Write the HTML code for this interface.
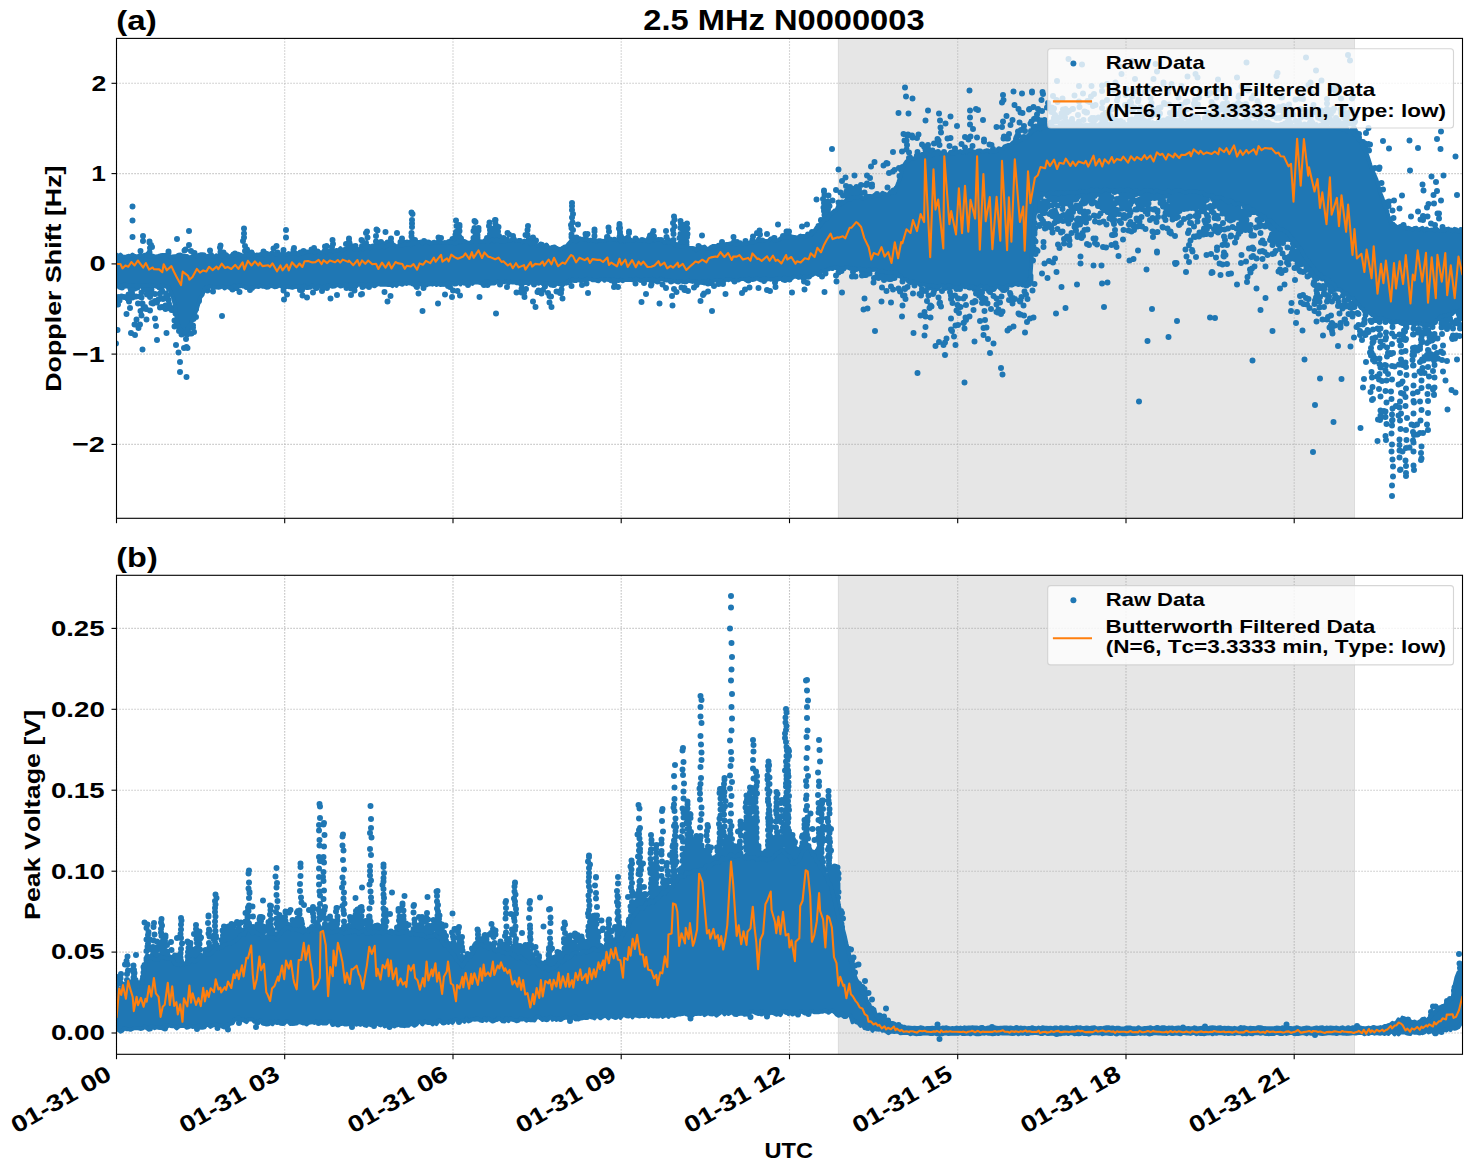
<!DOCTYPE html><html><head><meta charset="utf-8"><title>2.5 MHz N0000003</title><style>html,body{margin:0;padding:0;background:#fff;overflow:hidden}svg{display:block}text{font-family:"Liberation Sans",sans-serif;font-weight:bold;font-kerning:none}</style></head><body>
<svg width="1471" height="1172" viewBox="0 0 1471 1172">
<rect width="1471" height="1172" fill="#fff"/>
<rect x="838" y="38.4" width="516.9" height="479.9" fill="#e6e6e6"/>
<path d="M838.4 38.4V518.3M1354.5 38.4V518.3" stroke="#dadada" stroke-width="0.9" fill="none"/>
<rect x="838" y="575.3" width="516.9" height="479" fill="#e6e6e6"/>
<path d="M838.4 575.3V1054.3M1354.5 575.3V1054.3" stroke="#dadada" stroke-width="0.9" fill="none"/>
<g stroke="#b0b0b0" stroke-width="1.1" stroke-dasharray="1.1 1.9" fill="none"><path d="M116.5 38.4V518.3"/><path d="M284.7 38.4V518.3"/><path d="M453 38.4V518.3"/><path d="M621.2 38.4V518.3"/><path d="M789.5 38.4V518.3"/><path d="M957.7 38.4V518.3"/><path d="M1126 38.4V518.3"/><path d="M1294.2 38.4V518.3"/><path d="M116.5 83.3H1462.5"/><path d="M116.5 173.6H1462.5"/><path d="M116.5 263.9H1462.5"/><path d="M116.5 354.1H1462.5"/><path d="M116.5 444.4H1462.5"/></g>
<g stroke="#b0b0b0" stroke-width="1.1" stroke-dasharray="1.1 1.9" fill="none"><path d="M116.5 575.3V1054.3"/><path d="M284.7 575.3V1054.3"/><path d="M453 575.3V1054.3"/><path d="M621.2 575.3V1054.3"/><path d="M789.5 575.3V1054.3"/><path d="M957.7 575.3V1054.3"/><path d="M1126 575.3V1054.3"/><path d="M1294.2 575.3V1054.3"/><path d="M116.5 628.4H1462.5"/><path d="M116.5 709.3H1462.5"/><path d="M116.5 790.2H1462.5"/><path d="M116.5 871.2H1462.5"/><path d="M116.5 952.1H1462.5"/><path d="M116.5 1033H1462.5"/></g>
<defs><clipPath id="ct"><rect x="116.5" y="38.4" width="1346" height="479.9"/></clipPath><clipPath id="cb"><rect x="116.5" y="575.3" width="1346" height="479"/></clipPath></defs>
<g clip-path="url(#ct)">
<path d="M116 343.5h0M116 286h0M117.5 256.5h0M118 304.5h0M117.5 330h0M118.5 297.5h0M118.5 297h0M119.5 300.5h0M120.5 287h0M121 285.5h0M121.5 296.5h0M122 287.5h0M124 286h0M124 297h0M126.5 314h0M127 285.5h0M127.5 298.5h0M128.5 294.5h0M129.5 257h0M129 301.5h0M131 290.5h0M130.5 288.5h0M130.5 297h0M131 333h0M130 308h0M131.5 285h0M132 293h0M132.5 297.5h0M134.5 287h0M134.5 324.5h0M135 257h0M136 296.5h0M135 288.5h0M135 335h0M136 288h0M136.5 285.5h0M136.5 319.5h0M137.5 287.5h0M138 303.5h0M139 285.5h0M138.5 328h0M140 296.5h0M140.5 251h0M140 324.5h0M140.5 311h0M141.5 292.5h0M141.5 315.5h0M141.5 297.5h0M142.5 303.5h0M142.5 349.5h0M143.5 287.5h0M143.5 306.5h0M146 309h0M145 307h0M146.5 319.5h0M147 294.5h0M147 290.5h0M147.5 285h0M148.5 289.5h0M150.5 295h0M150 310.5h0M150 297h0M151 294h0M150.5 287.5h0M152 247h0M151.5 289.5h0M151.5 303h0M152.5 285h0M153 303.5h0M153.5 285h0M155 301h0M155 294h0M155 318.5h0M155 284h0M156.5 285.5h0M156 326h0M157 340h0M157 284h0M157 302.5h0M158.5 284h0M158.5 299.5h0M158.5 284.5h0M159.5 287.5h0M160 307.5h0M160 298.5h0M160 293.5h0M160.5 287.5h0M161.5 285.5h0M163 299h0M162 290.5h0M162 307h0M163.5 298.5h0M163.5 284.5h0M165.5 305.5h0M165.5 309h0M166 293.5h0M166.5 333h0M168 295.5h0M168.5 300h0M169 288.5h0M169.5 306.5h0M170 308.5h0M169 304h0M171.5 310h0M171.5 308h0M172.5 308.5h0M173.5 309h0M175 308.5h0M174.5 320.5h0M174.5 326.5h0M175.5 313.5h0M177 239h0M177 325.5h0M178.5 352.5h0M179 331h0M181.5 334.5h0M184.5 250.5h0M185.5 249.5h0M185.5 331.5h0M187 334.5h0M186 339h0M186.5 347h0M186.5 330.5h0M186.5 377h0M188 332h0M188 331h0M187.5 348h0M188 327.5h0M189 333.5h0M190.5 324h0M191 251h0M191.5 333.5h0M193 325.5h0M193 327.5h0M193.5 316.5h0M193.5 315.5h0M193 317h0M193.5 319h0M194 332h0M194.5 253h0M196 317h0M196 309h0M199 301h0M199 300.5h0M205 285h0M207.5 290.5h0M209 256.5h0M211 255h0M210 250.5h0M213 291.5h0M215 286h0M222 316h0M221 285.5h0M223.5 252.5h0M224 257h0M230.5 287h0M232.5 289.5h0M234 257h0M235 253.5h0M236.5 288h0M239.5 292h0M239.5 285.5h0M243.5 285.5h0M246.5 287h0M250 290h0M251.5 252.5h0M252 288h0M263.5 251.5h0M266 286h0M273.5 248.5h0M276.5 246h0M277.5 252.5h0M277.5 285h0M283.5 250h0M284 299.5h0M283.5 290.5h0M285 286.5h0M286 230h0M286 255.5h0M286 237.5h0M287 294.5h0M287.5 285h0M290 285.5h0M291.5 286.5h0M293.5 286h0M295.5 285.5h0M298.5 286h0M298.5 286.5h0M300.5 252.5h0M300 290h0M302.5 295.5h0M302 290h0M303.5 251h0M307 297.5h0M307 287h0M311.5 249.5h0M311.5 285h0M313 292.5h0M315 254h0M314 248h0M316.5 288h0M317.5 251.5h0M322 291h0M325 286.5h0M326.5 246h0M327 288h0M330.5 298.5h0M333 284.5h0M336 251.5h0M337 295h0M346 244h0M346.5 288h0M349 284h0M349.5 287h0M351 288.5h0M351 295h0M354.5 290.5h0M355.5 246h0M355 286h0M361 294.5h0M362 294h0M362 284.5h0M362.5 287h0M365.5 284.5h0M366 285.5h0M369 287h0M370 285h0M374.5 284h0M374 285h0M384.5 292h0M385.5 232h0M387.5 242.5h0M388 283.5h0M387.5 301.5h0M390.5 296h0M390.5 284h0M394.5 283h0M397 233h0M407 242.5h0M410 282.5h0M412 242h0M413 283.5h0M415 240h0M417 287h0M416.5 286.5h0M418.5 293.5h0M419.5 283h0M422.5 311h0M423.5 288h0M425 244.5h0M426 284.5h0M427.5 283h0M429 283.5h0M432.5 283h0M432 282.5h0M438 303.5h0M441 238h0M442 281.5h0M443.5 283.5h0M443.5 283.5h0M445 294.5h0M449 243h0M449 283.5h0M448 286h0M450 287h0M452 297h0M453 290.5h0M457.5 291h0M458 230h0M460 295.5h0M461 238.5h0M463.5 281h0M466.5 282.5h0M468 285h0M477.5 235h0M478.5 228h0M478.5 230.5h0M479.5 297h0M484 285h0M487 238h0M487.5 285h0M488.5 280.5h0M489 281h0M496 313.5h0M500 284.5h0M503.5 238h0M507 240h0M507.5 233h0M507 287h0M509 234.5h0M511.5 281h0M516.5 292.5h0M521.5 284.5h0M521.5 292.5h0M521.5 289h0M524 293h0M524.5 297h0M525.5 235h0M526 289h0M526 242h0M529 281h0M531.5 240h0M533 237.5h0M534 284.5h0M533 301.5h0M536 240.5h0M535.5 307h0M537.5 292h0M538.5 290.5h0M539 292h0M541.5 293.5h0M543 290h0M543.5 247h0M544.5 284.5h0M545 286.5h0M546.5 246.5h0M548 293h0M549.5 296h0M549.5 302.5h0M551 296.5h0M551.5 307h0M554 285h0M556.5 291.5h0M560 293h0M561 293h0M561 283.5h0M561.5 289.5h0M562.5 298.5h0M565 247.5h0M566.5 282.5h0M569.5 279.5h0M571.5 286h0M573 279h0M572.5 279.5h0M574.5 278h0M578 224.5h0M579 239h0M580 279.5h0M582 285h0M586.5 283.5h0M587.5 234h0M588 293h0M590.5 278h0M594 240.5h0M608.5 279h0M614 287h0M614 281.5h0M614.5 282.5h0M618 287h0M622.5 241h0M635.5 238.5h0M635.5 283.5h0M639.5 242h0M641.5 302h0M642 240h0M644 279h0M644 283h0M646 279.5h0M646 294h0M649 238.5h0M649.5 279h0M651 285.5h0M651.5 284h0M652 281.5h0M651.5 281.5h0M652.5 280h0M657.5 281.5h0M659.5 303.5h0M660.5 278.5h0M662.5 284.5h0M666 288h0M666 231h0M666.5 237h0M668 240h0M671 281.5h0M672 296h0M672.5 305.5h0M674 289h0M673 279h0M676 245h0M676.5 292h0M676.5 279.5h0M679 279.5h0M680.5 243h0M682 244.5h0M681.5 287.5h0M682 242.5h0M683 280.5h0M684.5 290h0M684.5 288h0M688 291h0M694 287.5h0M695 280.5h0M696.5 285h0M697 280.5h0M700.5 301h0M702 235.5h0M702.5 282h0M704 293.5h0M703 295h0M704.5 282.5h0M704.5 282.5h0M707.5 283h0M708 283.5h0M708 291.5h0M710.5 283h0M712 311h0M714 286h0M718.5 284h0M722 242h0M723 284h0M725.5 294h0M732.5 278.5h0M734.5 245h0M734.5 281.5h0M736 279.5h0M737 242h0M742 293h0M745 289.5h0M748.5 280.5h0M749.5 287.5h0M757 233h0M758.5 288h0M764 281h0M765.5 279h0M767 234h0M767 290h0M770 291h0M775 282.5h0M775 280h0M775.5 287h0M776 279.5h0M778 278.5h0M778 224.5h0M783 236h0M784 279h0M783.5 279.5h0M785 280h0M789.5 279.5h0M792 292.5h0M798.5 276.5h0M799.5 238h0M802 226.5h0M802.5 276.5h0M804.5 289.5h0M804 281.5h0M807 224.5h0M808 234.5h0M807.5 283h0M809 276.5h0M812 232h0M816.5 199.5h0M818.5 226h0M819 274h0M819.5 226.5h0M822 276.5h0M824 207h0M825 269h0M824.5 292h0M826 216.5h0M825.5 273.5h0M826.5 219h0M827.5 216h0M828.5 195.5h0M829 218.5h0M829.5 206h0M830 214h0M829 266.5h0M832 149h0M832.5 200.5h0M833.5 213h0M836 190h0M836 275.5h0M836.5 281.5h0M837 267.5h0M838.5 202.5h0M838.5 169.5h0M838.5 272.5h0M839.5 206h0M840.5 192.5h0M842 181h0M842 202.5h0M841.5 271h0M842 292.5h0M843 195.5h0M843.5 267.5h0M843.5 268.5h0M845.5 177.5h0M846 186h0M847 196h0M846.5 191.5h0M848 199.5h0M847.5 200.5h0M849 201h0M850.5 196.5h0M850.5 200h0M850 187h0M851 193h0M851.5 191.5h0M851.5 188.5h0M852.5 193.5h0M852 276.5h0M854 190h0M853 272h0M854.5 175.5h0M854.5 268.5h0M855.5 276.5h0M856 194.5h0M856.5 187h0M858 193h0M859 189h0M859 267.5h0M860.5 198h0M861.5 193h0M861 185h0M862 271.5h0M861 267.5h0M862 275.5h0M863.5 274h0M863.5 309.5h0M863 270h0M864.5 192.5h0M865 274h0M864.5 298.5h0M866 185h0M865 275h0M866 275h0M867 183.5h0M866.5 196.5h0M867 175.5h0M867.5 308.5h0M870 178h0M869.5 273.5h0M871 166.5h0M872 186.5h0M871.5 186.5h0M872 184.5h0M873.5 268.5h0M873.5 282.5h0M874.5 162h0M874 278h0M875 331h0M877 194h0M877.5 274h0M878.5 278h0M880.5 275h0M881.5 301.5h0M882 287.5h0M883.5 165.5h0M884 274.5h0M883 273h0M884 280h0M886.5 163h0M886.5 291h0M886.5 275.5h0M887.5 163.5h0M887.5 187.5h0M889 173h0M889 279h0M891 286.5h0M891 279h0M891 302.5h0M893 289.5h0M893 271h0M892 275.5h0M893 152h0M893 171.5h0M893.5 190.5h0M893 276.5h0M894.5 170h0M894.5 278h0M894.5 275h0M896.5 188.5h0M897 273.5h0M898.5 113h0M898.5 288.5h0M899 168h0M899.5 176h0M900 291.5h0M901 169.5h0M900.5 177h0M902 151.5h0M902.5 167h0M902 316.5h0M902.5 305.5h0M903 295.5h0M902.5 281.5h0M902.5 277.5h0M903.5 134h0M904.5 140.5h0M904.5 295.5h0M904.5 288.5h0M905 87.5h0M905 289h0M905.5 299h0M906.5 149.5h0M906.5 140.5h0M906 96.5h0M907.5 135.5h0M907 145h0M907.5 287h0M908.5 113.5h0M909 158h0M908 134.5h0M910 157.5h0M909 152.5h0M912 135.5h0M912.5 137.5h0M912.5 98.5h0M913.5 333h0M913 293.5h0M913.5 281.5h0M914.5 283.5h0M914.5 285.5h0M917.5 152h0M917 155.5h0M917 138h0M917.5 373h0M918.5 134.5h0M919.5 294h0M920.5 294.5h0M921 295.5h0M920.5 315.5h0M922 144.5h0M922 289h0M921.5 292.5h0M924 146.5h0M924.5 147h0M924.5 312h0M924.5 335.5h0M925.5 150h0M925.5 120.5h0M925.5 327h0M925.5 316.5h0M926 291h0M928 145h0M928 110.5h0M927 301h0M928 148.5h0M928.5 295.5h0M928 288h0M929 153h0M929.5 308h0M930.5 317.5h0M930.5 286h0M930.5 305.5h0M932 154.5h0M931.5 306.5h0M932.5 150.5h0M932 287.5h0M933.5 154h0M934 143.5h0M933 294h0M933.5 293h0M934 291h0M935.5 346h0M935.5 286.5h0M935 284h0M937.5 139h0M938 152h0M937.5 288h0M938.5 140.5h0M938.5 297.5h0M939.5 145h0M940 120.5h0M939 113.5h0M939 342h0M939.5 303.5h0M940.5 127.5h0M940 302.5h0M941 306.5h0M941 132.5h0M942 291h0M944 152h0M943.5 345h0M944.5 155h0M945 288h0M945 355h0M945.5 123.5h0M945 342.5h0M946.5 338.5h0M947.5 138.5h0M949.5 146h0M949.5 146h0M949.5 287.5h0M950 292h0M950.5 138h0M950.5 116.5h0M951 295.5h0M951 299h0M952 331h0M951 318.5h0M951 329.5h0M952.5 303h0M953.5 152h0M954 336.5h0M955 148.5h0M955.5 345h0M955.5 325.5h0M955 295.5h0M957 126h0M956.5 284.5h0M956.5 289h0M956.5 310.5h0M958 325h0M957.5 305h0M958 298.5h0M958.5 298.5h0M959 313h0M960 289h0M960.5 307h0M961.5 144h0M964 152.5h0M963.5 298.5h0M963.5 323h0M965 147.5h0M964.5 382.5h0M964.5 328.5h0M964 322.5h0M965 296.5h0M965 137h0M966 305h0M965.5 317.5h0M966 320h0M968.5 139.5h0M968 285h0M969.5 90.5h0M970 110.5h0M969.5 316.5h0M969.5 287.5h0M970 117.5h0M970.5 150.5h0M970 124.5h0M970.5 136.5h0M970 287.5h0M972.5 146h0M972.5 302.5h0M973 129h0M973.5 302.5h0M973.5 310h0M974.5 341.5h0M975 286.5h0M974.5 289h0M975 301h0M975.5 301.5h0M977 137.5h0M976 109h0M976 293.5h0M977.5 294h0M978.5 151.5h0M978 110h0M979 295.5h0M980 321h0M979.5 291.5h0M980 293h0M981.5 298h0M982 292.5h0M982 303h0M983 120h0M982.5 297.5h0M984 141.5h0M983.5 328h0M983.5 335h0M984 299h0M984 139.5h0M985 320h0M984.5 311h0M984.5 288.5h0M985.5 299h0M986.5 303h0M986.5 327.5h0M987.5 303.5h0M989 291h0M988 339h0M989.5 144.5h0M989.5 290.5h0M990 353h0M990 292h0M991.5 145h0M992 286h0M991 309h0M993 149h0M993.5 289h0M993.5 287h0M993.5 296h0M993.5 343.5h0M996.5 127h0M996.5 304.5h0M996.5 312h0M996.5 298.5h0M997.5 312.5h0M999 149.5h0M998.5 309.5h0M1000 302.5h0M1001 368h0M1002 102.5h0M1002 127h0M1001.5 296.5h0M1002 286.5h0M1001 313h0M1001 314h0M1003 121.5h0M1003 290h0M1002.5 311.5h0M1002.5 374.5h0M1003.5 138.5h0M1003.5 100h0M1003 95h0M1004 137.5h0M1004 136.5h0M1004 285.5h0M1004.5 290h0M1005 286.5h0M1006.5 116h0M1006.5 288h0M1007 138.5h0M1007.5 330.5h0M1008 138.5h0M1008.5 146.5h0M1009 300h0M1009 134h0M1010 293h0M1009.5 328.5h0M1010.5 125h0M1010.5 294.5h0M1011.5 284.5h0M1012.5 120h0M1012.5 303.5h0M1013 298h0M1013.5 91.5h0M1013.5 326.5h0M1014.5 105h0M1016 139h0M1015 299h0M1016.5 137.5h0M1017.5 135.5h0M1018.5 135.5h0M1018.5 109h0M1018 131.5h0M1018.5 313.5h0M1018.5 284h0M1019.5 122.5h0M1020 301.5h0M1019.5 314.5h0M1020.5 112.5h0M1020.5 300h0M1020.5 314.5h0M1021 130h0M1021.5 297h0M1022.5 113h0M1022 93.5h0M1024 126h0M1023.5 140h0M1024 137h0M1023.5 305.5h0M1024 315.5h0M1024.5 291.5h0M1025 131h0M1026 294.5h0M1025 332.5h0M1026.5 285.5h0M1027 322h0M1027.5 299h0M1029 284h0M1029 109.5h0M1029.5 109h0M1030 318.5h0M1030.5 123.5h0M1030.5 278h0M1030.5 276h0M1030.5 280h0M1031.5 121.5h0M1031 131h0M1032 91.5h0M1032 92.5h0M1032.5 290.5h0M1032 245.5h0M1033.5 127h0M1034 119h0M1033.5 107h0M1033.5 250.5h0M1033 260.5h0M1033.5 317.5h0M1033.5 247h0M1034.5 127h0M1034.5 230.5h0M1034.5 223h0M1034.5 234h0M1034.5 229h0M1034.5 232.5h0M1034.5 284h0M1035 228.5h0M1034.5 240.5h0M1034 239.5h0M1036 126.5h0M1035 118.5h0M1035 129.5h0M1035.5 254h0M1035.5 241.5h0M1035.5 206.5h0M1035.5 207.5h0M1035 212h0M1037 129h0M1036.5 200.5h0M1036.5 250h0M1037.5 119h0M1037 114.5h0M1038 109h0M1037 194h0M1038 210.5h0M1037 207h0M1037.5 251h0M1038 127h0M1038.5 202.5h0M1038.5 206h0M1040 123h0M1039.5 225h0M1039.5 226h0M1039.5 203h0M1040.5 197h0M1040.5 204.5h0M1040 197h0M1040.5 194h0M1040 216.5h0M1040.5 195h0M1041.5 125h0M1042 121h0M1041.5 100h0M1042 111h0M1042 125.5h0M1041 120.5h0M1041 208.5h0M1041.5 207.5h0M1042 273.5h0M1041.5 203h0M1041.5 219h0M1041.5 194.5h0M1042.5 92h0M1042.5 128.5h0M1042.5 125.5h0M1042.5 203.5h0M1043 213h0M1043 94h0M1043.5 242h0M1044 201.5h0M1043 221h0M1044 203h0M1043.5 247h0M1045 125.5h0M1044.5 125h0M1044 124.5h0M1044.5 128.5h0M1044.5 120h0M1044.5 121.5h0M1044.5 263.5h0M1044.5 213h0M1044.5 208.5h0M1045 228.5h0M1044.5 223.5h0M1044 202.5h0M1045.5 209h0M1047 128h0M1046 193h0M1046.5 207.5h0M1046 228h0M1047 107.5h0M1048 226h0M1047.5 201h0M1047.5 195.5h0M1047.5 201h0M1047.5 204.5h0M1047.5 278h0M1048 206.5h0M1048 103h0M1048.5 224h0M1049 261h0M1050 125.5h0M1049.5 199h0M1049.5 214h0M1050.5 109h0M1051 122.5h0M1050.5 196h0M1050.5 226h0M1051.5 112h0M1051.5 107.5h0M1051 124h0M1051.5 212h0M1051.5 228h0M1052 199.5h0M1052.5 127h0M1053 262.5h0M1052 205.5h0M1052.5 232.5h0M1052.5 216h0M1054 128h0M1053 111h0M1053 96h0M1053.5 214h0M1054 108.5h0M1054 118h0M1054.5 203.5h0M1054 216.5h0M1054.5 223h0M1055 258.5h0M1054.5 197h0M1054.5 211h0M1055.5 121.5h0M1055 115h0M1056 213.5h0M1056 313.5h0M1056 217h0M1055.5 218h0M1055.5 196.5h0M1055 211h0M1056.5 100h0M1057 120h0M1056.5 118.5h0M1056.5 193h0M1056.5 218h0M1056 215.5h0M1056.5 272h0M1057.5 102h0M1057 81h0M1057 196.5h0M1058 198h0M1057.5 192.5h0M1057.5 229h0M1058 221h0M1057.5 205.5h0M1057.5 199h0M1058 244.5h0M1060 128h0M1059.5 117.5h0M1060 220h0M1059.5 217h0M1059.5 248h0M1060.5 124h0M1060.5 217.5h0M1061 232.5h0M1060.5 216.5h0M1061.5 113.5h0M1061.5 287h0M1062 195.5h0M1062 193.5h0M1061.5 201h0M1062 192h0M1062.5 98.5h0M1062.5 123h0M1062 126.5h0M1062.5 192.5h0M1062.5 209h0M1063 193h0M1063 204.5h0M1062.5 231.5h0M1063 195.5h0M1062.5 198h0M1062 198.5h0M1064 126.5h0M1063 109.5h0M1063.5 117h0M1063.5 215h0M1064 239h0M1063 221h0M1064 243.5h0M1064 203.5h0M1064.5 197.5h0M1065.5 109h0M1065 117.5h0M1065.5 308h0M1066 121.5h0M1067 112.5h0M1066.5 125h0M1066.5 219h0M1066.5 198h0M1068 213h0M1067.5 191.5h0M1067.5 192.5h0M1067.5 221h0M1067 236.5h0M1067 202h0M1067.5 193.5h0M1068.5 123h0M1068.5 59h0M1069 111h0M1068 201h0M1068 217h0M1068.5 195.5h0M1068.5 223.5h0M1069 211.5h0M1068 200h0M1068 203.5h0M1069.5 123.5h0M1070 125h0M1070 213h0M1069 238h0M1069.5 245h0M1069.5 240.5h0M1069.5 196.5h0M1070.5 126h0M1071 121.5h0M1070 199.5h0M1070.5 203.5h0M1070.5 214h0M1070.5 219.5h0M1070.5 205.5h0M1071 126h0M1072 120h0M1071 197.5h0M1071.5 216.5h0M1071 195.5h0M1071.5 233h0M1071.5 218h0M1071.5 207.5h0M1071.5 197h0M1073 109h0M1072 119h0M1072.5 109h0M1072.5 127.5h0M1072.5 191h0M1072 191h0M1073 212h0M1073.5 196.5h0M1073 199.5h0M1073.5 191h0M1074.5 95.5h0M1074.5 124h0M1074.5 126h0M1074.5 199.5h0M1074 193.5h0M1074.5 195.5h0M1074.5 208h0M1075 225h0M1074.5 227h0M1076 206.5h0M1076 226.5h0M1075.5 190h0M1076 196h0M1076.5 199h0M1077 193.5h0M1077 207.5h0M1076.5 208h0M1077 220h0M1076 230.5h0M1076.5 205.5h0M1078 115h0M1077.5 235h0M1077.5 197h0M1077.5 237h0M1077 284.5h0M1078 218.5h0M1078 195.5h0M1079 101.5h0M1078 222h0M1079 86h0M1079.5 107h0M1079 121.5h0M1080 224.5h0M1080 208h0M1080.5 256.5h0M1080 211.5h0M1080.5 219h0M1080.5 263.5h0M1082 64.5h0M1081.5 238h0M1081.5 194.5h0M1081.5 203.5h0M1082 194h0M1082 126h0M1083 201h0M1083 236h0M1083 193.5h0M1082.5 196h0M1082.5 193h0M1082.5 233h0M1082 191h0M1082 221h0M1083.5 120h0M1083 93.5h0M1083.5 203.5h0M1083 194h0M1084 214.5h0M1084.5 111.5h0M1085 219h0M1085 203h0M1085 215h0M1084.5 230h0M1084 192h0M1084.5 211.5h0M1086 222.5h0M1086 199.5h0M1085.5 202h0M1086 112.5h0M1087 112.5h0M1086 189h0M1086.5 200.5h0M1087.5 101h0M1087.5 195.5h0M1087 244h0M1087.5 190.5h0M1087.5 196.5h0M1087.5 229.5h0M1087 193.5h0M1088.5 198h0M1088 212h0M1089 245h0M1089.5 126h0M1089.5 102h0M1089 218h0M1089 196.5h0M1090 193.5h0M1089.5 191.5h0M1090.5 119.5h0M1090 201h0M1090.5 195h0M1091.5 86h0M1092 118h0M1091 96.5h0M1091.5 203h0M1091.5 192.5h0M1092 195.5h0M1092 203.5h0M1092.5 200h0M1093 106h0M1093.5 123.5h0M1093.5 238.5h0M1093.5 265.5h0M1094 94h0M1094 118h0M1094.5 196h0M1094.5 202.5h0M1094 215.5h0M1096 126h0M1095 120h0M1095.5 105h0M1095.5 216h0M1095.5 238.5h0M1095 188.5h0M1095 221.5h0M1095 243h0M1096 190h0M1097 244.5h0M1097 190h0M1096 188.5h0M1097 194h0M1097.5 191.5h0M1097 190h0M1098.5 117.5h0M1098 126h0M1098 206h0M1098.5 188.5h0M1098.5 203.5h0M1098.5 216h0M1099.5 193.5h0M1099.5 189.5h0M1099.5 222.5h0M1101 206.5h0M1101 189.5h0M1100.5 213.5h0M1100.5 200.5h0M1100.5 191.5h0M1101 118h0M1101 124h0M1102 91h0M1101.5 126h0M1102 108h0M1102 85.5h0M1101.5 195.5h0M1102 195h0M1101.5 265.5h0M1102 283.5h0M1101 193.5h0M1101.5 200h0M1102 200h0M1101.5 197.5h0M1102.5 125.5h0M1102.5 118h0M1102.5 102.5h0M1103 123h0M1102.5 102.5h0M1102 119h0M1102 207.5h0M1103.5 115h0M1103 115h0M1103.5 120h0M1103 195h0M1104 307h0M1103 203h0M1103.5 204h0M1103 247h0M1104 192h0M1104 210h0M1104 199.5h0M1103.5 221.5h0M1104 203h0M1104.5 124.5h0M1104.5 189.5h0M1104.5 203h0M1105 198h0M1105.5 117h0M1105.5 123h0M1105.5 113h0M1105.5 116.5h0M1105.5 209.5h0M1105 198.5h0M1106 247.5h0M1105.5 207h0M1107 116h0M1107 100h0M1107 84h0M1106.5 224.5h0M1108 112.5h0M1107.5 118h0M1108 206.5h0M1107 201.5h0M1107.5 282.5h0M1107.5 202.5h0M1107.5 212h0M1108.5 111.5h0M1109 109h0M1108.5 194h0M1108.5 211.5h0M1110 124.5h0M1109.5 124.5h0M1109 197h0M1109.5 206.5h0M1109 204.5h0M1109.5 196.5h0M1109.5 218.5h0M1109 205.5h0M1110.5 125h0M1110.5 116h0M1110 118h0M1110 199h0M1110 190.5h0M1111 213h0M1111 188.5h0M1111.5 109.5h0M1111.5 197.5h0M1111 215.5h0M1111.5 245h0M1111 202h0M1112 118.5h0M1113 121h0M1112 235h0M1112.5 220h0M1113 211h0M1113 211h0M1113.5 222h0M1113.5 207.5h0M1113.5 235h0M1114 219.5h0M1114 224h0M1113.5 214h0M1113.5 205h0M1113.5 204h0M1114 90h0M1115 120h0M1114.5 212.5h0M1115 203h0M1115 203.5h0M1114.5 192h0M1115 230h0M1116 123.5h0M1115.5 82.5h0M1116 108.5h0M1116 89.5h0M1116 120.5h0M1115.5 189.5h0M1115.5 243.5h0M1115.5 189.5h0M1116 213.5h0M1115 234.5h0M1115 214.5h0M1116.5 121h0M1116.5 247h0M1117 199h0M1117 210h0M1117 100.5h0M1117 190h0M1118 189.5h0M1118 96.5h0M1118 202.5h0M1118.5 256h0M1119.5 66.5h0M1119 199.5h0M1119.5 221h0M1119 214h0M1119.5 191.5h0M1120.5 121h0M1121 201h0M1120.5 198h0M1120 189h0M1120.5 190h0M1121 192.5h0M1121.5 74h0M1121 223h0M1121.5 201.5h0M1122 205.5h0M1122 196h0M1122.5 191h0M1122 208.5h0M1123 122.5h0M1124 193h0M1124 215h0M1123.5 217h0M1123 239.5h0M1124 196.5h0M1123.5 230h0M1125 113.5h0M1125 216h0M1125 193.5h0M1125 105h0M1125.5 95h0M1125.5 199.5h0M1125 198.5h0M1125.5 201.5h0M1125 218h0M1125.5 195h0M1126.5 89h0M1126.5 105h0M1127 209h0M1126.5 216.5h0M1126.5 205.5h0M1128.5 230.5h0M1129 224.5h0M1129 193h0M1129 194h0M1129 189h0M1129 203.5h0M1128.5 192h0M1130 124h0M1130 101.5h0M1129.5 215.5h0M1129.5 215h0M1130 197h0M1129.5 210h0M1129.5 189.5h0M1130 191.5h0M1130 197h0M1129.5 205.5h0M1129.5 210.5h0M1129.5 260.5h0M1130 120h0M1131 102.5h0M1130.5 192.5h0M1130.5 222h0M1130.5 212.5h0M1130.5 204h0M1131.5 106.5h0M1131.5 111.5h0M1131.5 95.5h0M1131.5 231.5h0M1132 201.5h0M1132 192h0M1131 191.5h0M1131 202h0M1132.5 96.5h0M1132.5 61h0M1133 109h0M1132.5 123.5h0M1132 119.5h0M1132.5 121.5h0M1133 225.5h0M1132.5 190h0M1132.5 190.5h0M1132.5 197.5h0M1134 230h0M1133.5 259h0M1133 190.5h0M1133.5 191h0M1134.5 107.5h0M1134.5 91.5h0M1134 225h0M1135 79h0M1135.5 226.5h0M1135.5 209.5h0M1136.5 119h0M1137 91h0M1136 123h0M1136 194h0M1136.5 218.5h0M1137 192.5h0M1137 209.5h0M1137 117h0M1137.5 115h0M1137.5 121h0M1137.5 117.5h0M1138 101.5h0M1137 190h0M1138 250.5h0M1138 201h0M1137 220h0M1137.5 200.5h0M1137.5 226.5h0M1137.5 202.5h0M1138.5 99.5h0M1138.5 118.5h0M1138.5 204h0M1139 401.5h0M1138.5 189.5h0M1138 208.5h0M1138 192h0M1139 121.5h0M1139.5 125h0M1139.5 221.5h0M1139.5 201.5h0M1140.5 121h0M1140.5 107.5h0M1140 110h0M1140 199.5h0M1140.5 193.5h0M1141 120.5h0M1141.5 125.5h0M1141.5 209h0M1141.5 217h0M1141.5 217h0M1142 207h0M1142.5 115h0M1142 193h0M1142.5 201.5h0M1142 226.5h0M1142.5 199h0M1144 120.5h0M1143.5 204.5h0M1143 201h0M1143 194.5h0M1143.5 195h0M1145 92h0M1145 196.5h0M1144 194h0M1145.5 121.5h0M1146 112h0M1145.5 203h0M1145.5 229h0M1145.5 211.5h0M1146 123.5h0M1146.5 269.5h0M1146.5 204h0M1146 198h0M1147.5 114h0M1147.5 214h0M1147.5 189.5h0M1147.5 341h0M1147.5 209.5h0M1147.5 212.5h0M1148.5 121.5h0M1149 124h0M1148 125h0M1148 190.5h0M1148 201.5h0M1148.5 195.5h0M1148.5 203.5h0M1148.5 196h0M1149.5 124h0M1150 124.5h0M1149.5 190h0M1150 198.5h0M1149.5 192.5h0M1149.5 209h0M1149.5 196.5h0M1150.5 98h0M1151 104h0M1151 116.5h0M1150 194h0M1150.5 196.5h0M1150 220h0M1150 191h0M1150.5 195h0M1151.5 103h0M1152 89h0M1151 190.5h0M1152 197h0M1151 195h0M1153 110h0M1152 309h0M1152.5 231.5h0M1152 192h0M1152.5 218h0M1153.5 79h0M1153 237h0M1154 232.5h0M1153.5 209.5h0M1154.5 124h0M1154.5 198h0M1155.5 114h0M1155.5 64h0M1155 195.5h0M1155 209h0M1155 190h0M1156.5 110.5h0M1157 252.5h0M1156 220h0M1156.5 222h0M1156 192h0M1156.5 196.5h0M1157 191.5h0M1157.5 123.5h0M1157 71.5h0M1157.5 212h0M1157.5 193h0M1157 251.5h0M1157.5 210.5h0M1157 195.5h0M1157.5 232h0M1159 121.5h0M1158.5 116h0M1158.5 108h0M1159 190.5h0M1158 196h0M1158.5 190.5h0M1158 197.5h0M1158 217h0M1160 113.5h0M1160 122.5h0M1159 108.5h0M1160 191h0M1160 190h0M1160.5 107.5h0M1160.5 203h0M1160.5 199h0M1160.5 191.5h0M1161 191.5h0M1162.5 203h0M1162.5 227h0M1163 227.5h0M1162 194.5h0M1163 206.5h0M1162.5 198h0M1163.5 82.5h0M1163.5 120.5h0M1163.5 84h0M1163 197.5h0M1164 217h0M1163.5 201.5h0M1163 195.5h0M1163 189.5h0M1164 103h0M1164 122h0M1164 189.5h0M1164.5 192h0M1165 104h0M1165.5 121h0M1166 207.5h0M1165.5 220h0M1165.5 213h0M1166.5 124h0M1166.5 195.5h0M1167 195h0M1166.5 210h0M1166 204.5h0M1167.5 121.5h0M1168 119h0M1168 93h0M1167.5 228.5h0M1167.5 194.5h0M1168 208h0M1168 196h0M1168.5 89h0M1168.5 190.5h0M1168.5 337h0M1169 189.5h0M1168.5 190.5h0M1169 214h0M1169 104.5h0M1169.5 214.5h0M1169.5 194.5h0M1169.5 232.5h0M1169.5 200h0M1170 199.5h0M1170 208.5h0M1170 113h0M1171 233.5h0M1171 211.5h0M1170.5 231.5h0M1170.5 195h0M1170.5 206h0M1172 118.5h0M1171.5 84h0M1173 121h0M1172.5 117h0M1173 213.5h0M1172 213.5h0M1172.5 203.5h0M1172.5 202h0M1173 197.5h0M1172.5 219.5h0M1174 110h0M1174 193.5h0M1174 123h0M1174.5 209h0M1175 122.5h0M1175 121.5h0M1176 120.5h0M1176 213h0M1175 263h0M1175.5 195h0M1175.5 218h0M1175.5 264h0M1175 236h0M1176 218h0M1176.5 124h0M1176.5 121h0M1177 189.5h0M1177 200.5h0M1177 198.5h0M1176.5 207.5h0M1176.5 208.5h0M1176 190.5h0M1176.5 208h0M1176.5 263h0M1176.5 205.5h0M1177.5 205h0M1177 201h0M1177 212.5h0M1177 321h0M1177 191h0M1178 217h0M1178 114h0M1178.5 97.5h0M1178.5 191h0M1178.5 202h0M1178.5 197.5h0M1178 200.5h0M1179 208.5h0M1179.5 113.5h0M1179.5 193.5h0M1179.5 211h0M1179.5 224.5h0M1179 225h0M1179 201.5h0M1179 206.5h0M1180.5 120.5h0M1180.5 110h0M1181 105h0M1180.5 194h0M1180 196.5h0M1180.5 199.5h0M1182 123h0M1181.5 86h0M1181.5 116.5h0M1181.5 89h0M1181 205.5h0M1181 223h0M1181.5 194h0M1181 195h0M1183 193h0M1182.5 196.5h0M1182.5 205h0M1182 200.5h0M1183 193h0M1184 209h0M1184.5 117.5h0M1184 219h0M1185 195.5h0M1185.5 102.5h0M1185 206.5h0M1186 204h0M1185.5 249.5h0M1186 272h0M1186 102h0M1186.5 204.5h0M1186.5 256.5h0M1186 202.5h0M1186.5 201h0M1186.5 208h0M1187 109.5h0M1187.5 101.5h0M1187.5 76.5h0M1187 191h0M1187 202.5h0M1188 233h0M1187.5 208.5h0M1187.5 206.5h0M1187.5 199.5h0M1189 121h0M1188.5 199.5h0M1188.5 196h0M1188.5 217.5h0M1188.5 201.5h0M1189 230.5h0M1189 245h0M1188.5 196.5h0M1188.5 198h0M1188.5 197.5h0M1190 122h0M1189 262h0M1189 206h0M1190 223h0M1190 216.5h0M1190.5 240.5h0M1191 223h0M1190 195h0M1191.5 119.5h0M1191.5 208h0M1192 195h0M1192 201.5h0M1191 190.5h0M1191 195h0M1193 116.5h0M1192.5 196.5h0M1192 250h0M1193 193.5h0M1192.5 196h0M1192.5 200h0M1192.5 251.5h0M1192.5 191.5h0M1192 198.5h0M1193 120.5h0M1194 103.5h0M1193 192h0M1194 236.5h0M1193.5 200.5h0M1193 202.5h0M1194.5 106h0M1195 100h0M1194 198h0M1195 237h0M1195 200.5h0M1194.5 196.5h0M1194 226.5h0M1195.5 74h0M1195 116.5h0M1195.5 200.5h0M1195.5 196.5h0M1195.5 208.5h0M1195.5 207h0M1195.5 216h0M1195.5 195h0M1196 191h0M1195 203h0M1196.5 106h0M1197 106h0M1196 194.5h0M1196 257h0M1197.5 117.5h0M1198 120h0M1198 120.5h0M1197.5 77.5h0M1197.5 221.5h0M1197 236h0M1198 203h0M1197 192h0M1197.5 212.5h0M1197.5 217h0M1198 119h0M1198 104.5h0M1199 97.5h0M1198.5 216h0M1199 236.5h0M1199.5 123h0M1200 198h0M1199.5 232.5h0M1199.5 212h0M1199 194h0M1199.5 193.5h0M1200 91h0M1200 123h0M1200.5 192.5h0M1200.5 206.5h0M1200.5 191.5h0M1201 192h0M1201.5 195.5h0M1202 196.5h0M1201 202.5h0M1202 234.5h0M1203 192.5h0M1203 197.5h0M1203 231.5h0M1202.5 206.5h0M1203.5 234.5h0M1203.5 203.5h0M1203.5 198.5h0M1204 228.5h0M1204 211.5h0M1204 230.5h0M1204.5 196.5h0M1204.5 220.5h0M1205 118h0M1206 196h0M1205 221h0M1205.5 223h0M1206 197.5h0M1206.5 112.5h0M1206 121.5h0M1206.5 192.5h0M1207 199.5h0M1206.5 255h0M1206.5 234h0M1207 215h0M1206.5 200h0M1207 229h0M1208 95h0M1208 220.5h0M1207.5 193.5h0M1207 207.5h0M1207.5 195.5h0M1209 113.5h0M1208.5 114.5h0M1208.5 207h0M1208 196h0M1208 217h0M1209 226.5h0M1210 118.5h0M1210 317.5h0M1210.5 93h0M1211 209h0M1210.5 206h0M1211.5 102h0M1211.5 121h0M1211.5 116h0M1212 211.5h0M1211.5 273h0M1212 272h0M1211 254h0M1211 234.5h0M1212.5 120h0M1213 105h0M1212 196h0M1212.5 272.5h0M1213.5 107.5h0M1213.5 213h0M1213.5 206.5h0M1214 229h0M1213 199h0M1215 115.5h0M1215 203h0M1214.5 218h0M1215.5 215.5h0M1215 198h0M1215.5 231h0M1215.5 205h0M1215.5 226h0M1215.5 197.5h0M1215.5 199h0M1215 318h0M1215.5 195.5h0M1216.5 97.5h0M1216 257.5h0M1217 198h0M1217 250h0M1216.5 217.5h0M1217.5 89.5h0M1217 107.5h0M1218 79.5h0M1217.5 112h0M1217.5 115.5h0M1217 247.5h0M1217.5 216h0M1217.5 218.5h0M1217.5 198.5h0M1217.5 196.5h0M1217.5 203.5h0M1218.5 119.5h0M1219 119h0M1218 232.5h0M1219 207h0M1218 218.5h0M1219 201h0M1219 205h0M1219.5 227h0M1219.5 230.5h0M1220 208.5h0M1219.5 263.5h0M1221 109.5h0M1220.5 197.5h0M1220.5 275h0M1220.5 197h0M1220 208.5h0M1221.5 107h0M1223 104h0M1222.5 123.5h0M1222.5 245h0M1223 205h0M1222.5 264.5h0M1222 204h0M1222.5 202.5h0M1222.5 213.5h0M1223.5 107h0M1224 105.5h0M1223.5 94h0M1223.5 256h0M1224 256.5h0M1223.5 199.5h0M1223 202.5h0M1224 200h0M1223 223h0M1223.5 199.5h0M1224 252.5h0M1225 201h0M1224 236.5h0M1224.5 229.5h0M1224.5 210.5h0M1225.5 119h0M1225.5 114h0M1225.5 97.5h0M1225.5 255h0M1226 201h0M1225 208h0M1225.5 200.5h0M1225 240h0M1226 202h0M1226 202.5h0M1226.5 107h0M1227 103h0M1226 109.5h0M1226.5 203h0M1227 207h0M1227 205.5h0M1226.5 205.5h0M1227 207h0M1228 112.5h0M1227.5 121h0M1227 245h0M1227.5 201h0M1227.5 205.5h0M1227.5 218.5h0M1227 215h0M1227.5 204h0M1227 264h0M1227.5 209.5h0M1229 120.5h0M1228 228.5h0M1228 199.5h0M1228.5 274h0M1229 214h0M1229.5 201.5h0M1229.5 220h0M1229 204h0M1230.5 236.5h0M1230.5 210.5h0M1230.5 220.5h0M1231 219.5h0M1231 207.5h0M1232 110h0M1231 121.5h0M1231 273.5h0M1231.5 204.5h0M1231 235.5h0M1233 121h0M1232.5 122.5h0M1232.5 123.5h0M1232 202h0M1233 219.5h0M1232.5 227h0M1233.5 105.5h0M1233 123.5h0M1234 217.5h0M1234 206h0M1234.5 216h0M1234 213h0M1235 208.5h0M1235.5 118.5h0M1235 242.5h0M1235 216.5h0M1236 207.5h0M1235.5 206h0M1235.5 212.5h0M1236.5 106h0M1236 121h0M1237 108.5h0M1237 284.5h0M1236.5 237.5h0M1236.5 210h0M1236.5 228.5h0M1236.5 217.5h0M1237 77.5h0M1238 212h0M1238 103.5h0M1238.5 103h0M1238.5 113.5h0M1238 122h0M1238.5 97h0M1238.5 112h0M1238.5 208h0M1238.5 209h0M1238.5 234h0M1239 95.5h0M1239 224.5h0M1240 218h0M1240 214h0M1241 107.5h0M1240 230h0M1240.5 231.5h0M1240 216.5h0M1240.5 228.5h0M1241 263h0M1241.5 86.5h0M1241.5 105h0M1241.5 122.5h0M1241.5 255h0M1241.5 220.5h0M1242 222h0M1242.5 222h0M1242.5 216.5h0M1243 228.5h0M1244 204h0M1243.5 211.5h0M1244 122h0M1244 225h0M1245 228.5h0M1244 221.5h0M1245 113h0M1245.5 106.5h0M1246 210.5h0M1245.5 230h0M1245 227.5h0M1246 261.5h0M1246 223h0M1245.5 208.5h0M1246 104h0M1246.5 114h0M1246.5 62.5h0M1246.5 117h0M1246 213.5h0M1247 282h0M1246 229.5h0M1246.5 220h0M1246.5 229h0M1246.5 214.5h0M1248 87.5h0M1248 120.5h0M1248 115h0M1247.5 115h0M1247.5 226.5h0M1247.5 277h0M1248 207.5h0M1247.5 206h0M1248 90.5h0M1248.5 121h0M1248.5 122h0M1249 214.5h0M1248 227h0M1249 208.5h0M1249 248.5h0M1250 230.5h0M1250 269.5h0M1251 115h0M1250 229h0M1250.5 272.5h0M1250.5 225h0M1252 111.5h0M1251.5 98.5h0M1252 268.5h0M1252 210h0M1251.5 208.5h0M1251.5 235.5h0M1251.5 257h0M1252 113h0M1252.5 247.5h0M1253 212h0M1252 235h0M1252.5 360.5h0M1253.5 95.5h0M1253 256h0M1253.5 249h0M1254.5 115.5h0M1254 111h0M1254.5 212h0M1254 235.5h0M1254.5 266.5h0M1255.5 123h0M1255.5 123h0M1256.5 211h0M1256.5 288.5h0M1256.5 258.5h0M1256 227.5h0M1257.5 116.5h0M1257.5 101h0M1257.5 220h0M1259 113h0M1259 104h0M1259.5 226.5h0M1259.5 223.5h0M1261 115h0M1261 121h0M1261 242.5h0M1260 251.5h0M1261 225.5h0M1260.5 310h0M1260.5 233h0M1261.5 123.5h0M1261 216h0M1261 218h0M1262.5 113h0M1262.5 121h0M1262.5 259h0M1262.5 241h0M1262 219.5h0M1262.5 240.5h0M1262.5 251h0M1263.5 111.5h0M1263.5 114.5h0M1264.5 115h0M1265 226.5h0M1264.5 252h0M1264 226h0M1264.5 243.5h0M1265.5 115h0M1265.5 266.5h0M1265.5 298h0M1266.5 111.5h0M1267.5 122.5h0M1267.5 125.5h0M1268 122.5h0M1267.5 124h0M1267.5 223h0M1267.5 255h0M1269 225h0M1269 221h0M1269 115.5h0M1269.5 222h0M1270 226.5h0M1270.5 220h0M1270 240h0M1270 227h0M1271 228h0M1271.5 125h0M1272 228.5h0M1272 220.5h0M1272 234.5h0M1272 223h0M1271 237.5h0M1272.5 116h0M1272.5 245h0M1272 234.5h0M1272.5 331h0M1272.5 254h0M1273.5 109h0M1274 241.5h0M1273.5 227.5h0M1273.5 226h0M1274 253.5h0M1275 228h0M1274.5 224.5h0M1275.5 110.5h0M1275 236h0M1275.5 251h0M1275 230.5h0M1275.5 238.5h0M1276.5 118h0M1276.5 76h0M1276.5 93.5h0M1276.5 237h0M1276 240.5h0M1277.5 73h0M1277 240h0M1277.5 233h0M1279 107h0M1278.5 271.5h0M1279 229h0M1278 240.5h0M1278.5 244.5h0M1280 110h0M1279.5 118h0M1279.5 242h0M1279.5 240.5h0M1280 126h0M1280 288.5h0M1280 249h0M1280.5 263h0M1280.5 232.5h0M1280 269.5h0M1281.5 97.5h0M1281.5 125h0M1281.5 231.5h0M1281.5 273h0M1281.5 236.5h0M1281.5 228.5h0M1282 97.5h0M1282.5 233.5h0M1282 238.5h0M1282.5 253.5h0M1282 239.5h0M1283 240h0M1283.5 112h0M1283 116h0M1283.5 106h0M1283 243h0M1285 116h0M1285 123.5h0M1284.5 284.5h0M1285 257.5h0M1286 125h0M1286 232h0M1285.5 230h0M1285.5 270h0M1287 122.5h0M1286 239h0M1287 262.5h0M1287 235h0M1287 117h0M1288 117.5h0M1287.5 237h0M1287.5 247.5h0M1289 115.5h0M1289 121h0M1288.5 109h0M1288.5 114h0M1289 104.5h0M1288.5 124h0M1288.5 113h0M1288.5 264.5h0M1288.5 235h0M1289.5 239h0M1289.5 256.5h0M1290 126.5h0M1290.5 116h0M1291 113h0M1290 122.5h0M1290 259h0M1291 127h0M1291.5 254h0M1291.5 303h0M1291 311h0M1291.5 239h0M1291.5 255h0M1291 236.5h0M1291 258.5h0M1292.5 114h0M1293 243.5h0M1292 252.5h0M1292.5 249h0M1293.5 115h0M1293.5 246h0M1294.5 268h0M1294.5 243h0M1295.5 99.5h0M1295.5 121h0M1295 259h0M1296 323h0M1295 253.5h0M1295 268h0M1295 280h0M1297 126h0M1296.5 251.5h0M1297 312h0M1297 267.5h0M1297.5 259h0M1297 244.5h0M1297.5 263.5h0M1298.5 257.5h0M1298.5 254.5h0M1299 247.5h0M1300 98.5h0M1299 122.5h0M1299.5 270.5h0M1299 247.5h0M1299.5 250h0M1300.5 109h0M1301 117.5h0M1300.5 271.5h0M1300 296h0M1300.5 255h0M1301 249.5h0M1300.5 264.5h0M1301 302.5h0M1302 115.5h0M1302 252h0M1301.5 260h0M1302 89.5h0M1302 264h0M1302.5 330.5h0M1303 255h0M1303 272h0M1303 295h0M1304 109.5h0M1303 99h0M1304 116h0M1303.5 304h0M1303 255h0M1304.5 124.5h0M1304.5 126.5h0M1304.5 254.5h0M1304.5 359.5h0M1304.5 260h0M1304 271.5h0M1305.5 259.5h0M1306.5 115h0M1306.5 117h0M1306 57.5h0M1307 265.5h0M1306.5 266h0M1306.5 267.5h0M1306 298h0M1307 304.5h0M1307.5 276.5h0M1308.5 85h0M1308.5 299h0M1308 261h0M1309 267h0M1309 111.5h0M1309.5 265h0M1309 270h0M1309.5 308h0M1310.5 82.5h0M1310 122.5h0M1310 275h0M1311.5 121.5h0M1311 121.5h0M1311 116.5h0M1311 109h0M1311.5 266.5h0M1312 93h0M1312.5 123h0M1312 123h0M1312.5 266h0M1313 452h0M1313.5 105h0M1313.5 284h0M1314.5 304h0M1314.5 285h0M1314 282h0M1314 272h0M1314.5 311h0M1315 300.5h0M1316 70.5h0M1315.5 111.5h0M1315 405h0M1315 277.5h0M1316 112.5h0M1316 297.5h0M1316.5 300h0M1317 293.5h0M1316 272.5h0M1316.5 286h0M1316.5 290.5h0M1316.5 321.5h0M1317.5 127h0M1318 299.5h0M1317 271.5h0M1317 278.5h0M1319 118h0M1318 117.5h0M1318.5 272h0M1318.5 274.5h0M1318 296h0M1318.5 285.5h0M1318.5 313.5h0M1320 378.5h0M1320 272.5h0M1319.5 307.5h0M1319.5 302h0M1320 297h0M1320.5 288h0M1321.5 110.5h0M1321.5 125.5h0M1321.5 119h0M1321.5 80.5h0M1322.5 319.5h0M1322.5 278.5h0M1323.5 120.5h0M1324 114.5h0M1323.5 275h0M1323 335.5h0M1323 286h0M1324 294h0M1324 293h0M1324 307h0M1324.5 288.5h0M1326 126.5h0M1326.5 124h0M1326.5 118.5h0M1327 99h0M1326.5 295h0M1327 319.5h0M1327 281.5h0M1327 301.5h0M1326.5 277.5h0M1327 103.5h0M1327 109h0M1327.5 113.5h0M1327.5 282.5h0M1328.5 122.5h0M1328.5 116h0M1328 317h0M1329 282.5h0M1328.5 284.5h0M1329 296.5h0M1328 299.5h0M1330 114.5h0M1330 119h0M1329.5 327.5h0M1329.5 280.5h0M1331 114h0M1331 129h0M1330.5 89.5h0M1331 291h0M1330.5 290h0M1330 283.5h0M1330.5 286h0M1332 331h0M1331 315.5h0M1331 325h0M1332 301.5h0M1332.5 126h0M1332 110h0M1332.5 122h0M1332.5 122h0M1332 323h0M1332.5 333.5h0M1332 327.5h0M1333 111h0M1333.5 422h0M1334 108.5h0M1335 88.5h0M1335 86h0M1335 298h0M1335 295h0M1335.5 91h0M1336 122.5h0M1335.5 124h0M1335.5 128.5h0M1335 325.5h0M1335 289h0M1336 118h0M1336.5 288.5h0M1336 287.5h0M1337.5 128.5h0M1337 123.5h0M1338 306h0M1338 298h0M1338 346h0M1338.5 121h0M1338.5 302h0M1339.5 125.5h0M1339.5 126.5h0M1339.5 313.5h0M1340.5 129.5h0M1340.5 109.5h0M1341 98.5h0M1340.5 327.5h0M1340.5 323h0M1340.5 326h0M1341 113h0M1341 123.5h0M1341.5 112.5h0M1341.5 379h0M1342.5 123.5h0M1342 125h0M1342.5 126.5h0M1343 295.5h0M1343 305.5h0M1342.5 308.5h0M1343.5 131.5h0M1344 129.5h0M1344 123.5h0M1344 117.5h0M1344.5 107h0M1344.5 319.5h0M1344.5 300.5h0M1345.5 126.5h0M1345.5 113h0M1346 120h0M1345.5 125h0M1345 126h0M1345 319.5h0M1345.5 306.5h0M1345.5 304.5h0M1346.5 123.5h0M1346.5 129h0M1346.5 323.5h0M1347.5 115.5h0M1348 55h0M1349 132h0M1348.5 314h0M1348.5 299h0M1350 121h0M1350 307.5h0M1349.5 296h0M1350 60.5h0M1350.5 123.5h0M1350.5 110.5h0M1351 303.5h0M1350 306h0M1350.5 346.5h0M1351 308h0M1352 313.5h0M1353 96.5h0M1353 130h0M1352 110.5h0M1352 98.5h0M1352.5 130h0M1352 297h0M1352 305.5h0M1352.5 313.5h0M1352.5 316.5h0M1354 128.5h0M1354 121h0M1354 123h0M1354 337.5h0M1354.5 114.5h0M1355 121.5h0M1354.5 307h0M1354.5 302.5h0M1355.5 116h0M1355 131h0M1357 136h0M1356.5 327h0M1357.5 133.5h0M1357.5 313h0M1359 137.5h0M1359 134h0M1358.5 314h0M1358.5 325h0M1360 331h0M1360 335h0M1360 141h0M1360.5 428h0M1362 340h0M1363 142h0M1363 387.5h0M1363 324.5h0M1364.5 323h0M1364 379h0M1364.5 319.5h0M1364 323h0M1365 333h0M1365 143.5h0M1365 146.5h0M1365.5 335h0M1365.5 315h0M1366.5 150h0M1366 133h0M1366 362h0M1367.5 150h0M1367.5 330h0M1368.5 128h0M1368.5 144h0M1369 150.5h0M1368.5 332h0M1368 331h0M1370 144.5h0M1370 352.5h0M1370.5 392h0M1371 355.5h0M1371 348h0M1370.5 320.5h0M1372 321h0M1371.5 352.5h0M1372.5 338.5h0M1373.5 341.5h0M1374 168.5h0M1374.5 361.5h0M1374.5 358h0M1374 359h0M1375 168h0M1375.5 320h0M1375 319.5h0M1375.5 337.5h0M1377.5 441h0M1377.5 328.5h0M1377 376.5h0M1379 329.5h0M1378 419.5h0M1379.5 167.5h0M1379 169h0M1379.5 364h0M1380 335h0M1381.5 183h0M1382 381h0M1383 141h0M1383 345.5h0M1383 189.5h0M1384 411h0M1385 417h0M1385 365h0M1385.5 371h0M1385.5 411.5h0M1385.5 319.5h0M1385.5 320h0M1386.5 206h0M1386.5 202.5h0M1386 337.5h0M1386 365.5h0M1388 353h0M1389 201.5h0M1388.5 206h0M1388 374h0M1389 148.5h0M1391 354h0M1390 353h0M1392.5 224.5h0M1392.5 210.5h0M1392.5 327h0M1392.5 420h0M1394 200.5h0M1393.5 218h0M1395 321.5h0M1394.5 366.5h0M1394.5 336.5h0M1396 406h0M1397 321h0M1398.5 384.5h0M1399 364.5h0M1398.5 415.5h0M1399.5 208.5h0M1400.5 345.5h0M1402 195.5h0M1401.5 352h0M1402 334.5h0M1403 335.5h0M1402.5 365h0M1402.5 451.5h0M1402.5 381.5h0M1403.5 225h0M1403.5 339.5h0M1403.5 394h0M1404 330.5h0M1405 331.5h0M1406 326.5h0M1406 367h0M1406 339h0M1409.5 140.5h0M1409.5 447.5h0M1410 170.5h0M1411 216.5h0M1411.5 424.5h0M1413 351.5h0M1412.5 355h0M1412.5 360h0M1413 432h0M1414 402.5h0M1413 440.5h0M1413 334.5h0M1413.5 328.5h0M1413.5 365.5h0M1415 347.5h0M1418 148h0M1418 211.5h0M1417.5 350.5h0M1418 330h0M1417 424.5h0M1417.5 434.5h0M1417.5 392h0M1418 322.5h0M1418 332.5h0M1419.5 371.5h0M1419 329h0M1420.5 219.5h0M1420 362h0M1420 349h0M1422 341h0M1421.5 342.5h0M1421.5 337h0M1421 333h0M1422.5 184.5h0M1423 433h0M1422.5 368h0M1423.5 190.5h0M1423 216h0M1423 220h0M1423.5 360.5h0M1424.5 373h0M1424.5 357h0M1425 328.5h0M1425 333.5h0M1427 207.5h0M1427.5 216.5h0M1428 330.5h0M1427 355h0M1427 343h0M1428.5 204h0M1428.5 350.5h0M1428.5 324.5h0M1429.5 337h0M1429.5 358.5h0M1430.5 354h0M1431.5 176.5h0M1431 223.5h0M1431.5 357h0M1433 388.5h0M1432.5 327h0M1432 340.5h0M1434 203.5h0M1433.5 195h0M1433 339.5h0M1433 355h0M1434.5 365h0M1434.5 387.5h0M1434.5 334h0M1435.5 229.5h0M1436 182h0M1435 225h0M1435.5 358h0M1437 191h0M1437.5 213.5h0M1437 139h0M1437 353h0M1437.5 338.5h0M1439 213.5h0M1438 358.5h0M1439 218.5h0M1440.5 149h0M1441 131.5h0M1441 200.5h0M1441.5 323.5h0M1442.5 227h0M1443 353h0M1442 321h0M1442.5 315.5h0M1443.5 229.5h0M1443.5 175.5h0M1443 320.5h0M1443 371.5h0M1444 319.5h0M1444.5 322.5h0M1446 321h0M1445.5 380.5h0M1446.5 313h0M1446.5 321.5h0M1447 326h0M1447.5 409.5h0M1447 329h0M1447.5 320.5h0M1447.5 316.5h0M1447 361h0M1448 314h0M1449.5 325.5h0M1450.5 311.5h0M1450 318.5h0M1451 230.5h0M1451.5 390h0M1452 338h0M1452.5 339h0M1453 335.5h0M1453 328.5h0M1453 322.5h0M1455 323.5h0M1455.5 156.5h0M1455.5 392.5h0M1455 338.5h0M1456.5 335.5h0M1456.5 320.5h0M1457 195h0M1457 359.5h0M1458.5 232h0M1459 314.5h0M1458.5 310h0M1458.5 313h0M1459.5 310h0M1459.5 324.5h0M1460 328.5h0M1460 317h0M1460 312h0M1459 312.5h0M1459.5 336h0M1459.5 319h0M1459 310.5h0M1460 316.5h0M1463 312.5h0M132.5 206.5h0M132.5 220.5h0M132.5 237h0M143 236h0M143 241h0M151 245h0M189 231h0M189 245h0M180 362h0M180 372h0M176 345h0M184 348h0M572.5 240h0M571.5 237h0M571.5 234.5h0M573 230h0M571.5 228h0M571 225h0M572.5 222.5h0M572 217.5h0M573 214h0M572 210h0M572 206h0M572 203h0M140 258h0M140.5 256h0M147.5 258h0M148 254.5h0M149.5 258h0M149.5 252.5h0M150 248h0M149.5 242.5h0M149.5 241.5h0M168.5 258h0M168.5 252.5h0M168.5 251.5h0M220 257.5h0M220.5 252h0M220 247.5h0M220.5 245.5h0M233 257h0M233.5 254.5h0M243.5 257h0M245 251h0M245 246h0M243 241h0M244 237.5h0M244 233.5h0M244 228.5h0M247 256.5h0M246.5 253h0M247 249.5h0M294.5 255h0M293.5 250h0M294 248h0M315.5 254h0M314.5 252h0M326 253h0M325.5 248.5h0M325 246.5h0M325.5 253h0M326 252h0M333 252.5h0M332 247h0M333 244h0M332.5 240h0M341.5 251.5h0M341.5 251.5h0M349 251h0M349.5 246.5h0M349.5 243h0M349 239.5h0M349 238.5h0M353.5 250.5h0M353.5 247.5h0M353 246.5h0M360.5 250h0M362 246h0M362 240.5h0M361.5 240h0M366 249.5h0M365.5 246.5h0M366.5 249.5h0M367.5 246.5h0M366 243h0M367.5 237.5h0M366 233h0M367 231.5h0M370 249h0M369.5 247h0M377 248.5h0M376 245h0M376 241.5h0M376 236h0M377.5 230.5h0M376.5 229.5h0M378.5 248.5h0M378.5 245h0M380.5 248h0M381.5 244h0M381 242h0M384 248h0M385 244h0M386 247.5h0M387 244.5h0M392 247.5h0M391 242h0M391 238.5h0M399.5 246.5h0M400.5 243h0M400.5 242h0M403 246.5h0M402 241h0M402 238.5h0M412 245.5h0M412 241h0M411.5 236.5h0M411.5 233h0M412 227h0M412 223.5h0M412 220h0M412.5 214h0M411.5 212.5h0M412 245.5h0M412.5 243h0M424.5 245h0M424 241h0M428 244.5h0M428.5 242.5h0M439 244.5h0M439.5 240.5h0M438.5 237.5h0M447.5 244h0M447 243h0M449 244h0M449 242h0M450 244h0M450.5 241.5h0M452 244h0M452 241h0M452.5 239h0M456.5 244h0M457 239.5h0M455.5 235h0M456 232h0M456.5 226h0M456 220.5h0M458.5 244h0M459.5 240.5h0M459.5 237h0M458.5 234h0M459.5 231h0M459.5 226.5h0M459.5 225h0M473 243.5h0M474 238h0M473.5 238h0M473.5 243.5h0M474 239.5h0M475 236.5h0M473.5 231h0M474.5 228h0M475.5 222h0M474.5 221h0M478 243h0M477.5 238h0M477.5 237.5h0M490 243h0M488.5 238h0M490 234h0M490 230h0M489 226h0M489.5 222.5h0M490 243h0M490.5 239.5h0M491 238.5h0M494.5 242.5h0M494.5 236.5h0M495 233h0M494 228.5h0M495.5 224h0M495.5 220h0M495 220h0M498 242.5h0M498 239h0M499 236h0M498 231.5h0M498.5 227h0M513 242h0M513.5 238.5h0M513 236h0M525.5 244h0M526 243.5h0M528 244.5h0M528.5 240h0M527.5 235h0M527.5 230h0M528 226h0M543 247.5h0M542.5 246.5h0M543.5 247.5h0M543.5 247h0M576 242h0M576.5 238h0M576.5 237.5h0M585 242h0M586 236h0M585.5 234h0M588 242h0M587.5 241.5h0M594.5 242h0M594.5 236h0M594.5 231.5h0M594.5 229.5h0M606.5 242h0M607 237h0M608 242h0M607.5 237h0M609 231.5h0M608.5 227.5h0M619 242h0M619.5 237h0M620 234h0M619 228.5h0M619.5 225h0M619.5 224h0M620.5 242h0M621 236.5h0M620 232h0M620 228h0M626 242h0M625 239h0M629 242h0M628 237.5h0M629 233h0M629 231.5h0M650 242h0M649.5 238.5h0M650 235.5h0M654 242h0M654 236.5h0M652.5 233.5h0M653.5 231h0M661 243h0M661 240h0M674 246h0M673.5 240h0M673.5 234h0M673 230h0M674.5 226.5h0M673 223h0M674.5 219.5h0M674 216.5h0M680 247.5h0M680.5 243.5h0M679.5 238h0M680.5 234h0M680.5 228h0M681 224h0M680.5 221h0M683.5 248.5h0M683 242.5h0M683 237h0M684.5 234h0M684 230.5h0M683.5 225h0M686.5 249h0M686 246.5h0M688 249h0M686.5 245h0M686.5 242h0M687 237h0M687.5 234h0M687.5 228.5h0M687 223.5h0M691 250h0M692 250h0M698.5 250.5h0M699 246.5h0M698.5 246h0M722.5 247.5h0M723 245.5h0M733 246.5h0M734 242h0M733.5 237h0M746 245h0M745.5 241h0M753 244h0M752.5 240h0M753 236.5h0M760 243h0M759 239.5h0M760 234.5h0M759.5 230.5h0M761 243h0M761.5 242.5h0M774.5 241.5h0M774.5 238h0M774 238h0M786.5 240h0M786.5 236h0M787.5 231.5h0M786.5 231.5h0M789 239.5h0M788.5 234h0M789 231.5h0M800.5 238h0M800.5 237h0M822 225.5h0M821 220.5h0M821 220h0M824.5 223.5h0M825 219.5h0M824.5 215h0M824 211h0M823.5 207.5h0M824 203h0M823 199h0M824.5 195h0M824 191.5h0M824 190.5h0M826.5 221.5h0M826 219h0M827 219.5h0M827 213.5h0M828 209.5h0M828 204h0M827.5 201.5h0M1371.5 322h0M1373 329.5h0M1372.5 343h0M1373 355h0M1373 360h0M1371.5 372h0M1372 377.5h0M1372.5 387h0M1373 399h0M1372 400h0M1379.5 322h0M1380.5 328.5h0M1380.5 341.5h0M1380 347.5h0M1379.5 358.5h0M1380.5 367.5h0M1379.5 374h0M1379 379.5h0M1379 389h0M1380.5 396.5h0M1380.5 410.5h0M1380.5 415.5h0M1380 420h0M1385.5 322h0M1386 332.5h0M1385.5 339.5h0M1387 347.5h0M1387 356.5h0M1385.5 370.5h0M1386.5 380.5h0M1385.5 391h0M1386.5 402.5h0M1385 411.5h0M1385.5 417h0M1386.5 424h0M1385.5 436h0M1386 440h0M1392 322h0M1392 333.5h0M1392 344h0M1393 353h0M1392 366h0M1392 379.5h0M1391 391.5h0M1391.5 399h0M1392.5 408.5h0M1392 414.5h0M1392 420.5h0M1392 425.5h0M1391.5 433.5h0M1392 444.5h0M1391.5 451.5h0M1392.5 459.5h0M1393 466.5h0M1393 476.5h0M1392 485.5h0M1392 496h0M1401 322h0M1399.5 334.5h0M1399.5 340.5h0M1401 345.5h0M1401 359.5h0M1400 373h0M1401 383.5h0M1401 393h0M1400 401.5h0M1399.5 407.5h0M1401 413.5h0M1400 420.5h0M1400.5 429h0M1399.5 439.5h0M1399.5 445h0M1399.5 450.5h0M1399.5 457.5h0M1400.5 469.5h0M1400 470h0M1406 322h0M1406.5 327.5h0M1405.5 340h0M1405.5 351h0M1405.5 362.5h0M1406.5 375h0M1406 388.5h0M1405.5 397h0M1405.5 406h0M1407 418h0M1406 430h0M1406.5 440h0M1406 448h0M1405.5 460.5h0M1406 466h0M1406 473h0M1406 476h0M1413 322h0M1413.5 334.5h0M1413 348h0M1414 355h0M1413 365.5h0M1414.5 375.5h0M1413.5 385.5h0M1413 393.5h0M1413.5 401h0M1413.5 413.5h0M1414 425.5h0M1414 435h0M1413.5 442.5h0M1413.5 451.5h0M1413.5 465.5h0M1414 470h0M1421.5 322h0M1421.5 332.5h0M1421 339.5h0M1420 346.5h0M1422 359.5h0M1421 373h0M1421.5 380.5h0M1421.5 388h0M1420 401.5h0M1421.5 410h0M1420.5 420.5h0M1420 433h0M1421.5 446.5h0M1421 453h0M1421.5 458.5h0M1421 460h0M1428.5 322h0M1429 333h0M1429 341.5h0M1428 350h0M1427.5 358.5h0M1428 367h0M1429 376.5h0M1428.5 386.5h0M1427.5 394h0M1428 401h0M1428 413h0M1427 424.5h0M1428 430h0M1435 322h0M1433.5 334.5h0M1434.5 347h0M1434 360.5h0M1433 371h0M1434.5 377.5h0M1433 389.5h0M1434 394.5h0M1434 395h0M1442.5 322h0M1441.5 327.5h0M1442 334h0M1443 345.5h0M1441 351.5h0M1442 360h0" stroke="#1f77b4" stroke-width="6" stroke-linecap="round" fill="none"/>
<path d="M116.5 254.5L118.5 256.7L120.5 254.6L122.5 256.7L124.5 256.8L126.5 256.4L128.5 255.8L130.5 256.3L132.5 254.6L134.5 256L136.5 257.4L138.5 256L140.5 255.5L142.5 256.1L144.5 254.8L146.5 255.1L148.5 256.2L150.5 256.5L152.5 255.5L154.5 256.4L156.5 256.5L158.5 256L160.5 255.3L162.5 255.1L164.5 254.9L166.5 254.9L168.5 255.3L170.5 257.2L172.5 256.4L174.5 256.2L176.5 256L178.5 254.7L180.5 254.5L182.5 255.5L184.5 256L186.5 255.9L188.5 256.9L190.5 257.5L192.5 255.8L194.5 255.1L196.5 256.4L198.5 255L200.5 254.3L202.5 254.3L204.5 254.6L206.5 256.8L208.5 256.8L210.5 256.9L212.5 255.9L214.5 256.6L216.5 255.3L218.5 256.1L220.5 255.2L222.5 256.8L224.5 254.3L226.5 254.2L228.5 256.3L230.5 256.1L232.5 254.8L234.5 255.5L236.5 254.2L238.5 253.8L240.5 254.6L242.5 255.5L244.5 255.7L246.5 253.7L248.5 256.1L250.5 253.5L252.5 253.1L254.5 255.4L256.5 254.6L258.5 254.8L260.5 254.3L262.5 253.2L264.5 255.4L266.5 252.8L268.5 254L270.5 253.3L272.5 252.4L274.5 253.5L276.5 254.8L278.5 255L280.5 254.9L282.5 252.9L284.5 254.1L286.5 254.8L288.5 253.1L290.5 253.7L292.5 253L294.5 253.2L296.5 252.7L298.5 254.4L300.5 252.7L302.5 253.3L304.5 252.9L306.5 251.4L308.5 251.7L310.5 251.8L312.5 251.1L314.5 252.6L316.5 251.6L318.5 251.9L320.5 252.5L322.5 252.3L324.5 249.7L326.5 252.3L328.5 250.5L330.5 250.1L332.5 251.2L334.5 251L336.5 250.1L338.5 250.4L340.5 248.2L342.5 250.5L344.5 248.9L346.5 248.6L348.5 247.7L350.5 248.1L352.5 247.8L354.5 249.5L356.5 249.1L358.5 249.4L360.5 248.3L362.5 249.3L364.5 248.5L366.5 246.5L368.5 246.5L370.5 248.1L372.5 245.6L374.5 247.2L376.5 246.4L378.5 247.4L380.5 247.3L382.5 245.1L384.5 247.4L386.5 246.2L388.5 244.8L390.5 244.7L392.5 244L394.5 245.1L396.5 246.4L398.5 246.2L400.5 245.5L402.5 245.7L404.5 243.6L406.5 244.7L408.5 243.7L410.5 245.1L412.5 242.2L414.5 243.6L416.5 242.1L418.5 242.1L420.5 241.6L422.5 243.3L424.5 241.9L426.5 241.6L428.5 242.7L430.5 243.8L432.5 242.3L434.5 241.8L436.5 242.6L438.5 241L440.5 242.8L442.5 242.7L444.5 242.1L446.5 242.7L448.5 242.3L450.5 242.9L452.5 242.6L454.5 243.3L456.5 243L458.5 240.9L460.5 242.3L462.5 241L464.5 240.9L466.5 242L468.5 242.8L470.5 242.6L472.5 240.7L474.5 241.9L476.5 242L478.5 242L480.5 241.2L482.5 242L484.5 240.3L486.5 241.9L488.5 242.1L490.5 240.3L492.5 239.4L494.5 241.3L496.5 239.3L498.5 240.5L500.5 241.7L502.5 241.2L504.5 241.8L506.5 239.1L508.5 240.3L510.5 240.8L512.5 239L514.5 239.1L516.5 241L518.5 240.1L520.5 240L522.5 242.1L524.5 240.6L526.5 241.1L528.5 241.2L530.5 244.3L532.5 242.7L534.5 242.7L536.5 245L538.5 245.3L540.5 243.5L542.5 243.9L544.5 246.8L546.5 244.5L548.5 247.7L550.5 247.9L552.5 246.9L554.5 246.4L556.5 247.8L558.5 248.7L560.5 249.5L562.5 247.7L564.5 247.9L566.5 246.4L568.5 243.8L570.5 241.5L572.5 239.8L574.5 241L576.5 241.2L578.5 239.3L580.5 238.9L582.5 238.8L584.5 239.6L586.5 239.6L588.5 240.3L590.5 239.7L592.5 240.4L594.5 239.3L596.5 241.3L598.5 240.2L600.5 240.3L602.5 241L604.5 240.6L606.5 239.6L608.5 239.1L610.5 238.7L612.5 239.5L614.5 238.7L616.5 240.2L618.5 238.8L620.5 241.2L622.5 238.7L624.5 241.3L626.5 239.3L628.5 240.7L630.5 239.5L632.5 240.6L634.5 240.3L636.5 238.6L638.5 240.7L640.5 240.6L642.5 240.4L644.5 239.8L646.5 240.7L648.5 241.2L650.5 240.9L652.5 239.2L654.5 240.4L656.5 239.7L658.5 239L660.5 240.1L662.5 240.1L664.5 242.4L666.5 241.3L668.5 243.1L670.5 242.3L672.5 243.5L674.5 245.3L676.5 246L678.5 246L680.5 246.6L682.5 245.8L684.5 246.5L686.5 247.9L688.5 248.1L690.5 247.9L692.5 248L694.5 248.5L696.5 250.2L698.5 249.3L700.5 247.2L702.5 247.2L704.5 246.6L706.5 248.8L708.5 248.8L710.5 247.3L712.5 246.1L714.5 246L716.5 246.2L718.5 244.7L720.5 245.5L722.5 246.7L724.5 244.7L726.5 244L728.5 243.9L730.5 243.3L732.5 243.7L734.5 244L736.5 244.6L738.5 243.5L740.5 242.2L742.5 244.2L744.5 244.1L746.5 243.2L748.5 243L750.5 242L752.5 243L754.5 241.5L756.5 241.1L758.5 240.2L760.5 240.4L762.5 239.5L764.5 240.7L766.5 240.9L768.5 240.9L770.5 238.6L772.5 238.8L774.5 240.4L776.5 240.3L778.5 239.9L780.5 238.2L782.5 238L784.5 237.6L786.5 237.4L788.5 237.3L790.5 236.1L792.5 236.8L794.5 236.9L796.5 237.6L798.5 237.1L800.5 235.6L802.5 236.1L804.5 236.1L806.5 236.8L808.5 235L810.5 234.9L812.5 233.1L814.5 230.9L816.5 227.6L818.5 226.9L820.5 225.2L822.5 222.4L824.5 219.7L826.5 219.7L828.5 216.5L830.5 213.8L832.5 213.2L834.5 210.4L836.5 210L838.5 205.4L840.5 204.3L842.5 203.2L844.5 202L846.5 200L848.5 199.5L850.5 199.7L852.5 197.5L854.5 197L856.5 197.7L858.5 197.3L860.5 196.4L862.5 198.2L864.5 198L866.5 196.3L868.5 195.9L870.5 195.9L872.5 196.5L874.5 194.8L876.5 195.2L878.5 195.5L880.5 195L882.5 192.7L884.5 193.7L886.5 194.5L888.5 194.1L890.5 191.4L892.5 192.6L894.5 193L896.5 187.2L898.5 181.9L900.5 175.9L902.5 168.2L904.5 164.3L906.5 161.5L908.5 160.2L910.5 158.6L912.5 158.7L914.5 158.8L916.5 155.2L918.5 156.1L920.5 154.9L922.5 153.9L924.5 154L926.5 153.2L928.5 155L930.5 155.1L932.5 155.2L934.5 153.6L936.5 154.1L938.5 154.1L940.5 153L942.5 154.1L944.5 153.6L946.5 154.5L948.5 154.5L950.5 151.8L952.5 153.3L954.5 153.9L956.5 151.5L958.5 151.9L960.5 151.1L962.5 152.4L964.5 151L966.5 152.3L968.5 150.5L970.5 150.9L972.5 151.3L974.5 151.7L976.5 151.5L978.5 151.3L980.5 150.4L982.5 152L984.5 150.9L986.5 150.3L988.5 150.4L990.5 152.1L992.5 151.3L994.5 151.4L996.5 151.2L998.5 148.6L1000.5 148.9L1002.5 149.1L1004.5 146.3L1006.5 145.6L1008.5 145L1010.5 144.9L1012.5 142.9L1014.5 141.5L1016.5 142.2L1018.5 141L1020.5 140.1L1022.5 137.7L1024.5 137.6L1026.5 137.2L1028.5 135L1030.5 133.4L1032.5 130.7L1034.5 129.9L1036.5 128.2L1038.5 127.7L1040.5 129.2L1042.5 126.6L1044.5 127.8L1046.5 126.9L1048.5 127.9L1050.5 126.2L1052.5 127.1L1054.5 128.5L1056.5 126.9L1058.5 127.5L1060.5 128L1062.5 126.3L1064.5 127.8L1066.5 127.4L1068.5 127.1L1070.5 125.5L1072.5 126.4L1074.5 127L1076.5 124.9L1078.5 125.3L1080.5 126.5L1082.5 126.4L1084.5 125.1L1086.5 124.7L1088.5 126L1090.5 124.3L1092.5 126.5L1094.5 126.1L1096.5 126.1L1098.5 126L1100.5 125.5L1102.5 124.4L1104.5 123.6L1106.5 125.3L1108.5 126L1110.5 123.4L1112.5 126.1L1114.5 124.9L1116.5 123L1118.5 123.2L1120.5 123.3L1122.5 124.2L1124.5 124.8L1126.5 124.4L1128.5 123.2L1130.5 123.5L1132.5 125.3L1134.5 123.1L1136.5 124L1138.5 122.8L1140.5 123.4L1142.5 122.4L1144.5 125.1L1146.5 122.4L1148.5 122.7L1150.5 124.4L1152.5 122.1L1154.5 123.8L1156.5 123.8L1158.5 121.9L1160.5 124.2L1162.5 123.6L1164.5 122.3L1166.5 124.4L1168.5 122.9L1170.5 121.8L1172.5 122.8L1174.5 121.6L1176.5 122.9L1178.5 122.9L1180.5 123.3L1182.5 122.6L1184.5 123.2L1186.5 122.1L1188.5 120.9L1190.5 121.7L1192.5 122.1L1194.5 120.8L1196.5 121.6L1198.5 122.7L1200.5 123L1202.5 122.1L1204.5 121.9L1206.5 122.9L1208.5 120.9L1210.5 121.9L1212.5 122.8L1214.5 121.7L1216.5 122.5L1218.5 121.8L1220.5 123.4L1222.5 122.3L1224.5 121L1226.5 123L1228.5 121L1230.5 121.9L1232.5 122.6L1234.5 121.6L1236.5 123.1L1238.5 121.2L1240.5 122.1L1242.5 123.2L1244.5 123.2L1246.5 120.8L1248.5 122.5L1250.5 122.2L1252.5 122.6L1254.5 122.7L1256.5 123.4L1258.5 122.7L1260.5 121.6L1262.5 122.3L1264.5 124.4L1266.5 122L1268.5 122L1270.5 123.2L1272.5 124L1274.5 124.5L1276.5 124.8L1278.5 124.9L1280.5 125.7L1282.5 125.5L1284.5 124.2L1286.5 123.7L1288.5 124.4L1290.5 123.7L1292.5 125.4L1294.5 125.7L1296.5 125.6L1298.5 125.3L1300.5 124.6L1302.5 125.8L1304.5 125.9L1306.5 124.8L1308.5 123.6L1310.5 124.9L1312.5 125.2L1314.5 126.6L1316.5 124L1318.5 126.3L1320.5 124.8L1322.5 125.9L1324.5 125.6L1326.5 125.5L1328.5 128.1L1330.5 127.8L1332.5 128.1L1334.5 126.5L1336.5 128.2L1338.5 128.3L1340.5 128.6L1342.5 129.8L1344.5 128.9L1346.5 130.8L1348.5 132L1350.5 131.7L1352.5 132.1L1354.5 134.3L1356.5 135.7L1358.5 139.8L1360.5 141.2L1362.5 145.6L1364.5 148.9L1366.5 153.1L1368.5 159L1370.5 165.3L1372.5 170.9L1374.5 174.9L1376.5 179.8L1378.5 186.1L1380.5 193.5L1382.5 198.3L1384.5 205.2L1386.5 208.9L1388.5 216.7L1390.5 220.6L1392.5 226.9L1394.5 225L1396.5 227L1398.5 226.7L1400.5 225.7L1402.5 227.6L1404.5 226.3L1406.5 228.4L1408.5 227.7L1410.5 228.6L1412.5 229.4L1414.5 228L1416.5 227.8L1418.5 229.9L1420.5 228.7L1422.5 227.7L1424.5 230.2L1426.5 228.5L1428.5 229.9L1430.5 229.8L1432.5 229.4L1434.5 230.7L1436.5 228.8L1438.5 230.2L1440.5 231.1L1442.5 230.7L1444.5 230.6L1446.5 229L1448.5 228.6L1450.5 230.6L1452.5 231.2L1454.5 228.8L1456.5 229.4L1458.5 231.5L1460.5 229L1462.5 229.3L1462.5 310.7L1460.5 309.7L1458.5 311.5L1456.5 311.7L1454.5 311.2L1452.5 313.8L1450.5 314.6L1448.5 314.8L1446.5 315.3L1444.5 315.1L1442.5 316.3L1440.5 316.6L1438.5 319.3L1436.5 320.3L1434.5 323.3L1432.5 324.7L1430.5 325.2L1428.5 324.9L1426.5 324.5L1424.5 324L1422.5 324.9L1420.5 323.6L1418.5 324L1416.5 323.2L1414.5 324.9L1412.5 323.9L1410.5 322.4L1408.5 323.6L1406.5 324.3L1404.5 322.5L1402.5 324.1L1400.5 323.4L1398.5 321.4L1396.5 321.8L1394.5 321L1392.5 320.9L1390.5 321.8L1388.5 320.3L1386.5 321.4L1384.5 319.7L1382.5 318.5L1380.5 317.9L1378.5 319.5L1376.5 318.3L1374.5 315.5L1372.5 315.4L1370.5 313.8L1368.5 312.2L1366.5 312.7L1364.5 312.2L1362.5 308.9L1360.5 307.8L1358.5 304.5L1356.5 303.3L1354.5 300.7L1352.5 297.9L1350.5 298.4L1348.5 296.7L1346.5 293.2L1344.5 293.2L1342.5 291.9L1340.5 289.8L1338.5 289.7L1336.5 289L1334.5 284.8L1332.5 282.9L1330.5 282.7L1328.5 279.7L1326.5 278.4L1324.5 277.3L1322.5 277.4L1320.5 274.5L1318.5 274.1L1316.5 272L1314.5 268.9L1312.5 266.2L1310.5 264.3L1308.5 260.5L1306.5 259L1304.5 256.2L1302.5 252.4L1300.5 248.6L1298.5 246.9L1296.5 243.2L1294.5 241.8L1292.5 238.9L1290.5 236.6L1288.5 233.7L1286.5 232.1L1284.5 231.2L1282.5 229.4L1280.5 229.7L1278.5 228.7L1276.5 225.8L1274.5 225L1272.5 221.8L1270.5 220.4L1268.5 221.3L1266.5 220.1L1264.5 216.4L1262.5 216.9L1260.5 214.3L1258.5 214.8L1256.5 212.8L1254.5 210.6L1252.5 209.1L1250.5 209.8L1248.5 206.2L1246.5 207.6L1244.5 207.7L1242.5 204.3L1240.5 204.3L1238.5 203.5L1236.5 204.2L1234.5 204L1232.5 201.4L1230.5 200.5L1228.5 202.6L1226.5 201.5L1224.5 199.5L1222.5 198.4L1220.5 197.2L1218.5 198.3L1216.5 197.1L1214.5 197.8L1212.5 195.6L1210.5 195.8L1208.5 195.8L1206.5 195L1204.5 194.4L1202.5 192.4L1200.5 193.2L1198.5 192.6L1196.5 191.5L1194.5 191.2L1192.5 191.2L1190.5 192.1L1188.5 191.5L1186.5 192.5L1184.5 192.5L1182.5 191.6L1180.5 190.4L1178.5 190.7L1176.5 191L1174.5 190.7L1172.5 192.9L1170.5 192.1L1168.5 190.2L1166.5 192.1L1164.5 192.2L1162.5 192.7L1160.5 191.9L1158.5 191.3L1156.5 190.2L1154.5 192.4L1152.5 191.9L1150.5 190.1L1148.5 190.7L1146.5 191.1L1144.5 190L1142.5 192.2L1140.5 192.2L1138.5 192.3L1136.5 190.4L1134.5 191.2L1132.5 191.4L1130.5 190.5L1128.5 189.7L1126.5 190L1124.5 190.8L1122.5 191.1L1120.5 189.4L1118.5 191.6L1116.5 190.5L1114.5 190.5L1112.5 190L1110.5 190.7L1108.5 190.6L1106.5 188.9L1104.5 189L1102.5 191.3L1100.5 191.2L1098.5 190.4L1096.5 189.4L1094.5 191L1092.5 189.8L1090.5 190.1L1088.5 191.2L1086.5 192.2L1084.5 191L1082.5 191.8L1080.5 190.6L1078.5 192.4L1076.5 192.3L1074.5 193.3L1072.5 192.4L1070.5 192.8L1068.5 192.2L1066.5 192.4L1064.5 194L1062.5 192.5L1060.5 192L1058.5 194.5L1056.5 192.6L1054.5 193.7L1052.5 193.7L1050.5 192.4L1048.5 193.4L1046.5 194.6L1044.5 194.5L1042.5 193.3L1040.5 193.2L1038.5 195.3L1036.5 193.5L1034.5 218.3L1032.5 245L1030.5 276L1028.5 282.4L1026.5 283.5L1024.5 285.4L1022.5 285.5L1020.5 283.9L1018.5 283.8L1016.5 284L1014.5 284.2L1012.5 285.3L1010.5 285.1L1008.5 285.2L1006.5 286.6L1004.5 287.6L1002.5 287.4L1000.5 288.9L998.5 286.6L996.5 286.4L994.5 288.9L992.5 288.5L990.5 289L988.5 288.4L986.5 286.4L984.5 288.5L982.5 286.9L980.5 285.8L978.5 288.5L976.5 288.3L974.5 287.3L972.5 286.1L970.5 286.5L968.5 287.6L966.5 287.1L964.5 287.2L962.5 285.1L960.5 287.6L958.5 287.2L956.5 287L954.5 287.2L952.5 287.4L950.5 285.8L948.5 285.2L946.5 286.2L944.5 287.1L942.5 285.5L940.5 286.1L938.5 286.1L936.5 286.7L934.5 286.8L932.5 285.4L930.5 285.6L928.5 286.1L926.5 285.2L924.5 284.8L922.5 283.7L920.5 285.5L918.5 283.6L916.5 283.3L914.5 282.2L912.5 281.5L910.5 283.2L908.5 282L906.5 279.5L904.5 279.2L902.5 279.1L900.5 275.5L898.5 276.2L896.5 272.5L894.5 271.9L892.5 272.8L890.5 272.5L888.5 271.9L886.5 272.8L884.5 271.8L882.5 270.6L880.5 271.6L878.5 270.8L876.5 269.9L874.5 269.6L872.5 269.8L870.5 270.7L868.5 269.1L866.5 271L864.5 269.2L862.5 269.6L860.5 268.8L858.5 268.9L856.5 270L854.5 268L852.5 268L850.5 268.8L848.5 268L846.5 267L844.5 268.4L842.5 268.5L840.5 269.5L838.5 267.8L836.5 267.1L834.5 267.5L832.5 269.1L830.5 268.3L828.5 269.4L826.5 270.1L824.5 271L822.5 271L820.5 272.4L818.5 274.4L816.5 273.8L814.5 273.6L812.5 275L810.5 276.1L808.5 277.4L806.5 277.7L804.5 276.5L802.5 278.6L800.5 276.4L798.5 277.8L796.5 276.8L794.5 276.6L792.5 277.7L790.5 279L788.5 278.6L786.5 279.5L784.5 277.1L782.5 279.4L780.5 278.8L778.5 278.1L776.5 278.6L774.5 279.3L772.5 279.2L770.5 279.7L768.5 278.9L766.5 279.2L764.5 277.9L762.5 278.8L760.5 280.4L758.5 279.2L756.5 278.4L754.5 279.6L752.5 280.1L750.5 279.5L748.5 278.7L746.5 280.7L744.5 279.3L742.5 278.9L740.5 279.4L738.5 280.6L736.5 280L734.5 281L732.5 280.2L730.5 279.3L728.5 280.2L726.5 279.5L724.5 281L722.5 282.1L720.5 280.4L718.5 281L716.5 280.6L714.5 280.3L712.5 281.9L710.5 281.9L708.5 280.6L706.5 282.6L704.5 281.3L702.5 281.3L700.5 282.5L698.5 283.2L696.5 281.8L694.5 281.3L692.5 281.9L690.5 281.3L688.5 280.5L686.5 282.3L684.5 282.4L682.5 281.8L680.5 281.2L678.5 282.6L676.5 282L674.5 281L672.5 281.6L670.5 280.3L668.5 280.4L666.5 280.6L664.5 280.2L662.5 279.2L660.5 278.7L658.5 280L656.5 280.4L654.5 279.8L652.5 278.8L650.5 279.4L648.5 279.4L646.5 278.9L644.5 279.4L642.5 280.5L640.5 280.9L638.5 279.8L636.5 278.8L634.5 279.2L632.5 280.3L630.5 279.7L628.5 280L626.5 280.1L624.5 280L622.5 281.3L620.5 279.7L618.5 281.1L616.5 280.3L614.5 280L612.5 279.7L610.5 281.1L608.5 279L606.5 279L604.5 280.7L602.5 278.9L600.5 279.3L598.5 281.2L596.5 280.7L594.5 279.9L592.5 280.2L590.5 278.9L588.5 279.2L586.5 278.7L584.5 279.8L582.5 280.6L580.5 280.9L578.5 279.7L576.5 280.9L574.5 281.1L572.5 279.6L570.5 282L568.5 280.8L566.5 283.3L564.5 283.6L562.5 285.4L560.5 284.7L558.5 284.1L556.5 283.8L554.5 283.4L552.5 285.7L550.5 285.5L548.5 283.2L546.5 283.8L544.5 284.1L542.5 283.7L540.5 282.4L538.5 283.7L536.5 282.4L534.5 284L532.5 282.8L530.5 282.1L528.5 284L526.5 282.8L524.5 283.1L522.5 281.6L520.5 281.2L518.5 283.2L516.5 283.3L514.5 282.3L512.5 282.6L510.5 281.8L508.5 283.4L506.5 281.3L504.5 282.3L502.5 282.3L500.5 282.4L498.5 281.2L496.5 281.9L494.5 283.6L492.5 283.4L490.5 283.8L488.5 281.5L486.5 281.5L484.5 282L482.5 284.2L480.5 283.1L478.5 282.5L476.5 282.5L474.5 282L472.5 283.9L470.5 283.2L468.5 282.2L466.5 282.9L464.5 283.7L462.5 281.9L460.5 284.4L458.5 282.5L456.5 284.2L454.5 284.6L452.5 283L450.5 284.5L448.5 282.5L446.5 283.9L444.5 284.8L442.5 284.8L440.5 285L438.5 283.9L436.5 284.9L434.5 283.1L432.5 284.7L430.5 284.1L428.5 283.8L426.5 283.8L424.5 284.4L422.5 284.7L420.5 284.4L418.5 283.2L416.5 285.6L414.5 285.2L412.5 283L410.5 283.1L408.5 282.9L406.5 283.9L404.5 283.1L402.5 284.8L400.5 284.2L398.5 283.1L396.5 285.9L394.5 283.5L392.5 286.1L390.5 284.7L388.5 284.9L386.5 284.7L384.5 284.6L382.5 284.8L380.5 284.8L378.5 283.8L376.5 284.9L374.5 286.3L372.5 284.6L370.5 285.2L368.5 284.7L366.5 285.2L364.5 285.2L362.5 284.4L360.5 285L358.5 284.1L356.5 286L354.5 284.2L352.5 285.9L350.5 284.4L348.5 285.4L346.5 285.3L344.5 284.8L342.5 286L340.5 286.5L338.5 285.2L336.5 285.3L334.5 286.6L332.5 286.8L330.5 286.2L328.5 285L326.5 287.8L324.5 286.6L322.5 287.7L320.5 287.2L318.5 285.8L316.5 287.6L314.5 287.7L312.5 285.2L310.5 287.7L308.5 287.7L306.5 287.9L304.5 285.7L302.5 287.6L300.5 286.2L298.5 287.3L296.5 286.1L294.5 287.2L292.5 287.8L290.5 286.9L288.5 287.2L286.5 286.5L284.5 286.9L282.5 287.5L280.5 285.6L278.5 285.9L276.5 287L274.5 287.2L272.5 286.3L270.5 285.6L268.5 287.5L266.5 287.8L264.5 286.8L262.5 286.8L260.5 285.8L258.5 287.1L256.5 286.3L254.5 287.1L252.5 287.5L250.5 287.4L248.5 288.3L246.5 287.6L244.5 286.1L242.5 286.3L240.5 285.7L238.5 285.6L236.5 288L234.5 285.7L232.5 287.3L230.5 288.5L228.5 287.1L226.5 287.3L224.5 288.4L222.5 286.1L220.5 287.2L218.5 287.7L216.5 287.3L214.5 287.7L212.5 287.7L210.5 286.1L208.5 287.4L206.5 286.9L204.5 288.3L202.5 295L200.5 297.2L198.5 303.5L196.5 310.1L194.5 314.9L192.5 319.8L190.5 324.4L188.5 326.6L186.5 331.6L184.5 332.6L182.5 331.9L180.5 329.2L178.5 326.9L176.5 317L174.5 303.5L172.5 295.8L170.5 291.4L168.5 286.9L166.5 286.8L164.5 286.2L162.5 284.9L160.5 286.2L158.5 286L156.5 286.7L154.5 285.3L152.5 285.8L150.5 284.6L148.5 285.3L146.5 285.9L144.5 285.2L142.5 285.3L140.5 286L138.5 285.6L136.5 286.3L134.5 285.6L132.5 285.3L130.5 284.9L128.5 286.3L126.5 284.9L124.5 284.2L122.5 285.4L120.5 286.2L118.5 284.6L116.5 284.4Z" fill="#1f77b4" stroke="#1f77b4" stroke-width="4" stroke-linejoin="round"/>
<path d="M116.5 264L120.4 264L122.4 268.4L125.4 265.5L128.3 266.7L131.3 262L134.6 265.5L137.8 260.5L143.2 267.6L145.8 263L149 269.6L152.6 267.5L154 269.3L159.2 269.4L162.3 272.2L163.7 264.2L166.8 270.3L171.4 266.1L174.1 272L176.6 276.9L181 285.1L182.7 271.6L188.1 275.8L189.4 279.6L192.5 277L196.8 268.9L200 272.6L203.2 270.4L206.4 271.4L209.1 266.8L212.5 270.1L216.6 266.6L218.3 269.1L221.7 263.7L225.1 268L227.6 266.9L231.3 269L235.2 264.9L238.4 268.9L242.6 262.3L244.3 269.6L247.9 260.8L251.5 265.5L254.9 261.3L258.4 265.5L259.8 262.6L262.5 266.1L268.1 265.2L269.9 266.8L272.4 263.3L277 271.3L280.4 265.4L282.5 270.4L286.9 264.5L288.8 270.3L291.9 262.3L296.5 267.3L299.5 263.5L302.4 267L304.6 261.2L308.1 261L312.3 262.4L315.4 262.2L318.6 259.9L321.6 264.1L323.6 260.2L327.2 263.1L329.8 260.5L335.1 262.3L337.8 260L340.2 262.6L342.7 259.6L348.1 261.9L349 260.6L353.3 265.2L357.5 260L359.4 265.6L362 260.4L365.3 263.8L368.2 260.5L372.3 264.2L376 263.8L378.4 269L382 262.6L385.5 267.7L388.8 262.4L391.5 268.5L395.5 262L397.5 263.1L402.3 264L404.8 268.8L406.8 265.7L410.7 266.5L413.5 264.1L417.1 269.7L419.6 263.4L423.1 264.7L425.9 260.9L430.3 263.1L433.9 257.7L435.7 261.7L441 254.8L442.4 261.6L447 258.3L448.7 261.4L451.3 254.7L454.6 257.1L457.8 258.8L463.2 256.5L465.4 253.4L469.3 259L471.9 252.2L473.6 257.8L478.5 250.4L482 258L484.4 252.4L488.3 256.7L490.2 257.1L495.2 259.3L498.5 257.7L501.6 262L503.4 261.3L507.8 265.5L510.4 263.7L512.8 268.2L516 263.2L518.6 267.4L524 265.1L525.4 269.6L530.6 262.2L532.1 266.6L535.2 263.9L539.8 264.5L542.7 261.5L544.2 265.7L548.6 259.5L551.4 264.3L554 257.8L558.1 266.2L562.5 262.5L565.1 263.7L568.4 258.5L570.9 255L573 256.1L576.1 262.4L579.4 257.8L584.7 260.1L587.7 258.1L589.9 263L592.5 259.1L597.4 259.9L599.8 259.7L603 262L607.4 257.5L608.9 264.9L611.3 262.6L617 266.3L619.5 258.8L621.2 264.8L625.3 259.6L627.7 267L632.1 260.1L635.8 267.2L638.7 261.6L640.9 264.6L643.3 261.6L647.5 267L651.3 266.7L654.5 265.5L658.5 261.2L660.4 265.5L664.4 262.7L667.2 268.4L670.7 265.9L673.1 267.6L677.7 262.7L678.7 267L682.8 263.9L686.3 270L690.2 266.3L693 263.9L695.4 261.5L698.3 262.6L702.3 259.7L706.4 262.4L708.8 258.3L711 257.4L715.7 256.5L717.4 256.9L720.5 252.2L724.4 257L728.1 253L731.8 259.9L733.2 256.5L736.8 256.6L739.4 255.1L742.9 259.5L748.1 257.9L750.4 260.7L752.4 253.4L757.4 259L758.5 258.5L761.7 260.9L767 256.3L769.6 260.7L773 255.6L775.6 260.8L777.7 259.7L781.4 263.4L786.1 255L787.2 259.6L791.3 257L795.5 263.6L797 261.3L800.7 262.5L804.8 258.3L808.7 259.2L810.7 253.3L814.6 257L817.4 247.8L821 252.3L823.7 245.6L826.9 239.5L830.6 233.6L832.6 239.1L837.8 237.2L838.5 237.8L842.8 236.2L845.2 238.3L849.6 227.8L851.6 227.7L856.2 222.2L857.8 223.2L861.1 227L864.3 238.1L868.7 247.2L871.3 259.5L873.7 253L878.1 254.9L881.5 247.1L884.6 256.6L888.2 252.1L891.5 263L894.8 242.3L898.1 258.2L901.2 242L902.4 243.2L906.5 229.3L910.5 233L913 220L917 231.1L920.6 214L924.1 222.1L925.1 159.4L930.2 257.1L933.5 169.3L935.5 209.6L938.2 199.5L943.3 248.4L944.3 156.3L949.4 224.1L951.2 211L956 234.4L958.9 188.3L962 233.2L965 185.8L968.3 231.7L970.5 199.7L975.1 218.6L977.1 156.4L979.8 249.8L983.4 174L985.7 221.2L989.8 197.1L992.4 249.2L996.6 196.9L1000.3 240.7L1002 160.9L1007.1 250.2L1008.9 197.3L1011.4 241.8L1014.8 159.2L1019.9 222L1023.2 206.6L1024.7 250.7L1028 171.4L1030.4 203.1L1034.9 177.8L1037.8 175.3L1040.5 167L1045.1 168.2L1046.9 160.6L1050 165.9L1054.1 159.6L1057 169L1059.5 162.7L1063.6 163.8L1065.8 158.6L1070.4 165.9L1072.8 161.6L1075.5 165.8L1078.5 161.6L1084.1 163.4L1085.8 160.8L1088.2 166.6L1093.5 155.6L1095.7 165.4L1099.4 159.1L1102.2 166.4L1104.6 159.3L1108.7 163.4L1111.8 157L1113.9 162.7L1116.9 158.9L1120.8 160.3L1123.3 156.7L1128 162.7L1130.9 156.3L1134.5 160.3L1136.8 157L1141.3 159.9L1144.6 155.2L1146.8 159.1L1150.4 155.5L1153.6 161.5L1156.9 152.4L1160 155L1162.4 153.8L1165.9 159.5L1168.3 154L1173.3 157.4L1174.8 153.5L1179.2 158.1L1181.3 154.9L1185.1 155L1189.7 152.1L1190.9 156.3L1193.7 149.4L1198.7 153.8L1200.4 150.8L1203.6 154.2L1206.8 152.4L1211.7 154L1214.8 151.5L1218.3 154.3L1219.5 148.4L1224.1 152L1226.5 148.2L1229.3 154.1L1234 145.4L1237.1 156.6L1240.2 150.4L1242.8 154.9L1246.5 150L1248.5 153.3L1253.7 149.2L1256.4 154.5L1258.6 146L1261.5 150.2L1264.8 148L1269.5 148.6L1271.5 148.4L1275.9 153.4L1278.4 152.6L1280.6 156.3L1283.9 156.5L1288.5 166.4L1291 163.8L1293.5 201.6L1297.1 138.7L1300.7 185.6L1303.9 139L1308.2 175.7L1309 167.2L1314.5 191.4L1317.5 179.1L1320 207.9L1322.3 192.4L1326.5 224.1L1329.9 177.3L1331.6 214.8L1336.9 197.9L1339 226.1L1341.5 195.2L1346.1 231.8L1348.1 204.6L1352.5 254.9L1354.5 229.1L1356.9 258.4L1361.4 253.8L1364.4 272L1366.6 249.6L1371.6 278.3L1373.7 246.2L1377.5 293.7L1381 263.7L1383.4 283.1L1385.9 260.6L1390.9 301.5L1394 263.1L1396 288.5L1399.6 261.3L1403.1 284L1405.8 255L1410.5 303.5L1412.8 274.5L1414.7 280.3L1417.7 250.3L1422.2 281.6L1426 252.7L1428 302.7L1431.7 257.3L1435.8 298.1L1437.4 254.7L1441.8 281.6L1445.3 253L1447.2 295.2L1450.8 265.3L1454.7 298.1L1458.5 256.5L1462.5 275" fill="none" stroke="#ff7f0e" stroke-width="2.1" stroke-linejoin="round"/>
</g>
<g clip-path="url(#cb)">
<path d="M120 1029h0M122.5 990.5h0M124.5 987h0M125 964.5h0M126 990h0M125 985h0M130.5 983.5h0M130 983.5h0M130.5 1027.5h0M135.5 980h0M136 955h0M136.5 993h0M137.5 990.5h0M140.5 989h0M140 989h0M144.5 922.5h0M145.5 1026.5h0M145.5 1026.5h0M148 1026.5h0M148.5 1026.5h0M150 1028.5h0M150 939.5h0M151 1026h0M151.5 949.5h0M151 960h0M153 1026h0M156 956.5h0M156.5 947.5h0M157 941.5h0M160 945h0M160.5 1027h0M161.5 956h0M161.5 1026h0M163.5 946h0M163.5 954h0M165 1028.5h0M167 953.5h0M167.5 955h0M167.5 957h0M167 945h0M171.5 959h0M171.5 950h0M171 942h0M174 1025h0M175 955.5h0M175 1025h0M175 963h0M176.5 1026h0M177 938h0M177 964.5h0M177.5 956h0M178 962.5h0M181 961h0M181 1025h0M189.5 961h0M194 934h0M195 952.5h0M197 1029h0M198.5 959.5h0M199.5 960h0M200.5 959.5h0M201 937.5h0M206 954h0M207 952.5h0M209.5 954.5h0M209.5 930.5h0M213.5 948.5h0M213.5 938.5h0M214 935.5h0M216 937.5h0M217.5 1028h0M219 1024.5h0M223 947.5h0M227.5 1025h0M228.5 926.5h0M228 1029.5h0M230 939.5h0M231 935h0M231.5 936h0M232 940h0M232.5 1021h0M233.5 926.5h0M236 939h0M235.5 931.5h0M237 922h0M237 1018h0M238.5 1017.5h0M239 1023h0M240 930h0M241 922.5h0M241 1019.5h0M245.5 913h0M245.5 921.5h0M246 1020h0M247.5 917h0M247.5 928.5h0M248 930h0M249.5 893h0M251 927h0M252.5 906.5h0M253 927h0M253 933.5h0M253 916.5h0M256 933.5h0M255 1020h0M256 1027h0M256.5 933h0M257.5 924.5h0M257.5 1022.5h0M257.5 1021.5h0M258.5 927h0M258.5 1020h0M260.5 934.5h0M261 930h0M260.5 932h0M261.5 930.5h0M261 918.5h0M263 900.5h0M262.5 935h0M263 926.5h0M263 932.5h0M263.5 1020.5h0M264.5 1023h0M266 930.5h0M265 938.5h0M265.5 1021h0M267.5 930h0M268.5 1022h0M269.5 922.5h0M269.5 1022.5h0M270.5 940h0M270.5 931h0M271.5 1021.5h0M272.5 930.5h0M274.5 935h0M277.5 1022h0M279 1021h0M280 923h0M280 935h0M281.5 920.5h0M284 924h0M283 1023h0M284.5 928.5h0M289 912.5h0M288.5 925h0M289.5 925.5h0M290.5 910h0M292.5 1022h0M292.5 1023h0M294 928h0M294 1022h0M299 928.5h0M301 924.5h0M300.5 920.5h0M301 919.5h0M302 924h0M301.5 921.5h0M304 905h0M304 1022.5h0M305.5 931.5h0M307 1022.5h0M309 910h0M314.5 930h0M314.5 932h0M315.5 929h0M316 926.5h0M317 1021.5h0M317.5 932h0M318.5 929.5h0M318.5 1023h0M318.5 1022h0M320 918.5h0M322.5 932h0M322.5 1021.5h0M328.5 927.5h0M331 925.5h0M331 924h0M332 932.5h0M333.5 1022h0M335.5 930h0M336.5 928h0M337 1021.5h0M338 1024.5h0M338 1023.5h0M341 930h0M341.5 1022.5h0M341.5 1023h0M343.5 933.5h0M344.5 933.5h0M344.5 903.5h0M347 930h0M346 1023h0M346.5 1022h0M347.5 927h0M347.5 1022h0M348.5 926h0M348.5 1022h0M350 917h0M350.5 920.5h0M351 920h0M352 1027h0M352.5 933h0M355.5 929h0M355.5 898h0M356 927.5h0M360 916h0M360 1023.5h0M363 922.5h0M362 887.5h0M365.5 931.5h0M366.5 930.5h0M366.5 931.5h0M367.5 928h0M372 1022.5h0M373.5 1022.5h0M374 1026h0M377.5 925.5h0M380 1024h0M381 929h0M388 1025h0M389.5 1027h0M390 914h0M392 892.5h0M391.5 1023h0M393.5 1023.5h0M393 1024.5h0M397 927.5h0M396.5 1024.5h0M399.5 919.5h0M401.5 923.5h0M402 924.5h0M402.5 933.5h0M402.5 1024.5h0M404.5 896h0M404.5 924h0M406 931.5h0M407.5 933.5h0M407.5 1024h0M408.5 925h0M408.5 1023.5h0M410.5 1023h0M411.5 933h0M416.5 935h0M417.5 931h0M419 917h0M419.5 935h0M419 933.5h0M420.5 931h0M421 919.5h0M423.5 937h0M423 932h0M424.5 931.5h0M425.5 928.5h0M427.5 897h0M428 919.5h0M429 1022h0M430 935h0M430.5 935h0M431 931.5h0M431.5 934h0M432.5 925.5h0M432 929.5h0M432.5 1021h0M436 937.5h0M437 1020h0M437 937h0M438.5 916h0M439 1020h0M439.5 1020h0M441 930.5h0M441 1020.5h0M443.5 1022.5h0M444 1022h0M444 932.5h0M445.5 925.5h0M449 944h0M448.5 946h0M450 1019.5h0M451.5 949h0M452 948.5h0M452 932.5h0M452.5 913.5h0M453.5 943h0M454.5 929h0M455 954h0M456 952h0M455.5 929h0M457 959h0M457 951.5h0M459 1022h0M459.5 1020h0M463 961h0M466 1018.5h0M469 955h0M470 955h0M472 948.5h0M473.5 951.5h0M475 1018.5h0M475.5 1018.5h0M478.5 940h0M478 1018.5h0M479 946h0M482 939h0M482 943.5h0M484 939.5h0M484.5 936.5h0M486.5 939.5h0M489 944h0M489.5 934.5h0M491 933h0M491.5 924h0M492 948h0M493 929h0M493.5 937h0M493.5 945h0M494.5 943h0M495.5 934.5h0M495.5 930.5h0M496.5 1019h0M498 950.5h0M499 1018h0M499.5 948.5h0M500.5 941.5h0M500.5 949h0M500.5 948.5h0M500 952h0M505 936h0M505.5 951h0M511 914h0M510 950h0M511 952.5h0M512.5 951.5h0M512 934h0M512 929.5h0M514.5 1018.5h0M515.5 941.5h0M516 939h0M518.5 1017h0M520.5 957.5h0M521 953.5h0M522 953.5h0M522 933h0M521.5 1018.5h0M522.5 955.5h0M523 955.5h0M523.5 959h0M525.5 954.5h0M529 1017h0M530 937h0M530.5 1017h0M530.5 1018h0M531 1018h0M532 1017.5h0M534 947.5h0M535 1017.5h0M535.5 947h0M536.5 953h0M538.5 960h0M540 897.5h0M541.5 963.5h0M542.5 1016.5h0M543.5 926.5h0M546 968.5h0M546.5 970.5h0M547 1019h0M546 1019h0M547.5 966.5h0M552 948.5h0M553 965.5h0M553 967h0M554 966.5h0M553.5 958h0M554.5 967.5h0M555.5 959.5h0M557.5 952h0M558.5 963h0M558 963.5h0M558.5 965.5h0M560 956.5h0M560.5 963h0M560.5 1019h0M565.5 955h0M566 944.5h0M566.5 1016.5h0M568.5 956h0M569.5 1017h0M569.5 1016h0M570.5 1016.5h0M570 1021h0M574.5 948h0M577 954h0M577 1016h0M576 1018.5h0M577.5 935h0M578.5 946h0M578 940h0M579 948.5h0M580.5 1017h0M582.5 953h0M585 1017h0M587 1017h0M589.5 950h0M590.5 945h0M592 935h0M591.5 925.5h0M592 1016.5h0M593.5 945.5h0M595 915.5h0M601.5 920.5h0M602.5 930h0M603 928.5h0M607 934h0M607.5 1015.5h0M608.5 939h0M610.5 937h0M612 931h0M615 927h0M615.5 1015.5h0M615.5 1017h0M616.5 941h0M618 930.5h0M622.5 936.5h0M623 933.5h0M623 928.5h0M628 897h0M628.5 922h0M629 919.5h0M630.5 1014.5h0M635 914.5h0M635 917.5h0M634.5 906.5h0M635.5 908h0M636.5 896h0M638 911h0M640 903h0M639.5 902h0M639.5 1015.5h0M641.5 902.5h0M642 905h0M642 900h0M642 904.5h0M644 887h0M643 863.5h0M644.5 1014h0M647.5 901h0M648 1013.5h0M649.5 900h0M651.5 899h0M653 900h0M653.5 1015.5h0M662.5 1013.5h0M663.5 880h0M663 894.5h0M664.5 1014h0M667.5 891.5h0M669.5 881h0M669 881h0M670 855h0M671.5 1014.5h0M671 1013.5h0M672.5 1014.5h0M673.5 807.5h0M674 875h0M676.5 862h0M677 879h0M676.5 1013.5h0M679 1013.5h0M681 837h0M682.5 861h0M683.5 858.5h0M683.5 872h0M684.5 857.5h0M685.5 850.5h0M687 1013.5h0M690 1012.5h0M690 1015.5h0M690.5 1018.5h0M691.5 843.5h0M691 1013h0M692 865h0M694.5 871.5h0M695.5 840.5h0M697.5 867.5h0M697.5 871.5h0M698 870.5h0M698.5 868h0M700.5 871.5h0M700.5 1013h0M702.5 860.5h0M703.5 851h0M704.5 868.5h0M704.5 857h0M708 857.5h0M708.5 867h0M708.5 1012.5h0M709.5 851h0M709.5 862.5h0M709 856h0M710.5 859.5h0M710 864.5h0M711 847.5h0M712 861.5h0M714.5 858h0M716.5 859.5h0M717 862.5h0M718 859.5h0M721.5 850h0M722.5 843h0M723.5 857h0M723.5 858.5h0M728.5 837.5h0M731 846h0M731.5 826h0M735 855.5h0M735.5 847h0M737 856.5h0M736 1013h0M738 831.5h0M738 854h0M738 1013h0M743 857h0M744 857.5h0M746.5 850h0M746.5 1012.5h0M747 843h0M749 844.5h0M750 843h0M750.5 1017h0M751.5 851h0M752.5 843h0M754.5 853.5h0M755 841.5h0M754.5 856h0M758.5 848.5h0M758.5 846h0M758.5 852h0M758.5 848.5h0M759.5 857h0M761.5 853.5h0M761.5 1013.5h0M763.5 859.5h0M763.5 857.5h0M764 854.5h0M766 855.5h0M767 1016.5h0M769 852h0M770.5 858h0M772.5 851.5h0M772.5 1011.5h0M773 1012h0M773.5 853h0M773.5 1012h0M775.5 1012h0M776.5 856h0M777 1011.5h0M779.5 819.5h0M781 842h0M785 831h0M785.5 830.5h0M786.5 854h0M786.5 1012h0M788.5 845.5h0M788 853h0M791 850h0M795 1011.5h0M797 849.5h0M797 1012h0M798 1014.5h0M798.5 854.5h0M798.5 1011h0M799 856h0M800 859h0M806 837h0M806.5 828.5h0M807 829h0M807 835h0M808.5 1014h0M810.5 813.5h0M810.5 1010.5h0M812.5 852.5h0M812.5 829h0M814.5 840h0M814.5 840h0M814.5 857h0M816 856.5h0M817 853.5h0M818.5 858h0M819.5 851h0M820 845.5h0M819.5 861.5h0M819 1009.5h0M820 1010h0M821.5 859.5h0M823.5 873.5h0M824 871h0M826 829.5h0M826 1010.5h0M826 840h0M826 1009.5h0M827.5 1009h0M828.5 880h0M828.5 857h0M829 881h0M830 877.5h0M830.5 1009.5h0M832 879.5h0M832 882.5h0M833.5 890.5h0M835 1011h0M836 909.5h0M838.5 911.5h0M838 913.5h0M839.5 915h0M841.5 919.5h0M842 913h0M842 927h0M841.5 924h0M841 911h0M843 918.5h0M844 1015.5h0M844 1013.5h0M845.5 1016h0M849 949h0M851 949.5h0M852 960.5h0M853.5 957.5h0M854 972.5h0M855 972.5h0M855 965.5h0M858.5 964.5h0M859 984h0M859.5 985.5h0M860.5 1023h0M862.5 991h0M862.5 987h0M864 990.5h0M863 992h0M864.5 997h0M864.5 989h0M865 981h0M868 1026.5h0M868.5 1005h0M868.5 993h0M873 1011h0M872 999.5h0M873.5 1010h0M879.5 1015.5h0M879 1028.5h0M884 1016.5h0M886 1008.5h0M886.5 1030h0M888 1020.5h0M896.5 1030h0M898.5 1025h0M906.5 1029.5h0M932.5 1029.5h0M937.5 1024.5h0M939.5 1039h0M963.5 1032h0M982 1028h0M992 1027h0M994.5 1028.5h0M1005.5 1029.5h0M1016.5 1028h0M1032 1028.5h0M1048 1033h0M1056.5 1034h0M1061 1029.5h0M1065 1029h0M1080.5 1029.5h0M1089 1033.5h0M1116.5 1033.5h0M1119.5 1032.5h0M1149.5 1033.5h0M1157.5 1028h0M1167 1032h0M1172.5 1033h0M1180 1032h0M1183 1027.5h0M1192 1029.5h0M1205 1026.5h0M1211 1029.5h0M1232.5 1032.5h0M1253 1029h0M1258 1028.5h0M1266 1033h0M1273.5 1033h0M1286.5 1024.5h0M1288 1029.5h0M1288 1028.5h0M1294.5 1029.5h0M1297.5 1032h0M1315 1035h0M1344 1032.5h0M1346 1032.5h0M1349 1029h0M1357 1026h0M1358.5 1031.5h0M1360 1028.5h0M1359.5 1032h0M1373.5 1028h0M1396 1024h0M1403.5 1019h0M1404.5 1019.5h0M1407 1021.5h0M1407 1021h0M1408 1019.5h0M1408.5 1022.5h0M1409 1031h0M1412.5 1024h0M1419.5 1032.5h0M1423.5 1022h0M1431 1015.5h0M1431 1012h0M1433 1006.5h0M1434 1013.5h0M1435.5 1006.5h0M1439 1008.5h0M1439 1009h0M1441.5 1032h0M1447 1001h0M1447 1002.5h0M1448.5 1003.5h0M1450 999h0M1454 990.5h0M1454.5 987.5h0M1456 1026.5h0M1459 954h0M1459.5 963.5h0M1460 968h0M154 958h0M154 951h0M153 947h0M153.5 940.5h0M154.5 934.5h0M153.5 927h0M154 923h0M208.5 953.5h0M209.5 947.5h0M209 943h0M209.5 936.5h0M208.5 933.5h0M209 929.5h0M208 923h0M208.5 916.5h0M208.5 915.5h0M249 930h0M248.5 923.5h0M248.5 916.5h0M248.5 911h0M249 905.5h0M249 898h0M249.5 892h0M248.5 888.5h0M249 882.5h0M248.5 873.5h0M249 870.5h0M276 939.5h0M277.5 934h0M277.5 928h0M276.5 923.5h0M276.5 918.5h0M276 912h0M277 907.5h0M277.5 901h0M276.5 895h0M276.5 887.5h0M277 883h0M275.5 876.5h0M276.5 868h0M300 930h0M300 924.5h0M301 920h0M299.5 914h0M299.5 910.5h0M301.5 902.5h0M301 897.5h0M300 891h0M300 884h0M300.5 876h0M300.5 867h0M300.5 863.5h0M320.5 931h0M318.5 926.5h0M319.5 919.5h0M320 914h0M319 910.5h0M320 904h0M320 895.5h0M319.5 891.5h0M319 884.5h0M319 877h0M319 868.5h0M320 861h0M319 857h0M319.5 845.5h0M319.5 840h0M319 830.5h0M319 825h0M320 818h0M320 806.5h0M319.5 804h0M324 931h0M324.5 928h0M325 925h0M324.5 918h0M323.5 913h0M324.5 910h0M325 907h0M323.5 899h0M324 890.5h0M323.5 881h0M323 877h0M323.5 872h0M324 862.5h0M323.5 857h0M324 846.5h0M324.5 835h0M323.5 824.5h0M324 823h0M344 932h0M344 926.5h0M344 921.5h0M344 914h0M343.5 910.5h0M342.5 906h0M343.5 898.5h0M344 892.5h0M342 887.5h0M343.5 883h0M342.5 877.5h0M344 869.5h0M343 860h0M343.5 850.5h0M342.5 845.5h0M342.5 836.5h0M343 834.5h0M370.5 932h0M370 925h0M370.5 921.5h0M369.5 916.5h0M369.5 908.5h0M371.5 902h0M371 897.5h0M370.5 891.5h0M369.5 884.5h0M371 880.5h0M370 875.5h0M370 871h0M370 866h0M371 855h0M370 849h0M371.5 837.5h0M370 833h0M371 828h0M371 819h0M370.5 806h0M414 934h0M413.5 929h0M414.5 923.5h0M414.5 919.5h0M413.5 912.5h0M413.5 906h0M414 905h0M505.5 952h0M505.5 949.5h0M506 945.5h0M507 940h0M506 932.5h0M506.5 926.5h0M505.5 918.5h0M506 913.5h0M506 908h0M505.5 902.5h0M506 901h0M529.5 962h0M529.5 958.5h0M531 954.5h0M530 951h0M531 945h0M530.5 939.5h0M530.5 933h0M530 928.5h0M530 925.5h0M529 918h0M530 909h0M529.5 903h0M530 901h0M549.5 970h0M551 966.5h0M549.5 962h0M549.5 959.5h0M549 954h0M550.5 950h0M550.5 943.5h0M550 938.5h0M550 932h0M550.5 923h0M550.5 917.5h0M549 909.5h0M550 909h0M597 950h0M597 946.5h0M596 942h0M595.5 936.5h0M595.5 930h0M596.5 924h0M597 915.5h0M597 907h0M596 898.5h0M596 893h0M595 885.5h0M596 877.5h0M596 877h0M618 942h0M617.5 937h0M618 932h0M619 925.5h0M617.5 919.5h0M617.5 912.5h0M618 903.5h0M617.5 896h0M617 891h0M618 883.5h0M618 877h0M638 909.5h0M639.5 904.5h0M638 900h0M639.5 896h0M639 890h0M639.5 881.5h0M638.5 874h0M639 870h0M639 862.5h0M638 856.5h0M639 850.5h0M639 845h0M637.5 834.5h0M639 830h0M639 818.5h0M639.5 808.5h0M638.5 805h0M662 894.5h0M662 891h0M662 888h0M663 882.5h0M661.5 876h0M661.5 869h0M662 861.5h0M661.5 854.5h0M661.5 851h0M661.5 843.5h0M661.5 839.5h0M663 831.5h0M662 821h0M662 811h0M662.5 809h0M674.5 882.5h0M674 877.5h0M674.5 872.5h0M674 866h0M676 861h0M674 853h0M674 848h0M674 840.5h0M675 835.5h0M676 827h0M675.5 818.5h0M674.5 811h0M674 804.5h0M674.5 799h0M674.5 787.5h0M674 776h0M675 765h0M683.5 875h0M683.5 871h0M683.5 866.5h0M683 860h0M682.5 855h0M682.5 848.5h0M683 841.5h0M682 838h0M682.5 831h0M682.5 825h0M683.5 817.5h0M683.5 812.5h0M682.5 808.5h0M683.5 798.5h0M683.5 791.5h0M684 783.5h0M683 775h0M682.5 769.5h0M683.5 762h0M682.5 750.5h0M683 748h0M700.5 869.5h0M700.5 867h0M701.5 862h0M701.5 855h0M700 851h0M701.5 846h0M700 840.5h0M700.5 836h0M700 827.5h0M700.5 820h0M701.5 814h0M701.5 807.5h0M700 799.5h0M700 793.5h0M699.5 788.5h0M700.5 784h0M701 778h0M700.5 767h0M701.5 760h0M701.5 752.5h0M701 744.5h0M700.5 736h0M701.5 723h0M700.5 716.5h0M700.5 707h0M701.5 700h0M700.5 696h0M731.5 855h0M731 849h0M730.5 846h0M732 839h0M730.5 834h0M730 830h0M730 821.5h0M731 813.5h0M730.5 805h0M731.5 796h0M730 788.5h0M732 782h0M730 775.5h0M730.5 766h0M731.5 759.5h0M731 752h0M730 740.5h0M731.5 730.5h0M732 718.5h0M731.5 707h0M732 694h0M731 680.5h0M731.5 669.5h0M732 657h0M731.5 643h0M730 628.5h0M731 607.5h0M731 596h0M753 858h0M753 852h0M752.5 846h0M754 842.5h0M753 839h0M753 834.5h0M753 827.5h0M753.5 822.5h0M753 818.5h0M753 811.5h0M753.5 807h0M752 802.5h0M753.5 798.5h0M753 792.5h0M752 788h0M753.5 778.5h0M753 768.5h0M753 760h0M753.5 751.5h0M753.5 745h0M753 740h0M769 860h0M768.5 853.5h0M768.5 848.5h0M769 842.5h0M769.5 837h0M769 830.5h0M768.5 824.5h0M769.5 815.5h0M769.5 811h0M768 801.5h0M769.5 791.5h0M769.5 784h0M769.5 777.5h0M768 766h0M769 765h0M782.5 850.5h0M781 847h0M782 843h0M781.5 837h0M782 831h0M783 827.5h0M781 822h0M782 816h0M781.5 810h0M781 803h0M782 800h0M806.5 845h0M808 838.5h0M806.5 831.5h0M807 824.5h0M807.5 821h0M807.5 817.5h0M806 810h0M807 806h0M806 799h0M806.5 795.5h0M806.5 786h0M806 781h0M808 776h0M806.5 768.5h0M806.5 758h0M807.5 748h0M806.5 737h0M807.5 730.5h0M807 718h0M807 707h0M808 700.5h0M807 690.5h0M806 680.5h0M807 680h0M819 865h0M818.5 858.5h0M819.5 854.5h0M819 848.5h0M819.5 843h0M818.5 837.5h0M819 833h0M818.5 829h0M818.5 820h0M818.5 812.5h0M819 808.5h0M818.5 803h0M818 795h0M819 786h0M819 781.5h0M818 772.5h0M820 761.5h0M819.5 750h0M819 740h0M117 992h0M116.5 986.5h0M116.5 982h0M117 977h0M118.5 992h0M119.5 991h0M121.5 992.5h0M122 989h0M121 983.5h0M120.5 978.5h0M121 974h0M124.5 992.5h0M124 989h0M124 985h0M125.5 992.5h0M125 988h0M126 993h0M127 987.5h0M127 987.5h0M126.5 993h0M126.5 988.5h0M127.5 985h0M127 980h0M127 974h0M128 970.5h0M127.5 964.5h0M126.5 961h0M127.5 956.5h0M130 993h0M129.5 992.5h0M132.5 993.5h0M133.5 990h0M131.5 985h0M133 981h0M133.5 977.5h0M133.5 972.5h0M132.5 970h0M134 993.5h0M134 990.5h0M134.5 986h0M133 982h0M134 976.5h0M134.5 973h0M134 970h0M133.5 965.5h0M136 993.5h0M135 993h0M139 994h0M137.5 990.5h0M137.5 985h0M138 983h0M139 994h0M140.5 991h0M140 989.5h0M142.5 984h0M142.5 980h0M143 977h0M143.5 972.5h0M144 969h0M145 970h0M143.5 967h0M144.5 965h0M147 960h0M146.5 958.5h0M146.5 960h0M147.5 956.5h0M146.5 951h0M147.5 946.5h0M148 943.5h0M146.5 939.5h0M148 935h0M148.5 932h0M146.5 928h0M147.5 924.5h0M148 960h0M148.5 958h0M149.5 960h0M150 958h0M150.5 960h0M151 957.5h0M153 960h0M154 955.5h0M153 954.5h0M154 960h0M154.5 958h0M155.5 960h0M156 955.5h0M155.5 960h0M156.5 957h0M155.5 952.5h0M156.5 950h0M158.5 960h0M159 956h0M159 955.5h0M162.5 960h0M162 956.5h0M162 950.5h0M161.5 947h0M162.5 941.5h0M161.5 936h0M161 932.5h0M161 929h0M162 925.5h0M161 922.5h0M161.5 919h0M162 960h0M163.5 955.5h0M163.5 949.5h0M162.5 946h0M162.5 945.5h0M165 960h0M166 954.5h0M166.5 951.5h0M166 945.5h0M165 941h0M165.5 937h0M165.5 935.5h0M167.5 960h0M166 954h0M166.5 953.5h0M168.5 961h0M169 958.5h0M171 962h0M170 958h0M170 957.5h0M174 963h0M174 960h0M173.5 957.5h0M177.5 966h0M177.5 962.5h0M178.5 957.5h0M181.5 967h0M181 962.5h0M180.5 957.5h0M180.5 953.5h0M181 949h0M182 943.5h0M181 938h0M180.5 934h0M181 929.5h0M181 924.5h0M181.5 920.5h0M181 918h0M188.5 964.5h0M188 960.5h0M187.5 956.5h0M188 952h0M188.5 948h0M188.5 943h0M187.5 941.5h0M189.5 964h0M189.5 960.5h0M190 956h0M189.5 950.5h0M190 948.5h0M191.5 963.5h0M191.5 959h0M191 954h0M190.5 949.5h0M190 945.5h0M190.5 943h0M193 963h0M193 957.5h0M193.5 952.5h0M192.5 949.5h0M195 962h0M194.5 958h0M194 956h0M197 961.5h0M196.5 958h0M196.5 953.5h0M196.5 948.5h0M197 943h0M196.5 939h0M196.5 933.5h0M196 929h0M196 925h0M199.5 960.5h0M198.5 955.5h0M198.5 950.5h0M198.5 948h0M199 960h0M199.5 955h0M200 949.5h0M199.5 944h0M200 939h0M199 934.5h0M199.5 931.5h0M205.5 957h0M205.5 953h0M205.5 950h0M207 957h0M206 954h0M209.5 955h0M210 951.5h0M209.5 949.5h0M212 954h0M212.5 952h0M213 953h0M213.5 949h0M214 946.5h0M215.5 952h0M216 949h0M215 945h0M215 942h0M216 936h0M215.5 931h0M215 926h0M215 921.5h0M215.5 916.5h0M215 912h0M215 908h0M215.5 904.5h0M215 901h0M216.5 898h0M215.5 894.5h0M215.5 952h0M217 948.5h0M216.5 945h0M222.5 949h0M222.5 943h0M221.5 940h0M223 935.5h0M223.5 930.5h0M222.5 930.5h0M224.5 948h0M225 943h0M224 938h0M224.5 934.5h0M224.5 930h0M224 926.5h0M227.5 946h0M227.5 940h0M228 934h0M226 930.5h0M227 929h0M229.5 944.5h0M229 940h0M229 939h0M231 944h0M229.5 938.5h0M231 933.5h0M230.5 929h0M231.5 943.5h0M231 939h0M231.5 935h0M231 931h0M231 927h0M231.5 924h0M233.5 942h0M234 938h0M233.5 935h0M233.5 931h0M236.5 941h0M236 938h0M238.5 939h0M239 935h0M238 932h0M239 928.5h0M239 924.5h0M238.5 923.5h0M239.5 937.5h0M240.5 936h0M242 937h0M241 932h0M241.5 930.5h0M243 936h0M243 933h0M243 931.5h0M245 935h0M244.5 932h0M246.5 934.5h0M245.5 931h0M246.5 928h0M246 926.5h0M247 933h0M247.5 930h0M247 926h0M247.5 932.5h0M248.5 928h0M249 923.5h0M247.5 920.5h0M248 916h0M247.5 911.5h0M248 907.5h0M256 935h0M256.5 930.5h0M255.5 930h0M256.5 935.5h0M256.5 933.5h0M260.5 937h0M260.5 932.5h0M259.5 929h0M260 926.5h0M259.5 937h0M259 932h0M259 927h0M260 923.5h0M259.5 919h0M260 917h0M261.5 937.5h0M261 934h0M261 930h0M261 925h0M261 921h0M262.5 917.5h0M261.5 917h0M269.5 939.5h0M269.5 934h0M269 930h0M268 926h0M268.5 922.5h0M268.5 922h0M270.5 940h0M270.5 935.5h0M269 930.5h0M270 927.5h0M270.5 940.5h0M269.5 935.5h0M269 931h0M271 928h0M270.5 924.5h0M271 919.5h0M270 914.5h0M270.5 910h0M271 906h0M270 905.5h0M275 942h0M275.5 939.5h0M280 938h0M280 932h0M279 926h0M279.5 920h0M279.5 917h0M279.5 915h0M279.5 936.5h0M280 935h0M281.5 935.5h0M282 930.5h0M281.5 927.5h0M281.5 926.5h0M283 933h0M283.5 927.5h0M283.5 923.5h0M283.5 920.5h0M285 932h0M284.5 928h0M285.5 930.5h0M286 926.5h0M285.5 921h0M285 917h0M285.5 912h0M285.5 911.5h0M287.5 930h0M287 926.5h0M288 930.5h0M288 926h0M288.5 925.5h0M293.5 931h0M292.5 925.5h0M293 921h0M292.5 920h0M295.5 931.5h0M296 928h0M296.5 931.5h0M296 927h0M296.5 924.5h0M297.5 931.5h0M297 926h0M297 922.5h0M297.5 918.5h0M297 912.5h0M298 911h0M300 932h0M300 927.5h0M302 932h0M301 926h0M301 925h0M303.5 932h0M303 928.5h0M306.5 932.5h0M306.5 931h0M309.5 932.5h0M309 929.5h0M313.5 932.5h0M312 927h0M313.5 921h0M313.5 917h0M313 913.5h0M313 909.5h0M313 907h0M313 932.5h0M312.5 928.5h0M313 927h0M319.5 933h0M319 927.5h0M317.5 923h0M319.5 918h0M319.5 913h0M318.5 909h0M318.5 909h0M326 933h0M325.5 927.5h0M325 924h0M326 919h0M326 933h0M326.5 930h0M328 933.5h0M328 931.5h0M330.5 933.5h0M329.5 929h0M330 925h0M330 919h0M330 916.5h0M330.5 933.5h0M331.5 929h0M331.5 926h0M334.5 933.5h0M334.5 929h0M333 923.5h0M334 923h0M334.5 933.5h0M333.5 929h0M335 924h0M334 921.5h0M335 933.5h0M336.5 930h0M336 928h0M338 933.5h0M337 929.5h0M337 924h0M337.5 920.5h0M337.5 916.5h0M336 911.5h0M336.5 908h0M337 908h0M338.5 934h0M339 932h0M340 934h0M340 933h0M345.5 934h0M345 934h0M346 934h0M346.5 931h0M350.5 934h0M349.5 930.5h0M349.5 930.5h0M350.5 934h0M350 930h0M350 926.5h0M352 934h0M351.5 933.5h0M353 934h0M352.5 930.5h0M353.5 925h0M352.5 920h0M352.5 918.5h0M356.5 934h0M356 928.5h0M356.5 925h0M356.5 920h0M355.5 915h0M356 911h0M358 934h0M357.5 929h0M357 924.5h0M357 919h0M357.5 914.5h0M357.5 909.5h0M359 934h0M358 929h0M358.5 925h0M358 920h0M359 919.5h0M361 934h0M360.5 929.5h0M361.5 926h0M361 922.5h0M360.5 919h0M360.5 917h0M361 934h0M360.5 929.5h0M361.5 924h0M360.5 920h0M361.5 916h0M362 910.5h0M360.5 907.5h0M361.5 907h0M364 934h0M363.5 933.5h0M365.5 934h0M365.5 929h0M365 923h0M365.5 921h0M367 934h0M368 933.5h0M369 934h0M369.5 930h0M369 926h0M369.5 923h0M369.5 918h0M369 916.5h0M370.5 934h0M370.5 929.5h0M370 926h0M371.5 934h0M372.5 930h0M371.5 928.5h0M373 934h0M373 930.5h0M374.5 934h0M374 931h0M376 934h0M376 929.5h0M375.5 926h0M380 934h0M379.5 930h0M382.5 934h0M382 930h0M382.5 927h0M381.5 926.5h0M383 934h0M383 929.5h0M383.5 926h0M383.5 920.5h0M384 915h0M384.5 912h0M383.5 908.5h0M383.5 902.5h0M384 898h0M383.5 894.5h0M383.5 889h0M382.5 885h0M383.5 881.5h0M383.5 878h0M384 873h0M383.5 867h0M383.5 864.5h0M383 934h0M384.5 931h0M385 927h0M384.5 923.5h0M384 923h0M385 934h0M385 931h0M385.5 926.5h0M386.5 921.5h0M385.5 917h0M385.5 911.5h0M385.5 910h0M391 934h0M391 931.5h0M396.5 934h0M395.5 932.5h0M398.5 934.5h0M398 930.5h0M397.5 929h0M398.5 934.5h0M398 928.5h0M399.5 925.5h0M399 920.5h0M399.5 916.5h0M398.5 911h0M398.5 909h0M402.5 935h0M402.5 931.5h0M402 927.5h0M403.5 923.5h0M403.5 919.5h0M403.5 916h0M403.5 910.5h0M402.5 905h0M402.5 903.5h0M404 935h0M404 933.5h0M405.5 935h0M406.5 931h0M406 926.5h0M406 923.5h0M415 936.5h0M414 932.5h0M415 936.5h0M416.5 932.5h0M415.5 929h0M417.5 936.5h0M419 931.5h0M418 926.5h0M420 937h0M420 932h0M419 928h0M420 925h0M423 937h0M422.5 933.5h0M422.5 927.5h0M422 922.5h0M422 917h0M422 917h0M424.5 937.5h0M423.5 937h0M425.5 937.5h0M425 933.5h0M426 937.5h0M426 934.5h0M427.5 930.5h0M428 925.5h0M426 922h0M426.5 918h0M427 913h0M427 913h0M431 938h0M431 937h0M433 938.5h0M433 934.5h0M433 929h0M433.5 925.5h0M434 920.5h0M433.5 920h0M437.5 939h0M437.5 933h0M437.5 930h0M438.5 926.5h0M437 921.5h0M437.5 915.5h0M438 911.5h0M437 908.5h0M438 905h0M437 901.5h0M437 896h0M436.5 891.5h0M437.5 891h0M439 940.5h0M440.5 936h0M439 932h0M439 926.5h0M440 923.5h0M439 919h0M439.5 915.5h0M440.5 941.5h0M440 938.5h0M440.5 936.5h0M441 942.5h0M441.5 937h0M442 933.5h0M442 928h0M442 924.5h0M442 944.5h0M443.5 940.5h0M444 937h0M443 936.5h0M444.5 945.5h0M444.5 940.5h0M444 935.5h0M446 946.5h0M446 941h0M445 937h0M446 936h0M447.5 948.5h0M447.5 945h0M451.5 952.5h0M451.5 949h0M450.5 946h0M452 954h0M451.5 950.5h0M451.5 947h0M452 945.5h0M452 955.5h0M452.5 951.5h0M452 947h0M453 943.5h0M453.5 938.5h0M453 936.5h0M452.5 957h0M453 952.5h0M453.5 950.5h0M455 958.5h0M453.5 954h0M454 949h0M454.5 947h0M456 959.5h0M455.5 959.5h0M457 961h0M456.5 957.5h0M457.5 952.5h0M456.5 947h0M458.5 964h0M459 960.5h0M458 955.5h0M459 949.5h0M458 945h0M459.5 940.5h0M458 937.5h0M458 932.5h0M458.5 928.5h0M459 927h0M459 965.5h0M459.5 964.5h0M461 968.5h0M462 965h0M462.5 959.5h0M461 956h0M462.5 950.5h0M462 947h0M461.5 942.5h0M461 938.5h0M462 937h0M463.5 965.5h0M464.5 962h0M468 961.5h0M466.5 957h0M467.5 954h0M469.5 958.5h0M470 957.5h0M472.5 954.5h0M472.5 953.5h0M475.5 952h0M475.5 946.5h0M475 945.5h0M475.5 949h0M477 944.5h0M476 944h0M477.5 947.5h0M477.5 943h0M478 938.5h0M478 934.5h0M478 931h0M477.5 929.5h0M483 948h0M482 944.5h0M482 944h0M485.5 948.5h0M485.5 945h0M485.5 941h0M485 938h0M485 936h0M485 949h0M485.5 943.5h0M485.5 939h0M484.5 935.5h0M485 935h0M488.5 950h0M489 945.5h0M495 951.5h0M495 950h0M500 952.5h0M500.5 948.5h0M500 945h0M501 953h0M501.5 953h0M503.5 953h0M502 949h0M503 944.5h0M506 954h0M506.5 952.5h0M508.5 954.5h0M507.5 952h0M508.5 955h0M508 952h0M508.5 948h0M509.5 943h0M509 939h0M515 957.5h0M515.5 952.5h0M514 946.5h0M515.5 940.5h0M514 935h0M515 930h0M515.5 926.5h0M514.5 921h0M514 918h0M516 913.5h0M516 909h0M515 905h0M515 901.5h0M514 898.5h0M515.5 894.5h0M514.5 891.5h0M514.5 886.5h0M515 883h0M515 882.5h0M515.5 958h0M516.5 953h0M516.5 949h0M515.5 945h0M516 944.5h0M520 959.5h0M518.5 954h0M519 952.5h0M521 960h0M519.5 956h0M520.5 952.5h0M520.5 948h0M520 946h0M523 961h0M523.5 958h0M524 954.5h0M523 951.5h0M526 962h0M525 957.5h0M525.5 953h0M525 947.5h0M525.5 945h0M525.5 962.5h0M526 961.5h0M528 963h0M528 957.5h0M527.5 957h0M528 963h0M530 958h0M528.5 954.5h0M528 949.5h0M528 946h0M529 944.5h0M532.5 965h0M532.5 960h0M533 957h0M532.5 965h0M533.5 963.5h0M537 967h0M537.5 963h0M537.5 962h0M537.5 967.5h0M537.5 962h0M538 960h0M538.5 967.5h0M539.5 962.5h0M539 957.5h0M539 956h0M543 969h0M543 966h0M545 970h0M544.5 967.5h0M545 970.5h0M546.5 966.5h0M546 962.5h0M546 962.5h0M549.5 971.5h0M549 967.5h0M549 962h0M549 959h0M548.5 955h0M549 949.5h0M549 948h0M548.5 972h0M549 970h0M550 971.5h0M551 968.5h0M550 962.5h0M551 962h0M552 970h0M553 966h0M552.5 963.5h0M557 967h0M556.5 962.5h0M555.5 959h0M556 957h0M558 965.5h0M559.5 961.5h0M558 956.5h0M558 953h0M559 952.5h0M565 961h0M563.5 958h0M563.5 953.5h0M564.5 948.5h0M564 942.5h0M564 939h0M565 933h0M563.5 928.5h0M565 924.5h0M564.5 922.5h0M565 960.5h0M566.5 955h0M566 952h0M568.5 958h0M568.5 953.5h0M569 950.5h0M568 945h0M567 941h0M568 938h0M571 957h0M571 952h0M570 946.5h0M570 941.5h0M570 936.5h0M570.5 935.5h0M571 956.5h0M571 954.5h0M574.5 956h0M574.5 951h0M575 946.5h0M574.5 942.5h0M575.5 937h0M575.5 934h0M575 933.5h0M576.5 956h0M577 953.5h0M578 955.5h0M577.5 954h0M582 955h0M582.5 949.5h0M581.5 944.5h0M582 939h0M581.5 936.5h0M583.5 954.5h0M583 952h0M585 954h0M586 951h0M585.5 945h0M586 942h0M585.5 954h0M587 949h0M586 947.5h0M588 953h0M589 950h0M589.5 945h0M589 940.5h0M588.5 935.5h0M588 931h0M588.5 926.5h0M590 922h0M588.5 916.5h0M588 913.5h0M589 910h0M589.5 905.5h0M589 900.5h0M588.5 895.5h0M590 891h0M589 886.5h0M588.5 881.5h0M589 877h0M589 873h0M589 868h0M590 864.5h0M588 861.5h0M589 857h0M589 855.5h0M590.5 953h0M590.5 947.5h0M589.5 944.5h0M590.5 942h0M592.5 952.5h0M592 950.5h0M594 952.5h0M593 948.5h0M592.5 944.5h0M592.5 939.5h0M594 934h0M592.5 930h0M593.5 924h0M592.5 920.5h0M593 916h0M593 916h0M595.5 952h0M595 949h0M597 952h0M597 946.5h0M597 943h0M596.5 940h0M596 936h0M596 933h0M595 927h0M595.5 924h0M596.5 918.5h0M596 916.5h0M598 951h0M599.5 945.5h0M597.5 941.5h0M598.5 937h0M598.5 932h0M601 950.5h0M601 946.5h0M603 949.5h0M602.5 949h0M607.5 948h0M607 944.5h0M606.5 939.5h0M607 935.5h0M607.5 948h0M608.5 943h0M608 938h0M608 935.5h0M609.5 947.5h0M609.5 944.5h0M608.5 940h0M609 936.5h0M609 932h0M608.5 928h0M609 924h0M608.5 921h0M609 919.5h0M611 946.5h0M610.5 943h0M611 939.5h0M616 945h0M615.5 940h0M617 943h0M617.5 939.5h0M617.5 934.5h0M617.5 929.5h0M619 926.5h0M619 922h0M618.5 916.5h0M618 911h0M618 905.5h0M617 902h0M618 897.5h0M622 938.5h0M621.5 933.5h0M621.5 930.5h0M621.5 928.5h0M629 925.5h0M629.5 924h0M631 922.5h0M632 919h0M631 916h0M631 910.5h0M630.5 906.5h0M632 902h0M632 896h0M632 891.5h0M631 887.5h0M632 883h0M631 878h0M631 874h0M631.5 869.5h0M630.5 866.5h0M632 863.5h0M631.5 860.5h0M633.5 919h0M633.5 913.5h0M633.5 911h0M636.5 913h0M638 909.5h0M637 905h0M637 901.5h0M638 896.5h0M637 894h0M640 911h0M640.5 907.5h0M640.5 903h0M640.5 897.5h0M639 893.5h0M639.5 890h0M639.5 886h0M640.5 880.5h0M640 874.5h0M641 870h0M641 866h0M639.5 861.5h0M640 857.5h0M640 852h0M640 849h0M640.5 843.5h0M639.5 838.5h0M639 834h0M640 828h0M642 910h0M641 905.5h0M641.5 902.5h0M641.5 897h0M641 894.5h0M643 908.5h0M642.5 904h0M642.5 900h0M643 896.5h0M645.5 907.5h0M645 903h0M644.5 899.5h0M646 894.5h0M645 894h0M650 904h0M651.5 899h0M650.5 893h0M651 888h0M651 883.5h0M651.5 879h0M650.5 873h0M650 869h0M651 863.5h0M650.5 859h0M650.5 853h0M651 849.5h0M651.5 843.5h0M651.5 840h0M651 835h0M651 903.5h0M651.5 898.5h0M652 892.5h0M651.5 889.5h0M652 884h0M652 903h0M651.5 898h0M653 892.5h0M653 887h0M652 883.5h0M652.5 879h0M653.5 874.5h0M653.5 871.5h0M652 868.5h0M652.5 865h0M657.5 900.5h0M656.5 895.5h0M657 891h0M657 888h0M656 883h0M656.5 878.5h0M656.5 874.5h0M656 870.5h0M657 866.5h0M656.5 862h0M656 858h0M656.5 853h0M656 848.5h0M656.5 845h0M661.5 897.5h0M660.5 893.5h0M662 890h0M661 889.5h0M663 896.5h0M662.5 895h0M664 894.5h0M665 889.5h0M664.5 886h0M665 881h0M664.5 880.5h0M668 892h0M667 886h0M668 880.5h0M668 875h0M667.5 871h0M666.5 866h0M667 863h0M669 891h0M668.5 888.5h0M669.5 890h0M670 889.5h0M672.5 888h0M672 888h0M672.5 887h0M673.5 882.5h0M673 877h0M673 871h0M673.5 866.5h0M672.5 862.5h0M672.5 859.5h0M673 855.5h0M672.5 852h0M672.5 846.5h0M673 845h0M674 885h0M675.5 881.5h0M675 876h0M675 871h0M675 865h0M675.5 861.5h0M675.5 856h0M675 852h0M675 848.5h0M675.5 845h0M674.5 840.5h0M675.5 836.5h0M675.5 831h0M674 826h0M675 824h0M678.5 882h0M677 878.5h0M677.5 878h0M678.5 880.5h0M680.5 875h0M679.5 870h0M680.5 878.5h0M681 872.5h0M681.5 868.5h0M683 877h0M683.5 872h0M684 870h0M685 876.5h0M686 872.5h0M685 868.5h0M685 864.5h0M685 861.5h0M687.5 876h0M687.5 872.5h0M686.5 872h0M687.5 875.5h0M687 872.5h0M688 867.5h0M687 863h0M688 859.5h0M686.5 856h0M688 851.5h0M687.5 846.5h0M686.5 842h0M688 838.5h0M687.5 834.5h0M687.5 829h0M686.5 823h0M687 818.5h0M688 814h0M687.5 808.5h0M687.5 804.5h0M687.5 801.5h0M690 875h0M689.5 870.5h0M689.5 864.5h0M690 859.5h0M690 875h0M690 869h0M690 865h0M691 859h0M689.5 855.5h0M691 850h0M689.5 846.5h0M689.5 840.5h0M690.5 836h0M691 832h0M689 828h0M689 823h0M690.5 818h0M690.5 814.5h0M690 814h0M691 874.5h0M691.5 871.5h0M691.5 868h0M690.5 864.5h0M691 863.5h0M692 874h0M692.5 870h0M693 866.5h0M692.5 861.5h0M693.5 857h0M693 851h0M691.5 847.5h0M692.5 843.5h0M694.5 874h0M694.5 870.5h0M694.5 866.5h0M693.5 860.5h0M694 857h0M693 851.5h0M693.5 847.5h0M693.5 843h0M694 839.5h0M696.5 873h0M696.5 867.5h0M696.5 862.5h0M696 859h0M697 854.5h0M697 850h0M696 845.5h0M697.5 841.5h0M696.5 837h0M696.5 836h0M697.5 872.5h0M696.5 868.5h0M696.5 865h0M696.5 861h0M697 860.5h0M697 872.5h0M698.5 866.5h0M697 862.5h0M698 858h0M698.5 853.5h0M697 850.5h0M698 850h0M700 872h0M701 866.5h0M701.5 862h0M700 858.5h0M701 855.5h0M700 852.5h0M701.5 849.5h0M701.5 845.5h0M699.5 840.5h0M700.5 837.5h0M705.5 869.5h0M705 865.5h0M705.5 862.5h0M706 869h0M707 864.5h0M706 859h0M706 854h0M705.5 850.5h0M706.5 850.5h0M707.5 868.5h0M707.5 864h0M708.5 860.5h0M706.5 855h0M706.5 850.5h0M708 846.5h0M707.5 840.5h0M706.5 835.5h0M707 831h0M708 827h0M707.5 825h0M709.5 867.5h0M710 864.5h0M713.5 865.5h0M713.5 862h0M716 864h0M716 861h0M717 856.5h0M717.5 851h0M717 847.5h0M717.5 863.5h0M717 860.5h0M717.5 858h0M720 862h0M719.5 857h0M719.5 853.5h0M719.5 848.5h0M719.5 844.5h0M719.5 841.5h0M720 838h0M719.5 833h0M720 828h0M719 824h0M719.5 818.5h0M720.5 815.5h0M720.5 809.5h0M720.5 804h0M720.5 798.5h0M719.5 793h0M720.5 789h0M720 789h0M722 861.5h0M722.5 857h0M721.5 853.5h0M724.5 860h0M724 855h0M725 851h0M725 845.5h0M725 841.5h0M724.5 836h0M723.5 832h0M724.5 826.5h0M724.5 820.5h0M724 814.5h0M723.5 809.5h0M725 806.5h0M725.5 801h0M724 796h0M724.5 792h0M723.5 788h0M724 784h0M724.5 779.5h0M724.5 778h0M726.5 859.5h0M726 856h0M726.5 851h0M726.5 845h0M726 843h0M727 859h0M727 855.5h0M727 851h0M727 848.5h0M729.5 857.5h0M729 853.5h0M729 850h0M729.5 846h0M729.5 843h0M731 857h0M731 852.5h0M731 849.5h0M731.5 844.5h0M735 857.5h0M733.5 852h0M734 847h0M734 846h0M739 858h0M738 854.5h0M738.5 849.5h0M739 847.5h0M741.5 858h0M740.5 853.5h0M740.5 848h0M739.5 844.5h0M740 841.5h0M741 835.5h0M739.5 831.5h0M741 828.5h0M740.5 825h0M740.5 821.5h0M745.5 859h0M746 856.5h0M747 859h0M747 855.5h0M747.5 850.5h0M746 847h0M746 841.5h0M745.5 837.5h0M746.5 834h0M746 828h0M745.5 824.5h0M746.5 820.5h0M746.5 817h0M746.5 811.5h0M745.5 807.5h0M746 802.5h0M747 799.5h0M746.5 795.5h0M749 859.5h0M748 856h0M748.5 853h0M749 849h0M748.5 843h0M748 839h0M749.5 833.5h0M749 828.5h0M749 828h0M751 859.5h0M749.5 856.5h0M750 851h0M749.5 845.5h0M749.5 842h0M751 838h0M750.5 835h0M750 831h0M750 827.5h0M750.5 824.5h0M749 819.5h0M749 814.5h0M749 811.5h0M749.5 808h0M749.5 802h0M749.5 797h0M750 792.5h0M750.5 788h0M750 787.5h0M750.5 859.5h0M750 856h0M751.5 852h0M750 846h0M750 842.5h0M751 838.5h0M750 833h0M751 830h0M750.5 826.5h0M754 860h0M753 856h0M753 851.5h0M754.5 847.5h0M753.5 844h0M753.5 840.5h0M754 836h0M753.5 860h0M754.5 859h0M755 860h0M755 857h0M756 851h0M756.5 847h0M755.5 842.5h0M756.5 838.5h0M755 834.5h0M755.5 830h0M755.5 826h0M756 820.5h0M756 817h0M755.5 860.5h0M756 857.5h0M756 852.5h0M755.5 847h0M756 842.5h0M756.5 837.5h0M756.5 832.5h0M756.5 828h0M755.5 824.5h0M757 821h0M756.5 817.5h0M756.5 812.5h0M756 808h0M755.5 802h0M755.5 798h0M757 793.5h0M755.5 789h0M756.5 786h0M757 782h0M757 776h0M756 772h0M756 771.5h0M760.5 861h0M761 858.5h0M767 861.5h0M766 856.5h0M766 851.5h0M769.5 862h0M767.5 857.5h0M767.5 852.5h0M769 849.5h0M768 845h0M768 841h0M768.5 835.5h0M768 830h0M769 826.5h0M768.5 821.5h0M768 818h0M768.5 813.5h0M769 809.5h0M769 805h0M768 799h0M768.5 794h0M767.5 789h0M768.5 784h0M767.5 779.5h0M767.5 775.5h0M768.5 770h0M769 765.5h0M768.5 761.5h0M769 861.5h0M769 858h0M770 861h0M771.5 857h0M770 851.5h0M770.5 848h0M771 844.5h0M770 841h0M770 835.5h0M770 830.5h0M771.5 827h0M770.5 821.5h0M770.5 819.5h0M775.5 857.5h0M776.5 853h0M775.5 847.5h0M774.5 843h0M774.5 838h0M775.5 837.5h0M776 856.5h0M777 851h0M777.5 846.5h0M777.5 842h0M777.5 839h0M777.5 835.5h0M777 832h0M776 827.5h0M776 821.5h0M777.5 817.5h0M776.5 814h0M776 810.5h0M776.5 806.5h0M776.5 802.5h0M776.5 798h0M777.5 794h0M776.5 792h0M779.5 855h0M779.5 849.5h0M779 844.5h0M779.5 839.5h0M779 839.5h0M786 855h0M786.5 851h0M786.5 845.5h0M786.5 841h0M786.5 836.5h0M785 832.5h0M785.5 829.5h0M785 824.5h0M786 819h0M786 815h0M786.5 809.5h0M785.5 804h0M785.5 800.5h0M786 797h0M786.5 792.5h0M786 786.5h0M786 783.5h0M786.5 779h0M786.5 775.5h0M785 770.5h0M786.5 766h0M786 761.5h0M786.5 756h0M787 750.5h0M786.5 747h0M786 742h0M785 738h0M785 733.5h0M786 730h0M786.5 726h0M785.5 722.5h0M785.5 717.5h0M786.5 712.5h0M786 709h0M787.5 856.5h0M787 852h0M787 848.5h0M787 843.5h0M786 839.5h0M787 834.5h0M786 831h0M786.5 825.5h0M787.5 822.5h0M786 817.5h0M786 812.5h0M786.5 812h0M788 859h0M788.5 855h0M789 850.5h0M789.5 845h0M788.5 839.5h0M788.5 835h0M789 831h0M788 828h0M788 822.5h0M788.5 818h0M788 815h0M789 810h0M788.5 806h0M788 801h0M789 796h0M788 790.5h0M788.5 786.5h0M788.5 782.5h0M788.5 776.5h0M788 773.5h0M788 770.5h0M787.5 765.5h0M787.5 760h0M789 756h0M789 751h0M788.5 749.5h0M793 864h0M791.5 858h0M792.5 853h0M792 847h0M793 842.5h0M793 839.5h0M792 836h0M792.5 835h0M794 866.5h0M793 862h0M794 858h0M794 853h0M794 851.5h0M796 866h0M795 861.5h0M795.5 856.5h0M794.5 852h0M795 848.5h0M794.5 843.5h0M795 842h0M796.5 864.5h0M796 860h0M796.5 859.5h0M800 858h0M801 853.5h0M800.5 852h0M801.5 854.5h0M802 849.5h0M802 846.5h0M802.5 843h0M802 837h0M802.5 835.5h0M804 851h0M804.5 846.5h0M805 842h0M805 836.5h0M805.5 833.5h0M804.5 828h0M804.5 824.5h0M804.5 820h0M809 849.5h0M808.5 846h0M812.5 858h0M813 856h0M817 864.5h0M817.5 860h0M817 854.5h0M817.5 851h0M818.5 868h0M818.5 863.5h0M818.5 859h0M819 855.5h0M822 873h0M823 867.5h0M823 862h0M822 858h0M821.5 852.5h0M821.5 849h0M821.5 844.5h0M822.5 841.5h0M822.5 838h0M822 834h0M823 830h0M823 826.5h0M821 821.5h0M822 818h0M821.5 814h0M823 809h0M822 803.5h0M823 800.5h0M822 800.5h0M828 881h0M827 879.5h0M828 883h0M829.5 879h0M829.5 874.5h0M828 870h0M829 865.5h0M829 860.5h0M828 857h0M829.5 853.5h0M828 849.5h0M829.5 846.5h0M829.5 842h0M828.5 837h0M829.5 832h0M828.5 826.5h0M828 821.5h0M827.5 818.5h0M829.5 813.5h0M829.5 809h0M829 803.5h0M828.5 800.5h0M828.5 796h0M828.5 791h0M829.5 884.5h0M830 880h0M830.5 876h0M830 870.5h0M829 867h0M829 863.5h0M829.5 857.5h0M829 854.5h0M831 850.5h0M829 847h0M830 842h0M829.5 838.5h0M829.5 833h0M831 829h0M830 828.5h0M834.5 901.5h0M835 897.5h0M834.5 893.5h0M835 889.5h0M835 884.5h0M834 879.5h0M835 874h0M833.5 870.5h0M834.5 866.5h0M834.5 906h0M834.5 902.5h0M835.5 898.5h0M835 894.5h0M836 891h0M835.5 888.5h0M836.5 914h0M836.5 909.5h0M838 905h0M837 900.5h0M836.5 897h0M836 891.5h0M837.5 886h0M837.5 880h0M836.5 875.5h0M837.5 872h0M837.5 867.5h0M837 867.5h0M838 917h0M839 912h0M838.5 908h0M837.5 902.5h0M838 897.5h0M838.5 892h0M837.5 888h0M837.5 884h0M838.5 878.5h0M838.5 873.5h0" stroke="#1f77b4" stroke-width="6" stroke-linecap="round" fill="none"/>
<path d="M116.5 990.7L118.5 989.5L120.5 989.4L122.5 992L124.5 991L126.5 991.8L128.5 991.6L130.5 990.1L132.5 992.2L134.5 992.6L136.5 992.2L138.5 990.6L140.5 993.6L142.5 982L144.5 969.1L146.5 958.7L148.5 957.6L150.5 956.5L152.5 957.8L154.5 959.3L156.5 959.3L158.5 959.7L160.5 956.8L162.5 957.2L164.5 957.7L166.5 958.9L168.5 958.6L170.5 959L172.5 959.2L174.5 963.5L176.5 964.6L178.5 964L180.5 965.2L182.5 963L184.5 964.1L186.5 962.3L188.5 963.8L190.5 960.5L192.5 958.8L194.5 961.9L196.5 960.5L198.5 958.8L200.5 955.9L202.5 955.4L204.5 954.8L206.5 953.6L208.5 955L210.5 954.2L212.5 951.7L214.5 949.9L216.5 948L218.5 948.9L220.5 946.5L222.5 947.3L224.5 944.2L226.5 944.3L228.5 942.9L230.5 943.5L232.5 942.7L234.5 941.2L236.5 939.6L238.5 937.9L240.5 935L242.5 934.1L244.5 934.2L246.5 929.7L248.5 928.7L250.5 930.8L252.5 933.6L254.5 930.7L256.5 932.8L258.5 934.7L260.5 934.1L262.5 937.7L264.5 937L266.5 936.3L268.5 937.4L270.5 937.5L272.5 937.7L274.5 938L276.5 939.5L278.5 937L280.5 933.9L282.5 930.7L284.5 929.6L286.5 927.4L288.5 927.6L290.5 928.6L292.5 930L294.5 929.9L296.5 929.5L298.5 930.3L300.5 929.5L302.5 932.1L304.5 929.7L306.5 930.5L308.5 931.4L310.5 930.1L312.5 929.2L314.5 931.1L316.5 929.3L318.5 932.8L320.5 932.4L322.5 932L324.5 930.7L326.5 932.5L328.5 930.6L330.5 932.2L332.5 932.6L334.5 931.3L336.5 931.5L338.5 929.9L340.5 931.8L342.5 932.9L344.5 933.5L346.5 931.7L348.5 932.7L350.5 930.5L352.5 932.2L354.5 930.5L356.5 931.1L358.5 933.5L360.5 932.3L362.5 931L364.5 930.1L366.5 933.9L368.5 933.6L370.5 931.4L372.5 933.2L374.5 931.8L376.5 931.8L378.5 932.4L380.5 931.9L382.5 933.3L384.5 931.8L386.5 931.6L388.5 932.1L390.5 932.7L392.5 933.2L394.5 931.8L396.5 932.8L398.5 933.5L400.5 933.5L402.5 931.3L404.5 932.5L406.5 933.1L408.5 932.7L410.5 934.7L412.5 933L414.5 934.3L416.5 934.9L418.5 934.2L420.5 935.3L422.5 934.6L424.5 936L426.5 937.5L428.5 936.5L430.5 936.2L432.5 936.6L434.5 934.7L436.5 936.2L438.5 937.5L440.5 937.8L442.5 942.2L444.5 945.4L446.5 944.3L448.5 948.6L450.5 950.8L452.5 953.2L454.5 955.5L456.5 960L458.5 961.5L460.5 963.7L462.5 966.3L464.5 962.5L466.5 960L468.5 956.3L470.5 956.9L472.5 953.8L474.5 949.6L476.5 946.1L478.5 945.5L480.5 944.4L482.5 944.8L484.5 946.6L486.5 946.9L488.5 948.6L490.5 946.5L492.5 947.1L494.5 950.1L496.5 951.1L498.5 949.4L500.5 950.6L502.5 952.6L504.5 952.3L506.5 954.1L508.5 954L510.5 952.3L512.5 955.3L514.5 954.8L516.5 958.2L518.5 958L520.5 956.4L522.5 959L524.5 960.2L526.5 961.1L528.5 963.1L530.5 963.2L532.5 961.2L534.5 962.8L536.5 962.7L538.5 965.4L540.5 964.2L542.5 968.9L544.5 967.2L546.5 966.7L548.5 970.3L550.5 968.2L552.5 968.9L554.5 967.5L556.5 966.3L558.5 963.5L560.5 961.3L562.5 962.2L564.5 960.1L566.5 956.2L568.5 958.1L570.5 956.6L572.5 953.8L574.5 952.7L576.5 952.7L578.5 954.1L580.5 953.8L582.5 951.2L584.5 951L586.5 952.5L588.5 951.4L590.5 951.3L592.5 948.8L594.5 948.5L596.5 950.7L598.5 950.8L600.5 948.4L602.5 948.4L604.5 946.9L606.5 944.2L608.5 945.2L610.5 946.5L612.5 944.9L614.5 941.9L616.5 940.6L618.5 940.8L620.5 939.9L622.5 935L624.5 931.3L626.5 929.6L628.5 926.1L630.5 920.8L632.5 918L634.5 914.7L636.5 912.3L638.5 908.8L640.5 907.5L642.5 909L644.5 906L646.5 902.7L648.5 904.3L650.5 900.9L652.5 902.9L654.5 901.1L656.5 898.6L658.5 897.8L660.5 895.1L662.5 892.6L664.5 894L666.5 891.1L668.5 888.7L670.5 887L672.5 886.9L674.5 881.4L676.5 882L678.5 877.3L680.5 875.8L682.5 876.3L684.5 876L686.5 872L688.5 873.9L690.5 872.7L692.5 871.6L694.5 870.1L696.5 870.1L698.5 872.2L700.5 869.5L702.5 869.5L704.5 868.4L706.5 865L708.5 866L710.5 866.1L712.5 864.2L714.5 862.8L716.5 862.4L718.5 863L720.5 860.9L722.5 857.3L724.5 859.7L726.5 858.9L728.5 857.2L730.5 854L732.5 855.4L734.5 856.6L736.5 856.1L738.5 854.3L740.5 856L742.5 856.8L744.5 858.1L746.5 856.6L748.5 859L750.5 857.1L752.5 857.9L754.5 857.4L756.5 859.3L758.5 859.3L760.5 857.9L762.5 859.3L764.5 858.1L766.5 860.2L768.5 859.1L770.5 859.3L772.5 858.3L774.5 856.2L776.5 853.3L778.5 852.7L780.5 850.7L782.5 850.5L784.5 853L786.5 854.8L788.5 855.9L790.5 858.3L792.5 863.4L794.5 863.7L796.5 861L798.5 860.4L800.5 856.9L802.5 851.7L804.5 850L806.5 847.7L808.5 846.8L810.5 849.7L812.5 854.5L814.5 855.6L816.5 861.4L818.5 862.7L820.5 867.5L822.5 869.9L824.5 873.9L826.5 876L828.5 882.7L830.5 884.6L832.5 892.2L834.5 899.5L836.5 909.4L838.5 916.9L840.5 923.5L842.5 927.6L844.5 935L846.5 944L848.5 951.6L850.5 959.9L852.5 964.5L854.5 974.8L856.5 980.1L858.5 982.5L860.5 984.9L862.5 993L864.5 993.5L866.5 1000L868.5 1003.2L870.5 1008.1L872.5 1007.8L874.5 1011L876.5 1016.3L878.5 1018.4L880.5 1016.1L882.5 1018.6L884.5 1021.1L886.5 1020.4L888.5 1020.9L890.5 1023L892.5 1022.9L894.5 1023.6L896.5 1025.7L898.5 1025.9L900.5 1025.9L902.5 1026.4L904.5 1026.8L906.5 1027.8L908.5 1027.5L910.5 1027.7L912.5 1028L914.5 1027.7L916.5 1028L918.5 1028.1L920.5 1027.3L922.5 1027.7L924.5 1028.5L926.5 1028.1L928.5 1028L930.5 1028L932.5 1027.7L934.5 1028.1L936.5 1027.4L938.5 1027.8L940.5 1028.3L942.5 1027.5L944.5 1027.8L946.5 1027.3L948.5 1028.1L950.5 1028.4L952.5 1028L954.5 1028.4L956.5 1027.6L958.5 1028.3L960.5 1027.6L962.5 1028.2L964.5 1027.3L966.5 1028L968.5 1027.5L970.5 1027.6L972.5 1027.2L974.5 1027.6L976.5 1027.4L978.5 1028.2L980.5 1027.5L982.5 1027.3L984.5 1028.4L986.5 1027.9L988.5 1027.4L990.5 1028.3L992.5 1027.6L994.5 1027.4L996.5 1027.7L998.5 1028L1000.5 1027.7L1002.5 1027.8L1004.5 1027.4L1006.5 1027.4L1008.5 1027.9L1010.5 1027.5L1012.5 1027.9L1014.5 1028.3L1016.5 1028.4L1018.5 1028.5L1020.5 1027.4L1022.5 1027.9L1024.5 1027.7L1026.5 1028.4L1028.5 1028L1030.5 1028.1L1032.5 1027.4L1034.5 1028.1L1036.5 1028.3L1038.5 1027.6L1040.5 1028.2L1042.5 1027.3L1044.5 1027.8L1046.5 1027.8L1048.5 1028.1L1050.5 1027.8L1052.5 1028.3L1054.5 1027.6L1056.5 1027.5L1058.5 1028.5L1060.5 1027.3L1062.5 1027.6L1064.5 1027.7L1066.5 1027.2L1068.5 1027.5L1070.5 1028.3L1072.5 1027.8L1074.5 1027.9L1076.5 1027.1L1078.5 1027.7L1080.5 1027.3L1082.5 1028.1L1084.5 1028L1086.5 1027.5L1088.5 1027.8L1090.5 1028L1092.5 1027.4L1094.5 1027.3L1096.5 1028.5L1098.5 1028.2L1100.5 1027.9L1102.5 1028.3L1104.5 1027.6L1106.5 1027.2L1108.5 1027.2L1110.5 1028L1112.5 1027.4L1114.5 1028.4L1116.5 1027.8L1118.5 1027.7L1120.5 1028.4L1122.5 1028.4L1124.5 1028.4L1126.5 1027.6L1128.5 1027.6L1130.5 1027.5L1132.5 1028.3L1134.5 1028.2L1136.5 1028.4L1138.5 1027.3L1140.5 1028.4L1142.5 1028.4L1144.5 1028.1L1146.5 1028.1L1148.5 1027.8L1150.5 1027.2L1152.5 1028.5L1154.5 1027.9L1156.5 1027.3L1158.5 1028.1L1160.5 1027.9L1162.5 1027.2L1164.5 1027.3L1166.5 1028.1L1168.5 1027.6L1170.5 1027.8L1172.5 1027.5L1174.5 1028.3L1176.5 1027.8L1178.5 1027.5L1180.5 1028.1L1182.5 1028.2L1184.5 1028.1L1186.5 1028.3L1188.5 1028L1190.5 1028.5L1192.5 1028.5L1194.5 1027.3L1196.5 1027.9L1198.5 1028.3L1200.5 1028L1202.5 1027.7L1204.5 1028.1L1206.5 1027.9L1208.5 1028.1L1210.5 1027.5L1212.5 1027.3L1214.5 1027.4L1216.5 1028.1L1218.5 1027.5L1220.5 1027.2L1222.5 1028.2L1224.5 1027.7L1226.5 1027.9L1228.5 1027.7L1230.5 1028.1L1232.5 1028.4L1234.5 1027.8L1236.5 1028.4L1238.5 1028.4L1240.5 1027.1L1242.5 1027.4L1244.5 1027.3L1246.5 1028.1L1248.5 1028.4L1250.5 1027.7L1252.5 1028.1L1254.5 1028.2L1256.5 1028L1258.5 1027.3L1260.5 1027.2L1262.5 1027.7L1264.5 1028.1L1266.5 1028.3L1268.5 1028.3L1270.5 1028.3L1272.5 1028.3L1274.5 1028L1276.5 1027.6L1278.5 1027.7L1280.5 1028.3L1282.5 1027.2L1284.5 1027.6L1286.5 1027.5L1288.5 1028.5L1290.5 1027.9L1292.5 1028.2L1294.5 1028.2L1296.5 1027.3L1298.5 1027.8L1300.5 1028.5L1302.5 1028.3L1304.5 1027.9L1306.5 1027.6L1308.5 1027.7L1310.5 1028.5L1312.5 1028.4L1314.5 1027.9L1316.5 1027.5L1318.5 1028.1L1320.5 1027.5L1322.5 1027.3L1324.5 1028.3L1326.5 1027.6L1328.5 1027.9L1330.5 1027.5L1332.5 1027.7L1334.5 1027.9L1336.5 1027.6L1338.5 1028.2L1340.5 1027.9L1342.5 1027.3L1344.5 1028.3L1346.5 1027.9L1348.5 1027.2L1350.5 1028.2L1352.5 1027.3L1354.5 1027.2L1356.5 1027.5L1358.5 1027.4L1360.5 1027.7L1362.5 1028.1L1364.5 1028.2L1366.5 1028.2L1368.5 1027.6L1370.5 1028L1372.5 1027.9L1374.5 1027.8L1376.5 1027.8L1378.5 1027.7L1380.5 1027.1L1382.5 1027.5L1384.5 1026L1386.5 1026.1L1388.5 1025.1L1390.5 1024.5L1392.5 1022.9L1394.5 1025.1L1396.5 1022.6L1398.5 1019.4L1400.5 1021.9L1402.5 1017.7L1404.5 1022.2L1406.5 1022.4L1408.5 1021L1410.5 1021.3L1412.5 1022.6L1414.5 1021.6L1416.5 1022.5L1418.5 1022.1L1420.5 1021.1L1422.5 1019L1424.5 1018.6L1426.5 1021.2L1428.5 1018.6L1430.5 1017L1432.5 1013.6L1434.5 1013.1L1436.5 1010.2L1438.5 1008.5L1440.5 1007.2L1442.5 1005.9L1444.5 1006L1446.5 1002.5L1448.5 1001.7L1450.5 999L1452.5 998.5L1454.5 985.7L1456.5 977.2L1458.5 972.3L1460.5 971.2L1462.5 966.1L1462.5 1022.5L1460.5 1024L1458.5 1027.3L1456.5 1028.2L1454.5 1028.7L1452.5 1027.4L1450.5 1030.2L1448.5 1028.2L1446.5 1030.5L1444.5 1029.3L1442.5 1031.1L1440.5 1031.8L1438.5 1030.2L1436.5 1034.2L1434.5 1034.2L1432.5 1030.5L1430.5 1031.6L1428.5 1032.4L1426.5 1030.4L1424.5 1032.4L1422.5 1033.2L1420.5 1032.3L1418.5 1030.9L1416.5 1032.7L1414.5 1032.7L1412.5 1030.8L1410.5 1034L1408.5 1033.8L1406.5 1033.3L1404.5 1032.2L1402.5 1032.4L1400.5 1032.1L1398.5 1034.3L1396.5 1031.5L1394.5 1034.3L1392.5 1031.9L1390.5 1031.6L1388.5 1033.9L1386.5 1032.9L1384.5 1033.9L1382.5 1032.9L1380.5 1033.7L1378.5 1033.4L1376.5 1033L1374.5 1033.7L1372.5 1032.9L1370.5 1032.9L1368.5 1034L1366.5 1033.2L1364.5 1034.2L1362.5 1033.1L1360.5 1033.1L1358.5 1033L1356.5 1033.4L1354.5 1033.4L1352.5 1033L1350.5 1033.6L1348.5 1033.8L1346.5 1033.7L1344.5 1033L1342.5 1033.5L1340.5 1033L1338.5 1033.3L1336.5 1034L1334.5 1033.4L1332.5 1033.4L1330.5 1033.3L1328.5 1033.1L1326.5 1033.5L1324.5 1033.8L1322.5 1034L1320.5 1033.7L1318.5 1033.3L1316.5 1033L1314.5 1033.8L1312.5 1033.5L1310.5 1033.7L1308.5 1033.1L1306.5 1034.3L1304.5 1033.4L1302.5 1033.1L1300.5 1033.6L1298.5 1033.9L1296.5 1034L1294.5 1034.2L1292.5 1033L1290.5 1033.1L1288.5 1033.3L1286.5 1033.9L1284.5 1033L1282.5 1034.1L1280.5 1034L1278.5 1033.3L1276.5 1032.9L1274.5 1033.3L1272.5 1034L1270.5 1033.7L1268.5 1034.2L1266.5 1033.5L1264.5 1033.3L1262.5 1033.2L1260.5 1033.8L1258.5 1033L1256.5 1033.3L1254.5 1033L1252.5 1034.2L1250.5 1034L1248.5 1032.9L1246.5 1034.3L1244.5 1033.8L1242.5 1034.2L1240.5 1033.1L1238.5 1033.2L1236.5 1033L1234.5 1033.9L1232.5 1033L1230.5 1033.6L1228.5 1034.1L1226.5 1033.1L1224.5 1033.9L1222.5 1033.3L1220.5 1033.3L1218.5 1033L1216.5 1033.8L1214.5 1033L1212.5 1034.3L1210.5 1033L1208.5 1033.6L1206.5 1033.5L1204.5 1034.2L1202.5 1034L1200.5 1034L1198.5 1033.4L1196.5 1034.2L1194.5 1033.1L1192.5 1033.1L1190.5 1033.9L1188.5 1033.5L1186.5 1033.4L1184.5 1033.1L1182.5 1033L1180.5 1034.3L1178.5 1033.8L1176.5 1033.4L1174.5 1033.5L1172.5 1033.7L1170.5 1033.4L1168.5 1033L1166.5 1034L1164.5 1033.5L1162.5 1033.7L1160.5 1033.2L1158.5 1033.5L1156.5 1033.2L1154.5 1033.1L1152.5 1033.7L1150.5 1034.1L1148.5 1033.1L1146.5 1033.4L1144.5 1033.8L1142.5 1033.4L1140.5 1033.9L1138.5 1033.2L1136.5 1033.8L1134.5 1034L1132.5 1033.9L1130.5 1033.7L1128.5 1033.4L1126.5 1034.2L1124.5 1034.1L1122.5 1034.2L1120.5 1033.1L1118.5 1033L1116.5 1033.1L1114.5 1033L1112.5 1033.7L1110.5 1034.1L1108.5 1033.8L1106.5 1033.4L1104.5 1033.5L1102.5 1034.2L1100.5 1033L1098.5 1033.6L1096.5 1033L1094.5 1033.4L1092.5 1033L1090.5 1033.3L1088.5 1034.3L1086.5 1033.9L1084.5 1034.1L1082.5 1033.1L1080.5 1033.9L1078.5 1034.2L1076.5 1033.8L1074.5 1034.3L1072.5 1033.2L1070.5 1033L1068.5 1034L1066.5 1033.3L1064.5 1033.8L1062.5 1033.8L1060.5 1034.2L1058.5 1034.2L1056.5 1034L1054.5 1034L1052.5 1033.5L1050.5 1033.8L1048.5 1033.7L1046.5 1033.2L1044.5 1032.9L1042.5 1034.1L1040.5 1034L1038.5 1033.2L1036.5 1032.9L1034.5 1033L1032.5 1033.2L1030.5 1033.1L1028.5 1034L1026.5 1033.9L1024.5 1033L1022.5 1033.8L1020.5 1033.3L1018.5 1034.3L1016.5 1032.9L1014.5 1033.7L1012.5 1034L1010.5 1033.8L1008.5 1033.2L1006.5 1033.5L1004.5 1033.5L1002.5 1033.5L1000.5 1033L998.5 1034.1L996.5 1033.4L994.5 1034L992.5 1034.2L990.5 1033.8L988.5 1033.8L986.5 1033.1L984.5 1033.7L982.5 1033.3L980.5 1033.9L978.5 1034.2L976.5 1034.3L974.5 1033.7L972.5 1033L970.5 1034.3L968.5 1033.5L966.5 1033.8L964.5 1034.1L962.5 1034.1L960.5 1032.9L958.5 1033.8L956.5 1033.5L954.5 1033.7L952.5 1033.6L950.5 1033.7L948.5 1034L946.5 1033.4L944.5 1033.4L942.5 1034.3L940.5 1034.3L938.5 1033.7L936.5 1034.2L934.5 1033.4L932.5 1034L930.5 1034.1L928.5 1033.6L926.5 1033.6L924.5 1033.4L922.5 1033.6L920.5 1034L918.5 1033.9L916.5 1034.3L914.5 1033.9L912.5 1033.4L910.5 1034.2L908.5 1033.1L906.5 1033.1L904.5 1033.1L902.5 1033L900.5 1033.3L898.5 1031.9L896.5 1031.6L894.5 1032L892.5 1031.8L890.5 1031.6L888.5 1033.1L886.5 1031.6L884.5 1030L882.5 1030.8L880.5 1028.8L878.5 1029.5L876.5 1029.5L874.5 1028.3L872.5 1030.8L870.5 1027.3L868.5 1029L866.5 1028.7L864.5 1028.1L862.5 1023.8L860.5 1025.8L858.5 1023.2L856.5 1022.4L854.5 1020.7L852.5 1022.2L850.5 1015.9L848.5 1014.9L846.5 1015L844.5 1017L842.5 1013.7L840.5 1015.2L838.5 1015.8L836.5 1014.6L834.5 1012.1L832.5 1010.6L830.5 1011.4L828.5 1012.7L826.5 1011L824.5 1010.4L822.5 1011.8L820.5 1011.8L818.5 1012.2L816.5 1012.2L814.5 1012.3L812.5 1011.5L810.5 1011.5L808.5 1014.1L806.5 1013.3L804.5 1013.4L802.5 1012.1L800.5 1011.2L798.5 1013.8L796.5 1013.3L794.5 1013.4L792.5 1014.5L790.5 1012.7L788.5 1014.1L786.5 1011.2L784.5 1011.5L782.5 1011.6L780.5 1015.1L778.5 1013.7L776.5 1014.8L774.5 1013.8L772.5 1012.7L770.5 1012.6L768.5 1014L766.5 1014.5L764.5 1013.1L762.5 1011.8L760.5 1011.6L758.5 1014L756.5 1013.4L754.5 1012.4L752.5 1011.5L750.5 1011.8L748.5 1014.9L746.5 1014.3L744.5 1014.8L742.5 1013.4L740.5 1013.7L738.5 1013.5L736.5 1015.1L734.5 1014.8L732.5 1012.2L730.5 1012.8L728.5 1013.9L726.5 1012.1L724.5 1014.3L722.5 1011.8L720.5 1012.7L718.5 1014.2L716.5 1015.6L714.5 1013.7L712.5 1014.4L710.5 1014.3L708.5 1012.1L706.5 1013.8L704.5 1015.1L702.5 1012.3L700.5 1012.8L698.5 1013.8L696.5 1014L694.5 1013.9L692.5 1015.4L690.5 1016.1L688.5 1012.8L686.5 1013.5L684.5 1013.3L682.5 1014L680.5 1014.4L678.5 1013.2L676.5 1014.9L674.5 1016.1L672.5 1014.4L670.5 1013.6L668.5 1016.9L666.5 1014.6L664.5 1016L662.5 1016.9L660.5 1014.3L658.5 1016.6L656.5 1016.5L654.5 1015.2L652.5 1015.9L650.5 1014.3L648.5 1016.8L646.5 1013.6L644.5 1016.2L642.5 1016.1L640.5 1015.2L638.5 1015.3L636.5 1015.8L634.5 1014.7L632.5 1017.3L630.5 1014.7L628.5 1016.5L626.5 1016.3L624.5 1015.3L622.5 1015.2L620.5 1017.9L618.5 1016L616.5 1016L614.5 1016.3L612.5 1017L610.5 1015.5L608.5 1018.3L606.5 1016.4L604.5 1015.9L602.5 1016.9L600.5 1018.3L598.5 1016.8L596.5 1015.6L594.5 1018.3L592.5 1016.9L590.5 1015.6L588.5 1015.4L586.5 1017.6L584.5 1015.6L582.5 1018.2L580.5 1018.5L578.5 1019.4L576.5 1017.7L574.5 1016.1L572.5 1018L570.5 1018.4L568.5 1018.3L566.5 1017.3L564.5 1017.9L562.5 1018.8L560.5 1019.4L558.5 1018.5L556.5 1019.9L554.5 1018.2L552.5 1019.7L550.5 1016.9L548.5 1018.5L546.5 1020.2L544.5 1018.2L542.5 1019.9L540.5 1018.3L538.5 1016.8L536.5 1017.1L534.5 1020.5L532.5 1019.9L530.5 1020.2L528.5 1019.8L526.5 1020.7L524.5 1019.1L522.5 1019.2L520.5 1018.5L518.5 1020.8L516.5 1021.2L514.5 1020.2L512.5 1019.8L510.5 1018.3L508.5 1021.2L506.5 1018L504.5 1021.4L502.5 1021.3L500.5 1019.3L498.5 1018.1L496.5 1019.8L494.5 1020.8L492.5 1021.5L490.5 1020.3L488.5 1018.7L486.5 1020.7L484.5 1018.4L482.5 1021.1L480.5 1020.6L478.5 1019L476.5 1018.3L474.5 1019.6L472.5 1019.2L470.5 1020.6L468.5 1021.4L466.5 1018.6L464.5 1021.8L462.5 1020.2L460.5 1021.3L458.5 1021.2L456.5 1019.1L454.5 1020L452.5 1022.8L450.5 1020.8L448.5 1022.9L446.5 1022L444.5 1023.1L442.5 1022.3L440.5 1021.4L438.5 1020.4L436.5 1024.1L434.5 1022.8L432.5 1024.4L430.5 1022.3L428.5 1023L426.5 1022.6L424.5 1021.6L422.5 1024.4L420.5 1021.9L418.5 1021.8L416.5 1024.5L414.5 1025.7L412.5 1024.4L410.5 1023.8L408.5 1025.7L406.5 1025.4L404.5 1026.2L402.5 1025.5L400.5 1025.7L398.5 1024.6L396.5 1023.3L394.5 1026.5L392.5 1025.4L390.5 1023.3L388.5 1024.8L386.5 1025.5L384.5 1026.4L382.5 1022.8L380.5 1025.3L378.5 1023.6L376.5 1024L374.5 1022.6L372.5 1023.3L370.5 1025.1L368.5 1023.8L366.5 1025.9L364.5 1025.3L362.5 1023.1L360.5 1024.7L358.5 1022.3L356.5 1024.6L354.5 1023.6L352.5 1022.4L350.5 1024.5L348.5 1024.1L346.5 1024.6L344.5 1024.5L342.5 1022.8L340.5 1022.5L338.5 1024.9L336.5 1023.4L334.5 1024.3L332.5 1025L330.5 1021.2L328.5 1021.2L326.5 1023.5L324.5 1023.2L322.5 1023.4L320.5 1021.2L318.5 1020.9L316.5 1021.5L314.5 1023L312.5 1022.1L310.5 1022.6L308.5 1022.7L306.5 1024.4L304.5 1022.2L302.5 1023.3L300.5 1022.4L298.5 1022.1L296.5 1023.5L294.5 1023.8L292.5 1023L290.5 1024L288.5 1022L286.5 1021.2L284.5 1023.1L282.5 1023.5L280.5 1023.8L278.5 1021.3L276.5 1022.7L274.5 1021.8L272.5 1024.2L270.5 1021.5L268.5 1024.2L266.5 1024.6L264.5 1023L262.5 1023.4L260.5 1020.5L258.5 1021.1L256.5 1022.1L254.5 1021.8L252.5 1019.6L250.5 1019.5L248.5 1019.4L246.5 1022.1L244.5 1020.8L242.5 1019L240.5 1021.1L238.5 1017.4L236.5 1019.5L234.5 1019.5L232.5 1023.3L230.5 1023.7L228.5 1024.1L226.5 1024.8L224.5 1027.5L222.5 1026.9L220.5 1025L218.5 1026.7L216.5 1024.5L214.5 1024.8L212.5 1025.6L210.5 1026.9L208.5 1025L206.5 1024.4L204.5 1027.3L202.5 1027.8L200.5 1027.8L198.5 1025.3L196.5 1026.2L194.5 1026.8L192.5 1026.9L190.5 1026.3L188.5 1027.3L186.5 1027.7L184.5 1025.7L182.5 1026.1L180.5 1025.9L178.5 1026.8L176.5 1028.3L174.5 1025.9L172.5 1026.2L170.5 1025.9L168.5 1025.3L166.5 1027.2L164.5 1025.7L162.5 1028.5L160.5 1027.7L158.5 1027.8L156.5 1027.4L154.5 1028.2L152.5 1026.2L150.5 1026.6L148.5 1029.6L146.5 1027.7L144.5 1026.6L142.5 1028.6L140.5 1028.9L138.5 1028.3L136.5 1028.2L134.5 1028L132.5 1029L130.5 1029.8L128.5 1029.1L126.5 1029.2L124.5 1028L122.5 1030.6L120.5 1031.6L118.5 1030L116.5 1029.3Z" fill="#1f77b4" stroke="#1f77b4" stroke-width="4" stroke-linejoin="round"/>
<path d="M116.5 1017.8L119.2 988.5L121.2 995L123 985.1L125.9 998.8L128.2 980.9L130.1 988.4L132.7 997L133.8 1011.1L136.6 996.7L138 1005.2L140.9 997.9L143.6 1006.8L145.5 998.8L146.7 1001.7L149.1 986L151.3 996.6L153.9 978L155.9 993.4L158.6 996.8L160.6 1016.9L162.7 1006.7L164.7 1004.8L167.8 982.9L169.8 1005L172.2 986.3L174.2 1006L176.4 1002.2L177.8 1014.5L180.2 1004.3L182.5 1021.8L183.9 998.2L187.3 1006.4L189.4 985.6L191 1002.6L192.6 993.2L196 1004.9L198.5 998.1L200.8 1006.1L203.2 987.9L204.9 1001.4L206.9 990.9L208.7 996.9L210.7 988.2L214 992.2L215.7 979.3L218.4 989.4L220.4 987.6L221.2 992.4L224.8 987L226.1 989.9L228 981.6L231.3 988L233.6 974.4L235 978.2L236.9 970.5L238.8 979.1L242 965.2L243.6 976.4L246.4 957.8L247.9 958.4L251.2 945.6L252.7 974L254.3 988.8L256.8 978.9L259.4 956.6L261 970.2L264 963.9L266.3 992.3L267.4 994.2L270.1 1001L272 988.6L274.5 986L278 976.6L278.8 980.8L282.1 965.5L284.2 979.1L286 960.6L288.8 968.7L290.8 960.7L293.3 978.2L294.2 982.7L296.7 989.3L298.7 960.1L301.3 959.9L303.8 942.8L305.7 959.9L308.7 945.6L310.4 961.8L312.2 970.7L313.6 989.3L317.6 983.7L319.8 977.8L320.6 932.2L323 930.9L325.8 945.2L328.1 996.2L330.2 967L332.8 976.1L333.5 950.6L335.7 965.6L337.9 942.9L340.4 952.5L342.5 962.1L345 982.8L346.9 972.9L349.8 984.1L351.5 969.4L353.2 969.1L356.7 965.7L358.8 974L360.3 976.6L362.8 988.8L365.8 971.5L366.8 966.1L369.3 946.7L371.8 953.8L374.7 945.8L376.4 976L377.6 968.8L380.5 979.6L382.7 965L385.3 968.3L387.8 959.4L388.7 976.2L390.9 960.6L392.9 979.1L396.2 968.3L397.7 985.5L400.6 978.5L402.9 984.6L405.3 982.1L406.3 986.9L408.5 965.5L410.9 970.6L413.7 964.8L415.1 977.8L417.5 980.2L419.9 989.7L422.9 978.1L424.5 986.4L426.6 961.6L428.4 980.4L431.7 969.4L432.8 976.1L435.4 963.2L437.1 981.6L439 972.6L442.1 993.9L443.9 976.8L446.8 971.5L448 961.5L450.9 983.5L453.1 985L456 1001.2L457.1 985L459.5 988.5L462.5 976.8L463.3 987.3L465.6 973L469.1 988.7L471.2 973.9L472.2 984L474.4 973.2L477.9 984.9L480.3 968.3L482.1 980.7L483.6 964.5L485.2 975.9L488 972.4L490.4 976.1L492.9 961.6L494.3 975L497.7 965.5L499.4 968.4L501 962.3L504.2 970.8L505.2 968.3L507.6 973.4L509.6 969.9L512.4 984.4L514.7 980.8L517.5 986.9L519.1 977.6L521.2 989.9L523.1 980L525.3 994.5L527.5 993.1L530.3 1007.5L532.9 994L534.1 1004.1L536.7 988L539.3 997.9L540.9 980L542.7 996.5L545.4 981L548.4 983.4L549.8 979.8L552 989.4L553.7 979.8L556.4 986.5L558.7 972.6L560.4 987.9L562.9 976.3L565.7 986.7L568.1 973.7L569.3 986.8L572 980.2L573.3 987.6L575.6 972.8L577.9 980.1L580.3 969.4L582 980L585.8 974L587.3 983.2L589.4 968.3L591.7 979.1L593.9 969.3L595.7 977.1L598.5 962.4L599.9 969L603.2 960.4L604.1 970.2L606.5 951.8L608.9 963.3L610.9 949.4L613.7 958.3L615.5 947.7L618 959.8L620.3 960.2L623 977.6L624.2 957.8L627.6 959.8L628.9 947.1L630.6 955.7L632.7 938.7L634.9 949L637.1 934.8L640.2 954.4L642.9 954.5L644.8 966.7L646.2 956.7L648.1 969.7L651.4 970.6L654 978.4L656.3 974.9L657.5 985.2L660.2 972.4L662.3 973.4L664.8 956.3L667.3 967L668.5 934.4L671.6 933.4L673 903.4L675.6 904.4L677.4 911.7L679.1 946L681.5 933.2L685 943.5L685.7 927.7L688.7 938.9L689.9 923.1L692.9 945.8L694.3 942.1L697.1 929.5L699.1 873.7L702.4 882.2L704.4 904.8L707 933.4L709.1 930.2L710.3 938.8L713.5 928.9L715.3 938.6L717.9 935.2L719.2 946L721.2 936.1L723.2 949.5L725.4 938.3L727.3 925.1L731 861.6L733.2 884.4L734.3 900.8L736.7 936L738.7 925.2L741.2 944.3L743.5 931.2L746.5 944.9L747.5 931.8L750.5 928.4L752.8 906.7L754.6 928L756.3 942L758.1 969.1L760.3 939.7L763.1 933.5L765.4 904.3L767.2 900.8L770.7 891.6L771.6 910.2L774.9 921.7L776.3 933.1L778.4 916.5L780.4 934.1L783 911.8L785.7 935.5L788.4 933.9L789.5 947.4L791.5 940.2L794.9 961.2L795.6 941.8L799.3 938.2L800.2 906L802.6 900.7L805.7 870.2L807.7 871.3L810.2 895.9L811.9 941.8L814.2 935.6L816.8 921.4L819.1 893L820.1 910.9L823.1 919.5L825.4 947.5L827.2 915.9L829.2 917.6L831.9 927.6L834 957.1L836.5 963.2L838.4 985.7L840.2 976.7L843.3 985.9L844.3 984.8L846.4 998.2L849.3 983.6L850.9 994.3L852.8 996.2L855.7 1001.1L857.1 1002.6L859.8 1007.4L862.6 1008.8L864.7 1014.2L867.3 1015.9L868.5 1021.6L870.9 1021.4L873.5 1024.5L875.8 1023.3L877.9 1025.7L879.3 1024.9L881.8 1028.4L884.5 1026.3L886.1 1029.4L888 1027.8L890.9 1029.3L893.9 1026.5L895.4 1030.2L896.8 1028.6L899.9 1031L901.6 1029.9L903.6 1031.8L906.6 1031.2L909.1 1032.1L910.1 1031.3L912.6 1031.2L914.8 1031.9L916.9 1032.6L919.4 1030.8L922.3 1031.3L924.5 1030.7L927 1031.7L927.7 1031.7L931.2 1032L933.3 1031.4L935.7 1031.6L936.7 1030.9L940 1032.4L941.1 1030.4L943.1 1032L946.7 1031.4L948.2 1031.8L950.3 1031.3L952 1031.8L954.4 1031.7L956.8 1031.8L959.4 1031.9L962 1032L962.8 1031.6L966.3 1032.6L968.1 1031.7L971 1031.2L972 1030.8L975.3 1032.2L977.5 1030.9L978.7 1031.3L980.5 1032.4L982.9 1031.6L984.7 1031.9L987.6 1031.8L990.5 1031.9L992 1031.9L994.9 1031L996.1 1031.7L998.9 1031.4L1000.3 1031.3L1002.9 1030.2L1004.7 1031.8L1007.7 1031.8L1009.5 1032.6L1011.5 1031.2L1014.7 1031.9L1015.4 1031.3L1018.7 1032.1L1020.7 1031.3L1022.8 1031.7L1025.7 1030.4L1026.7 1031.6L1029.9 1031.2L1031.9 1032L1034.6 1031.7L1036.5 1032L1038.7 1030.6L1040 1032.9L1042.8 1032L1045.5 1031.7L1046.7 1032.6L1050.1 1032L1050.9 1031.1L1053.8 1032.1L1055.6 1031.3L1058.4 1030.9L1059.7 1031.9L1061.8 1032.1L1064.2 1031.6L1067.5 1031.7L1068.8 1032.1L1071.6 1031.4L1073.9 1031.6L1075.1 1031.8L1078.2 1030.6L1080.8 1031.4L1081.8 1030.7L1085.1 1032.1L1086.1 1032.1L1089.6 1031.9L1091.8 1032.1L1092.8 1032.1L1096 1030.4L1097.6 1031.6L1099.9 1031.2L1102.6 1030.5L1104.9 1031.4L1105.9 1031.8L1109 1031.1L1111.5 1031.7L1113.6 1031.4L1115 1032.9L1117 1031.3L1118.9 1031.9L1122 1031.8L1124.6 1031.8L1126.3 1032.1L1127.7 1032.3L1130.5 1031L1132.9 1032.3L1135.6 1032L1138.1 1032.4L1139.5 1030.9L1142.2 1032.2L1143.3 1032.2L1145.8 1031.8L1147.9 1031.1L1150.7 1032.1L1153.5 1030.8L1154.1 1031.4L1156.5 1031.6L1159.7 1031.7L1161.8 1032.2L1164.5 1032.2L1166.6 1031.6L1167.7 1032.6L1170.6 1031L1172.7 1032.3L1174.5 1031.3L1177 1032.2L1178.6 1031.3L1182 1032.1L1184.2 1032.2L1186.3 1031.4L1187.9 1032L1190.3 1032.6L1192.4 1031.2L1195 1032.1L1197.4 1032.4L1198.3 1032L1201.5 1031.4L1203.8 1032.2L1205.7 1031.7L1208.4 1032.2L1210.8 1031.8L1212.6 1031.9L1214.1 1031L1216.9 1031.8L1219.1 1031.9L1220.4 1032L1224 1031.5L1225.4 1032.3L1227.4 1032L1229 1031.8L1232.6 1032.6L1233.9 1032.1L1235.9 1031.3L1238.8 1032.5L1240.7 1032.2L1243.7 1032.4L1244.4 1031.7L1246.4 1030.8L1249.1 1032L1251.4 1032.2L1253.1 1031.9L1256.9 1031.8L1257.5 1031.3L1260.3 1032.5L1263.5 1031.9L1265 1032.9L1266.9 1031.1L1269.5 1032.1L1271.4 1031.7L1273.2 1031.6L1275.3 1032.2L1277.8 1032L1280.2 1031.8L1282.9 1032.5L1284.9 1032.2L1286 1031.6L1288.7 1031.4L1291.1 1032.9L1292.8 1032.2L1295.7 1031.4L1298 1030L1300.9 1032.8L1301.5 1032.6L1304.9 1031.9L1306.2 1031.8L1309.2 1031.1L1312 1032.2L1312.9 1031L1316.1 1031.2L1318.1 1032L1320.3 1031.5L1321.6 1032L1325 1033L1326.3 1032.1L1329.5 1031.9L1331.4 1032.3L1333 1031.7L1334.5 1031.2L1337.5 1031.8L1340.6 1032.2L1342 1031.1L1343.6 1031.6L1345.8 1031.8L1348.3 1032.1L1350.8 1032.1L1353.7 1033L1355.5 1032.3L1357.4 1031.8L1358.8 1030.9L1362 1033.2L1363.8 1029.8L1366.1 1033.6L1368.9 1029L1370.5 1032.4L1371.9 1030.3L1374.5 1032.3L1376.8 1029.8L1379.6 1031.5L1382.4 1029.6L1383.8 1031.5L1386.4 1029.7L1387.5 1029.4L1390.7 1025.9L1392.1 1028.4L1394.8 1025.5L1396.4 1025.4L1398.7 1022.5L1400.9 1023.6L1402.7 1025.3L1405.5 1030.4L1407.4 1028.6L1410.1 1031.8L1411.8 1028.4L1414.3 1029.6L1417.2 1026.9L1419.8 1029.8L1421.4 1026.6L1423 1028L1426.3 1025.3L1427.4 1026.6L1429.2 1024.4L1433 1026.5L1434.2 1022.1L1436 1024.4L1439 1021.2L1440.6 1021.3L1442.6 1018.3L1446 1019.5L1446.8 1014.5L1449.3 1014.6L1452.6 1014.2L1453.6 1017.9L1456 1016.9L1459 1010.2L1462.5 996" fill="none" stroke="#ff7f0e" stroke-width="2.1" stroke-linejoin="round"/>
</g>
<rect x="116.5" y="38.4" width="1346" height="479.9" fill="none" stroke="#000" stroke-width="1.1" stroke-linejoin="miter"/>
<g stroke="#000" stroke-width="1.1"><path d="M116.5 518.3 V523.2"/><path d="M284.7 518.3 V523.2"/><path d="M453 518.3 V523.2"/><path d="M621.2 518.3 V523.2"/><path d="M789.5 518.3 V523.2"/><path d="M957.7 518.3 V523.2"/><path d="M1126 518.3 V523.2"/><path d="M1294.2 518.3 V523.2"/></g>
<rect x="116.5" y="575.3" width="1346" height="479" fill="none" stroke="#000" stroke-width="1.1" stroke-linejoin="miter"/>
<g stroke="#000" stroke-width="1.1"><path d="M116.5 1054.3 V1059.2"/><path d="M284.7 1054.3 V1059.2"/><path d="M453 1054.3 V1059.2"/><path d="M621.2 1054.3 V1059.2"/><path d="M789.5 1054.3 V1059.2"/><path d="M957.7 1054.3 V1059.2"/><path d="M1126 1054.3 V1059.2"/><path d="M1294.2 1054.3 V1059.2"/></g>
<g stroke="#000" stroke-width="1.1"><path d="M111.5 83.3 H116.5"/><path d="M111.5 173.6 H116.5"/><path d="M111.5 263.9 H116.5"/><path d="M111.5 354.1 H116.5"/><path d="M111.5 444.4 H116.5"/><path d="M111.5 628.4 H116.5"/><path d="M111.5 709.3 H116.5"/><path d="M111.5 790.2 H116.5"/><path d="M111.5 871.2 H116.5"/><path d="M111.5 952.1 H116.5"/><path d="M111.5 1033 H116.5"/></g>
<rect x="1047.7" y="48.7" width="405.8" height="79.3" rx="3" ry="3" fill="#fff" fill-opacity="0.8" stroke="#cccccc" stroke-opacity="0.8" stroke-width="1.1"/>
<circle cx="1073.4" cy="63.4" r="3" fill="#1f77b4"/>
<path d="M1052.9 101.4 H1092" stroke="#ff7f0e" stroke-width="2.1"/>
<rect x="1047.7" y="585.6" width="405.8" height="79.3" rx="3" ry="3" fill="#fff" fill-opacity="0.8" stroke="#cccccc" stroke-opacity="0.8" stroke-width="1.1"/>
<circle cx="1073.4" cy="600.3" r="3" fill="#1f77b4"/>
<path d="M1052.9 638.3 H1092" stroke="#ff7f0e" stroke-width="2.1"/>
<text x="643.37" y="29.90" font-size="28.80" textLength="281.21" lengthAdjust="spacingAndGlyphs">2.5 MHz N0000003</text>
<text x="116.30" y="30.00" font-size="28.00" textLength="40.41" lengthAdjust="spacingAndGlyphs">(a)</text>
<text x="116.34" y="566.90" font-size="28.00" textLength="41.38" lengthAdjust="spacingAndGlyphs">(b)</text>
<text x="764.53" y="1157.60" font-size="22.20" textLength="48.46" lengthAdjust="spacingAndGlyphs">UTC</text>
<text x="1105.83" y="68.80" font-size="18.40" textLength="98.83" lengthAdjust="spacingAndGlyphs">Raw Data</text>
<text x="1105.60" y="95.70" font-size="18.40" textLength="269.76" lengthAdjust="spacingAndGlyphs">Butterworth Filtered Data</text>
<text x="1105.88" y="116.50" font-size="18.40" textLength="340.14" lengthAdjust="spacingAndGlyphs">(N=6, Tc=3.3333 min, Type: low)</text>
<text x="1105.83" y="605.70" font-size="18.40" textLength="98.83" lengthAdjust="spacingAndGlyphs">Raw Data</text>
<text x="1105.60" y="632.60" font-size="18.40" textLength="269.76" lengthAdjust="spacingAndGlyphs">Butterworth Filtered Data</text>
<text x="1105.88" y="653.40" font-size="18.40" textLength="340.14" lengthAdjust="spacingAndGlyphs">(N=6, Tc=3.3333 min, Type: low)</text>
<text x="91.48" y="90.69" font-size="22.60" textLength="14.79" lengthAdjust="spacingAndGlyphs">2</text>
<text x="91.19" y="180.97" font-size="22.60" textLength="14.64" lengthAdjust="spacingAndGlyphs">1</text>
<text x="89.64" y="271.25" font-size="22.60" textLength="16.25" lengthAdjust="spacingAndGlyphs">0</text>
<text x="72.02" y="361.53" font-size="22.60" textLength="32.47" lengthAdjust="spacingAndGlyphs">−1</text>
<text x="72.00" y="451.81" font-size="22.60" textLength="32.85" lengthAdjust="spacingAndGlyphs">−2</text>
<text x="50.91" y="635.80" font-size="22.60" textLength="53.55" lengthAdjust="spacingAndGlyphs">0.25</text>
<text x="50.90" y="716.72" font-size="22.60" textLength="53.93" lengthAdjust="spacingAndGlyphs">0.20</text>
<text x="50.91" y="797.64" font-size="22.60" textLength="53.55" lengthAdjust="spacingAndGlyphs">0.15</text>
<text x="50.90" y="878.56" font-size="22.60" textLength="53.93" lengthAdjust="spacingAndGlyphs">0.10</text>
<text x="50.91" y="959.48" font-size="22.60" textLength="53.55" lengthAdjust="spacingAndGlyphs">0.05</text>
<text x="50.90" y="1040.40" font-size="22.60" textLength="53.93" lengthAdjust="spacingAndGlyphs">0.00</text>
<text transform="translate(112.15 1078.90) rotate(-30)" x="-110.11" y="0" font-size="23.20" textLength="111.27" lengthAdjust="spacingAndGlyphs">01-31 00</text>
<text transform="translate(280.41 1078.90) rotate(-30)" x="-110.11" y="0" font-size="23.20" textLength="111.13" lengthAdjust="spacingAndGlyphs">01-31 03</text>
<text transform="translate(448.66 1078.90) rotate(-30)" x="-110.11" y="0" font-size="23.20" textLength="111.13" lengthAdjust="spacingAndGlyphs">01-31 06</text>
<text transform="translate(616.92 1078.90) rotate(-30)" x="-110.11" y="0" font-size="23.20" textLength="111.16" lengthAdjust="spacingAndGlyphs">01-31 09</text>
<text transform="translate(785.18 1078.90) rotate(-30)" x="-110.11" y="0" font-size="23.20" textLength="111.24" lengthAdjust="spacingAndGlyphs">01-31 12</text>
<text transform="translate(953.43 1078.90) rotate(-30)" x="-110.11" y="0" font-size="23.20" textLength="110.89" lengthAdjust="spacingAndGlyphs">01-31 15</text>
<text transform="translate(1121.69 1078.90) rotate(-30)" x="-110.11" y="0" font-size="23.20" textLength="110.98" lengthAdjust="spacingAndGlyphs">01-31 18</text>
<text transform="translate(1289.94 1078.90) rotate(-30)" x="-110.11" y="0" font-size="23.20" textLength="110.89" lengthAdjust="spacingAndGlyphs">01-31 21</text>
<text transform="translate(60.50 390.00) rotate(-90)" x="-1.79" y="0" font-size="22.20" textLength="226.30" lengthAdjust="spacingAndGlyphs">Doppler Shift [Hz]</text>
<text transform="translate(39.90 918.20) rotate(-90)" x="-1.79" y="0" font-size="22.20" textLength="210.20" lengthAdjust="spacingAndGlyphs">Peak Voltage [V]</text>
</svg></body></html>
